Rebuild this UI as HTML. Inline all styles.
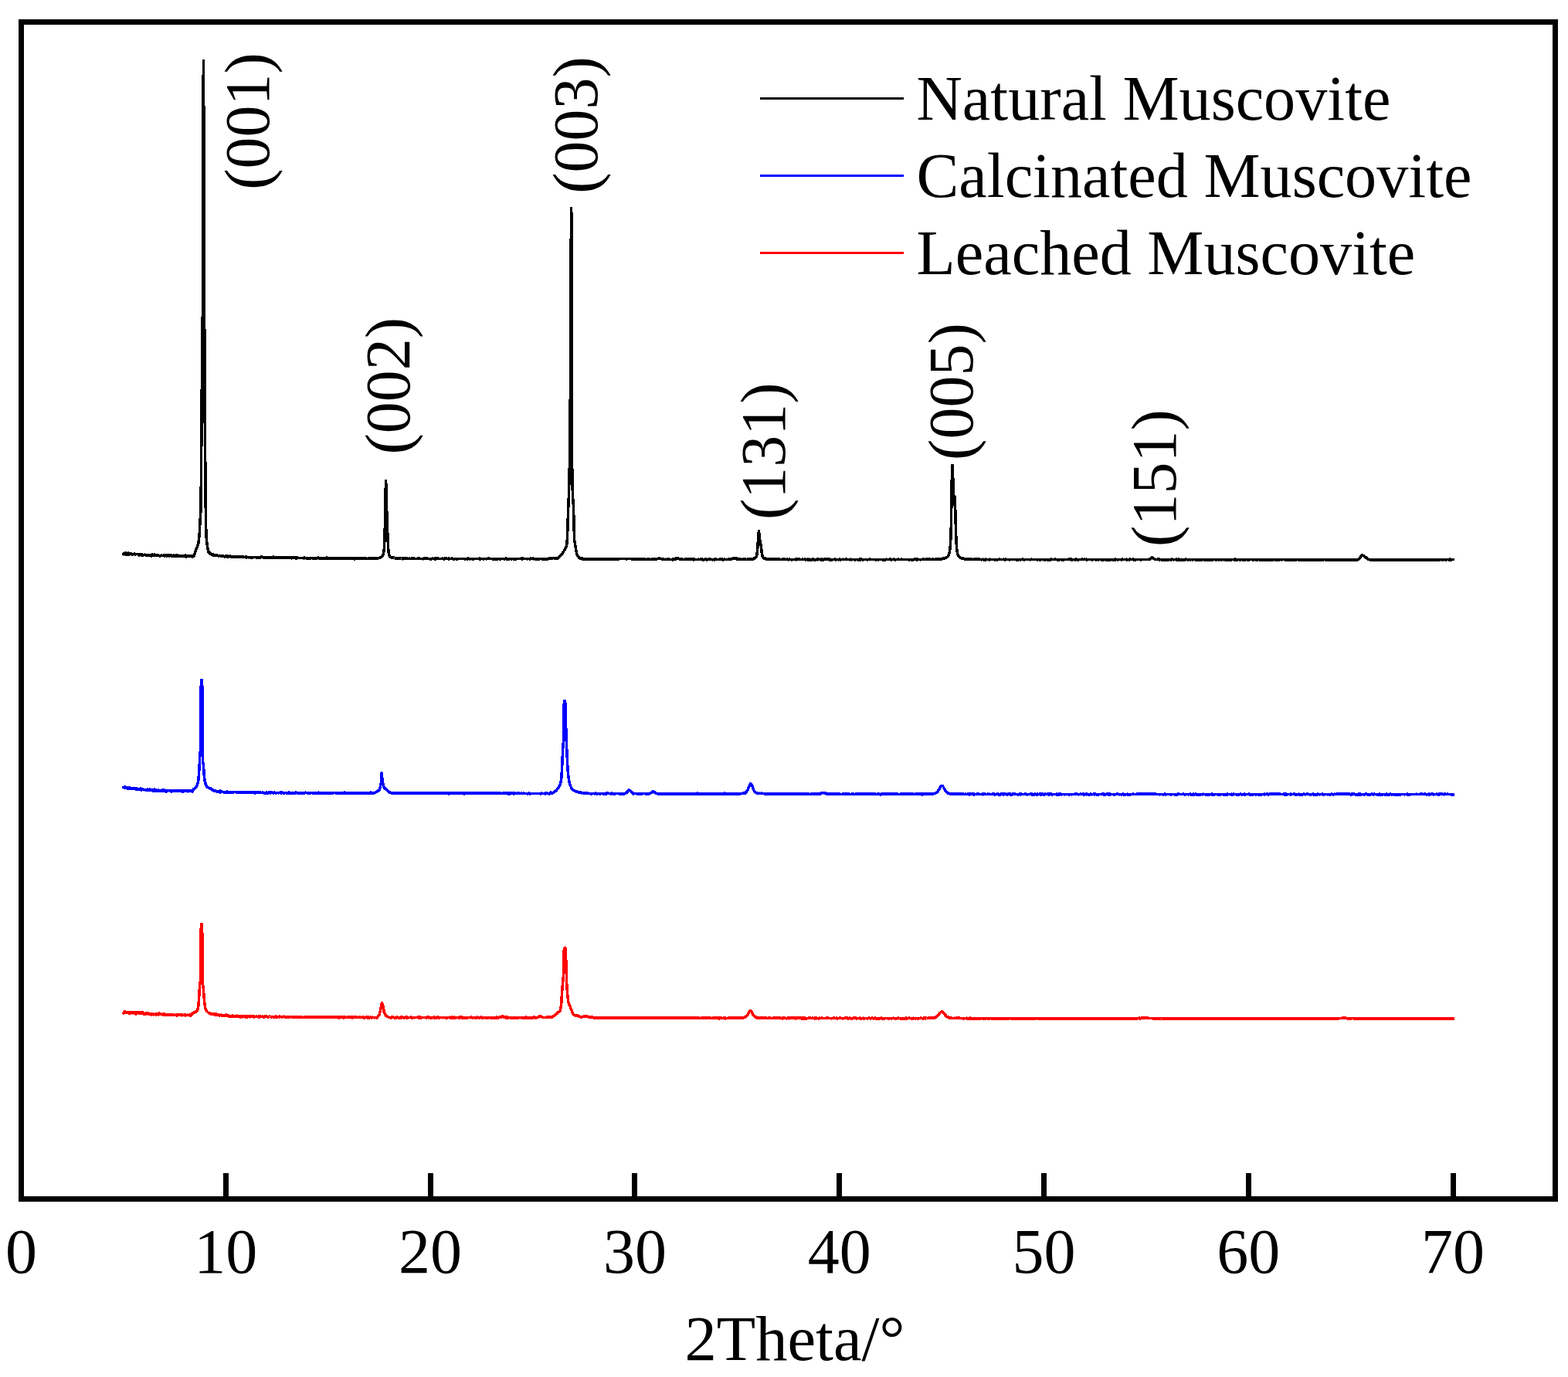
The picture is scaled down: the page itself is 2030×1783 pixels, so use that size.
<!DOCTYPE html>
<html lang="en">
<head>
<meta charset="utf-8">
<title>XRD patterns of muscovite</title>
<style>
html,body{margin:0;padding:0;background:#fff;}
body{width:2030px;height:1783px;overflow:hidden;}
svg{display:block;}
text{font-family:"Liberation Serif","Times New Roman",serif;font-size:82.2px;fill:#000;}
.tk{font-size:82px;text-anchor:middle;}
.pk{font-size:82px;text-anchor:middle;}
.ax{font-size:82.5px;text-anchor:middle;}
.c{fill:none;stroke-width:3.5;stroke-linejoin:round;stroke-linecap:square;shape-rendering:crispEdges;}
.x{shape-rendering:crispEdges;}
</style>
</head>
<body>
<svg width="2030" height="1783" viewBox="0 0 2030 1783">
<rect x="0" y="0" width="2030" height="1783" fill="#fff"/>
<polyline class="c" stroke="#000" points="159.90,717.5 160.43,716.5 160.96,716.5 161.49,716.5 162.02,717.5 162.55,715.5 163.08,718.0 163.61,716.5 164.14,717.0 164.67,717.0 165.20,718.0 165.73,716.0 166.26,717.0 166.78,717.0 167.31,718.0 167.84,716.5 168.37,717.0 168.90,717.0 169.43,717.5 169.96,717.5 170.49,717.0 171.02,718.0 171.55,718.0 172.08,718.0 172.61,718.0 173.14,717.5 173.67,717.5 174.20,717.0 174.73,717.5 175.26,718.0 175.79,717.5 176.32,717.5 176.85,717.5 177.38,717.5 177.91,717.5 178.44,718.0 178.97,717.5 179.50,718.0 180.02,719.0 180.55,718.5 181.08,718.0 181.61,718.0 182.14,718.0 182.67,719.0 183.20,718.5 183.73,718.0 184.26,718.5 184.79,719.5 185.32,718.5 185.85,718.5 186.38,718.5 186.91,718.5 187.44,718.0 187.97,718.5 188.50,718.5 189.03,719.0 189.56,719.0 190.09,719.0 190.62,719.0 191.15,719.0 191.68,718.5 192.21,719.5 192.74,719.0 193.26,718.5 193.79,719.0 194.32,718.5 194.85,719.5 195.38,719.5 195.91,720.0 196.44,718.0 196.97,718.0 197.50,718.5 198.03,719.0 198.56,719.5 199.09,719.0 199.62,718.0 200.15,719.0 200.68,719.5 201.21,719.0 201.74,719.5 202.27,719.0 202.80,719.0 203.33,719.0 203.86,719.5 204.39,719.0 204.92,719.0 205.45,719.0 205.98,719.5 206.50,719.5 207.03,720.0 207.56,720.0 208.09,719.5 208.62,719.0 209.15,719.0 209.68,719.5 210.21,719.5 210.74,719.5 211.27,719.5 211.80,719.0 212.33,719.5 212.86,719.0 213.39,720.0 213.92,719.5 214.45,719.5 214.98,719.0 215.51,719.5 216.04,720.0 216.57,719.0 217.10,719.5 217.63,719.5 218.16,719.0 218.69,719.5 219.22,720.0 219.74,719.0 220.27,719.5 220.80,719.0 221.33,719.5 221.86,719.0 222.39,720.0 222.92,720.0 223.45,719.5 223.98,719.5 224.51,720.0 225.04,720.5 225.57,719.0 226.10,720.0 226.63,720.5 227.16,720.0 227.69,719.0 228.22,720.0 228.75,719.5 229.28,719.5 229.81,719.0 230.34,720.0 230.87,720.0 231.40,719.5 231.93,720.0 232.46,719.5 232.98,720.0 233.51,720.0 234.04,719.5 234.57,720.0 235.10,720.0 235.63,720.0 236.16,720.0 236.69,720.0 237.22,720.0 237.75,720.0 238.28,720.0 238.81,720.0 239.34,720.0 239.87,719.0 240.40,720.5 240.93,721.0 241.46,720.0 241.99,720.0 242.52,720.0 243.05,720.0 243.58,720.0 244.11,719.5 244.64,720.0 245.17,719.5 245.70,720.0 246.22,720.0 246.75,720.0 247.28,720.0 247.81,720.5 248.34,720.0 248.87,721.0 249.40,719.5 249.93,720.0 250.46,720.5 250.99,720.0 251.52,718.0 252.05,716.5 252.58,715.0 253.11,714.0 253.64,712.0 254.17,711.0 254.70,709.5 255.23,708.0 255.76,706.5 256.29,705.5 256.82,703.5 257.35,699.0 257.88,695.0 258.41,688.0 258.94,676.0 259.46,668.0 259.99,660.0 260.52,602.0 261.05,504.5 261.58,577.0 262.11,463.0 262.64,287.0 263.17,105.5 263.50,78.5 264.23,239.5 264.76,426.0 265.29,555.5 265.82,604.0 266.35,669.0 266.88,689.0 267.41,699.5 267.94,703.5 268.47,708.0 269.00,710.5 269.53,712.5 270.06,715.0 270.59,715.5 271.12,716.0 271.65,716.0 272.18,717.0 272.70,717.0 273.23,717.5 273.76,718.0 274.29,718.0 274.82,718.0 275.35,718.5 275.88,718.0 276.41,719.0 276.94,718.5 277.47,719.0 278.00,718.5 278.53,718.5 279.06,719.5 279.59,719.0 280.12,719.0 280.65,719.0 281.18,719.0 281.71,719.5 282.24,719.5 282.77,719.5 283.30,720.0 283.83,719.5 284.36,719.5 284.89,719.5 285.42,719.5 285.94,719.5 286.47,720.5 287.00,720.0 287.53,720.0 288.06,720.5 288.59,720.0 289.12,720.0 289.65,720.5 290.18,720.5 290.71,720.5 291.24,721.0 291.77,720.0 292.30,720.5 292.83,720.5 293.36,719.5 293.89,721.0 294.42,720.5 294.95,720.0 295.48,721.0 296.01,721.0 296.54,721.0 297.07,720.5 297.60,720.5 298.13,720.0 298.66,721.0 299.18,720.5 299.71,721.0 300.24,721.0 300.77,721.0 301.30,721.0 301.83,721.0 302.36,720.5 302.89,721.0 303.42,721.5 303.95,721.0 304.48,721.0 305.01,720.5 305.54,720.5 306.07,720.5 306.60,721.5 307.13,721.0 307.66,721.5 308.19,721.0 308.72,721.0 309.25,721.0 309.78,721.5 310.31,721.0 310.84,721.0 311.37,721.0 311.90,721.5 312.42,721.0 312.95,721.5 313.48,721.0 314.01,721.5 314.54,721.5 315.07,721.0 315.60,721.5 316.13,721.5 316.66,721.5 317.19,721.5 317.72,721.0 318.25,721.5 318.78,722.0 319.31,721.0 319.84,721.5 320.37,721.5 320.90,721.5 321.43,722.0 321.96,721.5 322.49,721.5 323.02,721.5 323.55,721.5 324.08,722.0 324.61,721.5 325.14,722.0 325.66,721.5 326.19,722.5 326.72,722.0 327.25,721.5 327.78,721.5 328.31,721.5 328.84,721.5 329.37,721.5 329.90,721.5 330.43,721.5 330.96,721.5 331.49,722.0 332.02,722.0 332.55,721.5 333.08,722.0 333.61,721.5 334.14,722.0 334.67,722.0 335.20,722.0 335.73,721.5 336.26,721.5 336.79,722.0 337.32,721.5 337.85,721.0 338.38,721.0 338.90,721.0 339.43,721.0 339.96,721.5 340.49,722.0 341.02,721.5 341.55,722.0 342.08,721.5 342.61,722.0 343.14,721.5 343.67,721.5 344.20,722.0 344.73,721.5 345.26,722.0 345.79,722.0 346.32,722.0 346.85,722.0 347.38,721.5 347.91,721.5 348.44,722.0 348.97,722.0 349.50,721.5 350.03,721.5 350.56,721.5 351.09,722.0 351.62,721.5 352.14,722.0 352.67,722.0 353.20,722.0 353.73,722.0 354.26,721.0 354.79,722.0 355.32,722.0 355.85,722.0 356.38,722.0 356.91,722.0 357.44,722.0 357.97,722.5 358.50,722.0 359.03,722.5 359.56,722.0 360.09,721.5 360.62,722.0 361.15,722.5 361.68,722.0 362.21,721.5 362.74,722.0 363.27,722.0 363.80,722.0 364.33,722.0 364.86,722.0 365.38,722.0 365.91,722.0 366.44,721.5 366.97,722.5 367.50,722.0 368.03,722.5 368.56,722.0 369.09,722.5 369.62,721.5 370.15,722.5 370.68,722.0 371.21,722.5 371.74,722.0 372.27,722.0 372.80,722.5 373.33,722.5 373.86,722.0 374.39,722.0 374.92,721.5 375.45,722.0 375.98,722.5 376.51,722.5 377.04,722.0 377.57,723.0 378.10,722.5 378.62,722.5 379.15,721.5 379.68,722.0 380.21,722.0 380.74,722.5 381.27,722.5 381.80,722.0 382.33,722.5 382.86,723.0 383.39,722.0 383.92,722.0 384.45,723.0 384.98,722.5 385.51,722.0 386.04,722.5 386.57,722.5 387.10,722.5 387.63,722.5 388.16,722.5 388.69,722.5 389.22,722.5 389.75,722.5 390.28,722.5 390.81,722.5 391.34,722.5 391.86,722.5 392.39,723.0 392.92,722.5 393.45,722.0 393.98,722.0 394.51,723.0 395.04,722.5 395.57,722.5 396.10,722.5 396.63,723.0 397.16,722.5 397.69,723.0 398.22,722.5 398.75,723.0 399.28,722.5 399.81,722.5 400.34,723.0 400.87,722.5 401.40,722.5 401.93,723.0 402.46,722.5 402.99,722.5 403.52,722.5 404.05,722.5 404.58,723.0 405.10,723.0 405.63,722.5 406.16,722.5 406.69,723.0 407.22,723.0 407.75,723.0 408.28,722.5 408.81,723.0 409.34,722.5 409.87,722.5 410.40,723.0 410.93,722.5 411.46,722.5 411.99,722.0 412.52,722.5 413.05,723.0 413.58,722.5 414.11,723.0 414.64,722.5 415.17,722.5 415.70,723.0 416.23,723.0 416.76,723.0 417.29,723.0 417.82,723.0 418.34,723.0 418.87,722.5 419.40,722.5 419.93,723.0 420.46,722.5 420.99,723.0 421.52,722.5 422.05,722.5 422.58,723.0 423.11,722.0 423.64,722.5 424.17,723.0 424.70,722.5 425.23,723.0 425.76,722.5 426.29,722.5 426.82,723.0 427.35,723.0 427.88,722.5 428.41,723.0 428.94,722.5 429.47,723.0 430.00,723.5 430.53,723.0 431.06,723.0 431.58,722.5 432.11,723.0 432.64,722.5 433.17,722.5 433.70,723.0 434.23,723.0 434.76,723.0 435.29,723.5 435.82,723.0 436.35,723.0 436.88,723.5 437.41,723.0 437.94,723.0 438.47,723.0 439.00,723.0 439.53,723.0 440.06,723.5 440.59,723.5 441.12,722.5 441.65,723.0 442.18,723.0 442.71,723.0 443.24,723.0 443.77,723.0 444.30,723.0 444.82,722.5 445.35,723.0 445.88,723.0 446.41,723.0 446.94,722.5 447.47,723.0 448.00,722.5 448.53,722.5 449.06,723.0 449.59,723.5 450.12,723.5 450.65,722.5 451.18,723.0 451.71,722.5 452.24,723.5 452.77,722.5 453.30,723.0 453.83,723.5 454.36,723.0 454.89,723.5 455.42,723.0 455.95,723.0 456.48,723.5 457.01,723.0 457.54,723.5 458.06,723.0 458.59,722.5 459.12,724.0 459.65,723.0 460.18,723.0 460.71,722.5 461.24,723.0 461.77,723.0 462.30,723.5 462.83,723.0 463.36,723.5 463.89,723.0 464.42,723.0 464.95,723.0 465.48,723.0 466.01,723.0 466.54,723.5 467.07,723.5 467.60,723.0 468.13,723.0 468.66,723.0 469.19,723.5 469.72,723.0 470.25,723.5 470.78,723.0 471.30,723.0 471.83,722.5 472.36,723.0 472.89,723.0 473.42,723.5 473.95,723.5 474.48,723.0 475.01,723.5 475.54,723.5 476.07,723.5 476.60,723.0 477.13,723.5 477.66,723.0 478.19,723.0 478.72,723.0 479.25,723.0 479.78,723.0 480.31,723.0 480.84,723.0 481.37,723.0 481.90,722.5 482.43,723.5 482.96,723.0 483.49,723.5 484.02,723.0 484.54,723.0 485.07,722.5 485.60,722.5 486.13,723.0 486.66,722.5 487.19,723.0 487.72,722.5 488.25,723.0 488.78,722.5 489.31,723.0 489.84,722.5 490.37,722.5 490.90,722.5 491.43,722.5 491.96,722.0 492.49,722.0 493.02,721.5 493.55,721.0 494.08,721.0 494.61,720.5 495.14,720.0 495.67,719.0 496.20,718.0 496.73,715.5 497.26,711.5 497.78,702.0 498.31,682.5 498.84,651.0 499.50,622.5 499.90,628.5 500.43,652.0 500.96,668.5 501.49,682.0 502.02,697.0 502.55,708.0 503.08,714.5 503.61,717.5 504.14,719.0 504.67,720.0 505.20,721.0 505.73,721.5 506.26,721.5 506.79,721.5 507.32,722.0 507.85,722.0 508.38,722.5 508.91,722.0 509.44,722.5 509.97,722.0 510.50,722.5 511.02,722.5 511.55,723.0 512.08,723.0 512.61,723.0 513.14,723.0 513.67,722.5 514.20,723.0 514.73,722.5 515.26,723.0 515.79,723.0 516.32,723.5 516.85,723.0 517.38,723.0 517.91,723.0 518.44,723.0 518.97,723.0 519.50,723.5 520.03,723.5 520.56,723.0 521.09,723.0 521.62,724.0 522.15,723.5 522.68,723.0 523.21,723.5 523.74,723.5 524.26,723.5 524.79,723.5 525.32,723.0 525.85,723.0 526.38,723.0 526.91,723.5 527.44,723.0 527.97,723.5 528.50,723.5 529.03,723.5 529.56,723.0 530.09,723.0 530.62,723.0 531.15,723.5 531.68,723.5 532.21,723.5 532.74,723.0 533.27,723.5 533.80,723.0 534.33,723.5 534.86,723.5 535.39,723.0 535.92,723.0 536.45,723.0 536.98,723.5 537.50,723.5 538.03,723.5 538.56,723.5 539.09,723.5 539.62,723.5 540.15,723.5 540.68,723.5 541.21,723.0 541.74,723.5 542.27,723.5 542.80,723.5 543.33,723.0 543.86,723.5 544.39,723.5 544.92,723.5 545.45,723.5 545.98,723.5 546.51,723.5 547.04,723.5 547.57,724.0 548.10,723.5 548.63,723.5 549.16,723.0 549.69,723.5 550.22,723.5 550.74,723.0 551.27,723.0 551.80,723.5 552.33,723.5 552.86,723.0 553.39,723.5 553.92,723.5 554.45,723.5 554.98,723.5 555.51,723.5 556.04,723.5 556.57,723.5 557.10,724.0 557.63,723.5 558.16,724.0 558.69,723.5 559.22,723.5 559.75,723.5 560.28,723.0 560.81,723.5 561.34,723.5 561.87,723.5 562.40,724.0 562.93,723.0 563.46,723.0 563.98,724.0 564.51,723.5 565.04,723.0 565.57,723.5 566.10,723.5 566.63,723.0 567.16,723.5 567.69,723.5 568.22,723.5 568.75,723.5 569.28,723.5 569.81,723.5 570.34,723.5 570.87,723.5 571.40,723.5 571.93,723.5 572.46,723.0 572.99,723.5 573.52,723.0 574.05,723.5 574.58,723.5 575.11,724.0 575.64,723.0 576.17,723.5 576.70,723.5 577.22,723.5 577.75,723.5 578.28,723.0 578.81,723.5 579.34,723.5 579.87,723.5 580.40,724.0 580.93,723.0 581.46,724.0 581.99,723.5 582.52,723.5 583.05,723.5 583.58,723.5 584.11,723.5 584.64,723.0 585.17,723.5 585.70,723.5 586.23,723.5 586.76,723.5 587.29,724.0 587.82,723.5 588.35,724.0 588.88,723.5 589.41,723.5 589.94,723.5 590.46,723.5 590.99,724.0 591.52,723.5 592.05,724.0 592.58,723.5 593.11,723.5 593.64,723.5 594.17,723.5 594.70,723.5 595.23,723.5 595.76,723.5 596.29,723.5 596.82,723.5 597.35,723.5 597.88,723.5 598.41,723.5 598.94,723.5 599.47,723.5 600.00,723.5 600.53,723.5 601.06,723.5 601.59,723.5 602.12,724.0 602.65,723.5 603.18,723.5 603.70,723.5 604.23,723.5 604.76,724.0 605.29,723.5 605.82,723.5 606.35,723.0 606.88,723.5 607.41,724.0 607.94,723.5 608.47,723.5 609.00,723.5 609.53,724.0 610.06,723.5 610.59,723.5 611.12,723.5 611.65,724.0 612.18,723.5 612.71,724.0 613.24,724.0 613.77,723.5 614.30,723.5 614.83,723.5 615.36,723.5 615.89,723.5 616.42,723.5 616.94,723.5 617.47,723.5 618.00,723.5 618.53,723.5 619.06,723.5 619.59,723.5 620.12,723.5 620.65,724.0 621.18,723.0 621.71,724.0 622.24,724.0 622.77,723.5 623.30,723.5 623.83,723.5 624.36,723.5 624.89,723.5 625.42,724.0 625.95,723.5 626.48,724.0 627.01,723.5 627.54,723.5 628.07,723.5 628.60,723.5 629.13,723.5 629.66,724.0 630.18,723.5 630.71,723.5 631.24,723.5 631.77,723.5 632.30,723.0 632.83,723.5 633.36,723.0 633.89,723.5 634.42,723.5 634.95,723.5 635.48,723.5 636.01,723.5 636.54,723.5 637.07,723.5 637.60,723.5 638.13,724.0 638.66,723.5 639.19,723.5 639.72,724.0 640.25,723.5 640.78,724.0 641.31,723.5 641.84,724.0 642.37,724.0 642.90,723.5 643.42,723.5 643.95,724.0 644.48,724.0 645.01,723.5 645.54,723.5 646.07,723.5 646.60,723.5 647.13,724.0 647.66,723.5 648.19,724.0 648.72,723.5 649.25,723.5 649.78,723.5 650.31,723.5 650.84,723.5 651.37,723.5 651.90,723.5 652.43,724.0 652.96,724.0 653.49,723.5 654.02,723.5 654.55,723.5 655.08,723.0 655.61,724.0 656.14,724.0 656.66,724.0 657.19,723.5 657.72,724.0 658.25,723.5 658.78,724.0 659.31,724.0 659.84,723.5 660.37,723.5 660.90,723.5 661.43,723.5 661.96,724.0 662.49,723.5 663.02,723.5 663.55,723.5 664.08,723.5 664.61,724.0 665.14,723.5 665.67,723.5 666.20,724.0 666.73,723.5 667.26,723.5 667.79,724.0 668.32,723.5 668.85,723.5 669.38,723.5 669.90,723.5 670.43,723.5 670.96,723.5 671.49,723.5 672.02,723.5 672.55,723.5 673.08,723.5 673.61,723.5 674.14,723.5 674.67,723.5 675.20,723.0 675.73,724.0 676.26,723.5 676.79,723.0 677.32,723.5 677.85,723.5 678.38,723.5 678.91,723.5 679.44,723.5 679.97,723.5 680.50,723.5 681.03,723.5 681.56,723.5 682.09,723.5 682.62,724.0 683.14,723.5 683.67,723.5 684.20,723.5 684.73,723.5 685.26,723.5 685.79,723.5 686.32,724.0 686.85,723.5 687.38,723.0 687.91,723.5 688.44,723.5 688.97,723.5 689.50,723.5 690.03,723.0 690.56,724.0 691.09,723.5 691.62,723.5 692.15,723.5 692.68,723.5 693.21,724.0 693.74,724.0 694.27,724.0 694.80,724.0 695.33,723.5 695.86,723.5 696.38,724.0 696.91,724.0 697.44,723.5 697.97,724.0 698.50,723.5 699.03,723.5 699.56,723.5 700.09,723.5 700.62,723.5 701.15,723.5 701.68,723.5 702.21,724.0 702.74,724.0 703.27,723.5 703.80,724.0 704.33,723.5 704.86,723.5 705.39,724.0 705.92,723.5 706.45,724.0 706.98,723.5 707.51,724.0 708.04,723.5 708.57,724.5 709.10,723.5 709.62,723.5 710.15,723.5 710.68,723.0 711.21,723.5 711.74,723.5 712.27,723.5 712.80,723.0 713.33,722.5 713.86,723.0 714.39,723.0 714.92,723.0 715.45,722.5 715.98,722.5 716.51,722.5 717.04,722.5 717.57,722.5 718.10,723.0 718.63,723.0 719.16,723.0 719.69,723.0 720.22,723.0 720.75,723.5 721.28,723.0 721.81,723.0 722.34,723.0 722.86,722.5 723.39,722.0 723.92,721.5 724.45,721.0 724.98,720.0 725.51,719.5 726.04,719.0 726.57,718.0 727.10,718.0 727.63,717.5 728.16,716.5 728.69,715.5 729.22,714.5 729.75,714.0 730.28,713.0 730.81,712.5 731.34,711.5 731.87,710.5 732.40,709.5 732.93,708.5 733.46,707.5 733.99,702.5 734.52,695.5 735.05,677.5 735.58,661.5 736.10,649.5 736.63,634.0 737.16,610.5 737.69,586.5 738.22,530.0 738.75,395.5 739.50,269.5 739.81,276.5 740.34,581.5 740.87,614.0 741.40,641.5 741.93,648.5 742.46,656.0 742.99,675.5 743.52,699.0 744.05,701.5 744.58,704.5 745.11,708.0 745.64,711.5 746.17,714.0 746.70,717.0 747.23,718.5 747.76,719.0 748.29,720.5 748.82,721.0 749.34,721.5 749.87,722.5 750.40,723.0 750.93,722.5 751.46,723.0 751.99,723.0 752.52,723.5 753.05,723.5 753.58,724.0 754.11,723.0 754.64,724.0 755.17,724.0 755.70,724.0 756.23,724.0 756.76,724.0 757.29,724.0 757.82,724.0 758.35,723.5 758.88,724.0 759.41,724.5 759.94,724.0 760.47,724.0 761.00,724.0 761.53,724.0 762.06,724.0 762.58,724.0 763.11,724.5 763.64,724.0 764.17,724.0 764.70,724.0 765.23,724.0 765.76,724.0 766.29,724.5 766.82,724.0 767.35,724.0 767.88,724.0 768.41,724.0 768.94,724.0 769.47,724.0 770.00,724.5 770.53,724.0 771.06,723.5 771.59,724.0 772.12,724.0 772.65,724.0 773.18,724.0 773.71,724.0 774.24,723.5 774.77,724.0 775.30,724.0 775.82,724.0 776.35,724.0 776.88,723.5 777.41,723.5 777.94,724.0 778.47,723.5 779.00,724.5 779.53,724.0 780.06,724.5 780.59,723.5 781.12,724.5 781.65,724.0 782.18,724.0 782.71,724.0 783.24,724.0 783.77,723.5 784.30,724.0 784.83,724.0 785.36,724.0 785.89,724.0 786.42,724.0 786.95,724.0 787.48,724.0 788.01,724.0 788.54,724.0 789.06,724.0 789.59,724.0 790.12,724.0 790.65,724.5 791.18,724.0 791.71,724.0 792.24,724.5 792.77,724.0 793.30,724.0 793.83,724.0 794.36,724.0 794.89,724.0 795.42,724.0 795.95,724.0 796.48,724.0 797.01,724.0 797.54,724.0 798.07,724.0 798.60,724.5 799.13,724.0 799.66,724.0 800.19,724.5 800.72,724.0 801.25,723.5 801.78,723.5 802.30,723.5 802.83,723.5 803.36,723.5 803.89,723.5 804.42,723.5 804.95,723.5 805.48,723.5 806.01,723.5 806.54,723.5 807.07,723.5 807.60,723.5 808.13,723.5 808.66,723.5 809.19,723.5 809.72,723.5 810.25,723.5 810.78,724.0 811.31,723.5 811.84,723.5 812.37,723.5 812.90,723.5 813.43,723.5 813.96,723.5 814.49,723.5 815.02,723.5 815.54,723.5 816.07,723.5 816.60,723.5 817.13,723.5 817.66,724.0 818.19,723.5 818.72,724.5 819.25,724.0 819.78,723.5 820.31,724.5 820.84,724.0 821.37,724.0 821.90,724.0 822.43,724.0 822.96,724.5 823.49,724.0 824.02,724.0 824.55,724.0 825.08,724.5 825.61,724.5 826.14,724.0 826.67,724.5 827.20,724.0 827.73,724.0 828.26,724.5 828.78,724.5 829.31,724.5 829.84,724.0 830.37,724.5 830.90,724.0 831.43,724.0 831.96,724.5 832.49,724.0 833.02,724.0 833.55,724.0 834.08,724.5 834.61,724.0 835.14,724.0 835.67,724.5 836.20,724.5 836.73,724.5 837.26,724.5 837.79,724.5 838.32,724.0 838.85,724.5 839.38,724.0 839.91,724.0 840.44,724.5 840.97,724.0 841.50,724.0 842.02,724.5 842.55,724.5 843.08,724.5 843.61,724.0 844.14,724.0 844.67,724.5 845.20,724.5 845.73,724.0 846.26,724.5 846.79,724.5 847.32,724.5 847.85,724.0 848.38,724.5 848.91,724.5 849.44,724.0 849.97,723.5 850.50,724.0 851.03,723.5 851.56,723.5 852.09,723.5 852.62,723.0 853.15,723.5 853.68,723.0 854.21,723.5 854.74,723.5 855.26,723.5 855.79,723.5 856.32,723.5 856.85,724.0 857.38,724.0 857.91,724.0 858.44,724.0 858.97,724.5 859.50,724.0 860.03,724.5 860.56,724.5 861.09,724.5 861.62,724.0 862.15,724.5 862.68,724.5 863.21,724.5 863.74,724.0 864.27,724.5 864.80,724.5 865.33,724.5 865.86,724.0 866.39,724.5 866.92,724.5 867.45,724.5 867.98,724.5 868.50,724.5 869.03,724.5 869.56,724.5 870.09,724.5 870.62,724.0 871.15,725.0 871.68,724.0 872.21,724.0 872.74,724.0 873.27,723.5 873.80,723.5 874.33,724.0 874.86,724.0 875.39,723.5 875.92,722.5 876.45,723.0 876.98,723.0 877.51,723.0 878.04,723.0 878.57,723.5 879.10,723.5 879.63,723.5 880.16,724.0 880.69,724.0 881.22,724.0 881.74,724.5 882.27,724.0 882.80,724.5 883.33,724.0 883.86,724.5 884.39,724.5 884.92,724.5 885.45,724.5 885.98,724.5 886.51,724.5 887.04,724.0 887.57,724.5 888.10,724.0 888.63,724.5 889.16,724.0 889.69,724.5 890.22,724.5 890.75,724.5 891.28,724.0 891.81,724.0 892.34,724.5 892.87,724.0 893.40,724.0 893.93,724.0 894.46,724.5 894.98,724.0 895.51,724.5 896.04,724.0 896.57,724.5 897.10,724.0 897.63,724.0 898.16,725.0 898.69,724.0 899.22,724.5 899.75,724.5 900.28,724.5 900.81,724.5 901.34,724.5 901.87,724.5 902.40,724.5 902.93,724.5 903.46,724.5 903.99,724.5 904.52,724.0 905.05,724.5 905.58,724.5 906.11,724.5 906.64,724.0 907.17,724.0 907.70,724.5 908.22,724.5 908.75,724.0 909.28,724.0 909.81,724.5 910.34,725.0 910.87,725.0 911.40,724.5 911.93,724.5 912.46,724.0 912.99,724.5 913.52,724.0 914.05,724.0 914.58,724.5 915.11,725.0 915.64,724.5 916.17,724.5 916.70,724.5 917.23,724.0 917.76,724.5 918.29,724.5 918.82,724.5 919.35,724.0 919.88,724.5 920.41,724.0 920.94,724.5 921.46,724.5 921.99,724.5 922.52,725.0 923.05,724.5 923.58,724.5 924.11,724.5 924.64,724.0 925.17,725.0 925.70,724.5 926.23,724.5 926.76,724.0 927.29,724.5 927.82,724.5 928.35,724.5 928.88,724.5 929.41,724.5 929.94,724.5 930.47,724.5 931.00,724.5 931.53,724.0 932.06,724.5 932.59,724.0 933.12,724.0 933.65,724.5 934.18,724.0 934.70,723.5 935.23,724.5 935.76,724.5 936.29,725.0 936.82,724.5 937.35,724.5 937.88,724.0 938.41,724.0 938.94,724.5 939.47,724.5 940.00,724.5 940.53,724.5 941.06,724.5 941.59,724.5 942.12,724.5 942.65,724.5 943.18,724.0 943.71,724.5 944.24,724.0 944.77,724.5 945.30,724.0 945.83,724.0 946.36,723.5 946.89,724.0 947.42,724.0 947.94,723.5 948.47,723.0 949.00,723.0 949.53,723.5 950.06,723.0 950.59,723.0 951.12,723.5 951.65,723.0 952.18,723.0 952.71,723.0 953.24,723.5 953.77,723.0 954.30,724.0 954.83,723.5 955.36,723.5 955.89,724.0 956.42,724.0 956.95,724.0 957.48,724.0 958.01,724.0 958.54,724.0 959.07,724.5 959.60,724.0 960.13,724.5 960.66,724.5 961.18,724.5 961.71,724.0 962.24,724.5 962.77,724.0 963.30,724.0 963.83,724.0 964.36,724.5 964.89,724.5 965.42,724.0 965.95,724.5 966.48,724.5 967.01,724.5 967.54,724.0 968.07,724.5 968.60,724.5 969.13,724.0 969.66,724.0 970.19,724.5 970.72,723.5 971.25,723.5 971.78,723.5 972.31,724.0 972.84,724.0 973.37,724.0 973.90,724.0 974.42,724.0 974.95,724.0 975.48,723.5 976.01,723.0 976.54,723.5 977.07,723.0 977.60,722.5 978.13,722.0 978.66,721.5 979.19,720.5 979.72,719.0 980.25,715.5 980.78,709.5 981.31,701.0 981.84,692.0 982.50,687.5 982.90,691.0 983.43,697.0 983.96,701.0 984.49,702.5 985.02,705.0 985.55,709.5 986.08,714.5 986.61,718.0 987.14,720.0 987.66,721.5 988.19,722.5 988.72,722.5 989.25,723.0 989.78,723.5 990.31,723.5 990.84,723.0 991.37,723.5 991.90,724.0 992.43,724.0 992.96,724.0 993.49,723.5 994.02,724.0 994.55,724.0 995.08,724.0 995.61,724.0 996.14,724.0 996.67,724.5 997.20,723.5 997.73,724.0 998.26,724.5 998.79,724.0 999.32,724.0 999.85,724.5 1000.38,724.0 1000.90,724.5 1001.43,724.5 1001.96,724.0 1002.49,724.5 1003.02,724.0 1003.55,724.5 1004.08,724.0 1004.61,724.0 1005.14,724.0 1005.67,724.0 1006.20,724.5 1006.73,724.5 1007.26,724.5 1007.79,724.5 1008.32,724.0 1008.85,724.5 1009.38,724.0 1009.91,724.5 1010.44,724.5 1010.97,724.5 1011.50,724.5 1012.03,724.5 1012.56,724.0 1013.09,724.5 1013.62,724.0 1014.14,724.5 1014.67,724.0 1015.20,724.0 1015.73,724.0 1016.26,724.0 1016.79,724.5 1017.32,724.5 1017.85,724.5 1018.38,724.0 1018.91,724.0 1019.44,724.0 1019.97,724.5 1020.50,725.0 1021.03,724.5 1021.56,724.0 1022.09,724.5 1022.62,724.0 1023.15,724.5 1023.68,724.5 1024.21,724.5 1024.74,725.0 1025.27,724.5 1025.80,724.5 1026.33,724.5 1026.86,724.5 1027.38,724.5 1027.91,724.5 1028.44,724.5 1028.97,724.5 1029.50,724.0 1030.03,724.0 1030.56,725.0 1031.09,724.0 1031.62,724.5 1032.15,724.5 1032.68,724.0 1033.21,724.5 1033.74,724.0 1034.27,724.0 1034.80,724.0 1035.33,724.5 1035.86,724.5 1036.39,724.5 1036.92,724.5 1037.45,724.5 1037.98,724.5 1038.51,724.5 1039.04,724.0 1039.57,724.5 1040.10,724.5 1040.62,724.5 1041.15,724.5 1041.68,724.0 1042.21,724.5 1042.74,725.0 1043.27,725.0 1043.80,724.5 1044.33,724.5 1044.86,724.5 1045.39,724.5 1045.92,724.0 1046.45,725.0 1046.98,724.5 1047.51,725.0 1048.04,724.5 1048.57,724.0 1049.10,725.0 1049.63,724.5 1050.16,724.5 1050.69,725.0 1051.22,725.0 1051.75,724.0 1052.28,724.5 1052.81,724.0 1053.34,724.5 1053.86,725.0 1054.39,724.5 1054.92,725.0 1055.45,724.5 1055.98,725.0 1056.51,724.5 1057.04,724.5 1057.57,724.5 1058.10,724.0 1058.63,725.0 1059.16,724.5 1059.69,724.5 1060.22,724.0 1060.75,724.5 1061.28,724.5 1061.81,724.5 1062.34,724.5 1062.87,724.0 1063.40,725.0 1063.93,724.5 1064.46,724.0 1064.99,725.0 1065.52,724.5 1066.05,725.0 1066.58,724.5 1067.10,724.0 1067.63,724.5 1068.16,724.0 1068.69,724.5 1069.22,724.5 1069.75,724.5 1070.28,724.0 1070.81,724.5 1071.34,724.5 1071.87,724.5 1072.40,724.0 1072.93,724.5 1073.46,725.0 1073.99,724.0 1074.52,724.5 1075.05,725.0 1075.58,724.5 1076.11,724.5 1076.64,724.5 1077.17,725.0 1077.70,724.5 1078.23,724.5 1078.76,724.5 1079.29,724.5 1079.82,724.5 1080.34,724.5 1080.87,724.0 1081.40,724.5 1081.93,725.0 1082.46,724.5 1082.99,724.5 1083.52,724.5 1084.05,724.5 1084.58,724.5 1085.11,724.5 1085.64,725.0 1086.17,724.5 1086.70,724.5 1087.23,724.0 1087.76,725.0 1088.29,724.5 1088.82,724.5 1089.35,724.5 1089.88,724.5 1090.41,724.5 1090.94,724.5 1091.47,724.0 1092.00,724.5 1092.53,724.5 1093.06,724.5 1093.58,724.5 1094.11,724.5 1094.64,724.5 1095.17,724.0 1095.70,724.5 1096.23,724.0 1096.76,724.5 1097.29,724.5 1097.82,724.5 1098.35,724.5 1098.88,724.5 1099.41,724.5 1099.94,724.5 1100.47,725.0 1101.00,724.5 1101.53,724.0 1102.06,724.5 1102.59,725.0 1103.12,724.5 1103.65,724.5 1104.18,724.5 1104.71,724.5 1105.24,724.5 1105.77,724.5 1106.30,724.5 1106.82,725.0 1107.35,724.5 1107.88,724.5 1108.41,724.5 1108.94,724.5 1109.47,724.5 1110.00,724.5 1110.53,724.5 1111.06,725.0 1111.59,725.0 1112.12,724.5 1112.65,725.0 1113.18,724.0 1113.71,725.0 1114.24,724.5 1114.77,724.0 1115.30,724.5 1115.83,724.5 1116.36,724.5 1116.89,725.0 1117.42,725.0 1117.95,724.5 1118.48,724.5 1119.01,724.5 1119.54,724.5 1120.06,724.5 1120.59,724.5 1121.12,724.5 1121.65,724.5 1122.18,724.5 1122.71,725.0 1123.24,725.0 1123.77,724.5 1124.30,724.5 1124.83,724.5 1125.36,724.5 1125.89,724.0 1126.42,724.0 1126.95,724.5 1127.48,724.5 1128.01,724.5 1128.54,724.5 1129.07,724.5 1129.60,724.5 1130.13,724.5 1130.66,724.5 1131.19,724.5 1131.72,724.5 1132.25,724.5 1132.78,724.5 1133.30,724.5 1133.83,725.0 1134.36,724.5 1134.89,724.5 1135.42,724.5 1135.95,724.5 1136.48,724.5 1137.01,725.0 1137.54,724.5 1138.07,724.5 1138.60,724.5 1139.13,724.5 1139.66,724.5 1140.19,724.5 1140.72,724.5 1141.25,724.5 1141.78,724.5 1142.31,724.5 1142.84,725.0 1143.37,725.0 1143.90,724.5 1144.43,724.5 1144.96,725.0 1145.49,724.5 1146.02,725.0 1146.54,724.5 1147.07,724.5 1147.60,724.0 1148.13,724.5 1148.66,724.5 1149.19,724.5 1149.72,724.5 1150.25,724.5 1150.78,724.5 1151.31,724.5 1151.84,724.0 1152.37,724.5 1152.90,724.5 1153.43,724.0 1153.96,725.0 1154.49,724.5 1155.02,724.5 1155.55,724.5 1156.08,724.5 1156.61,724.5 1157.14,724.0 1157.67,724.5 1158.20,724.5 1158.73,725.0 1159.26,724.5 1159.78,724.5 1160.31,724.5 1160.84,724.5 1161.37,724.5 1161.90,724.5 1162.43,724.5 1162.96,724.0 1163.49,724.5 1164.02,724.5 1164.55,724.5 1165.08,724.5 1165.61,724.5 1166.14,724.5 1166.67,724.0 1167.20,724.5 1167.73,724.5 1168.26,724.5 1168.79,724.5 1169.32,724.5 1169.85,724.5 1170.38,724.5 1170.91,724.5 1171.44,724.5 1171.97,724.5 1172.50,724.5 1173.02,724.5 1173.55,724.5 1174.08,724.5 1174.61,724.5 1175.14,724.5 1175.67,724.5 1176.20,724.5 1176.73,724.5 1177.26,725.0 1177.79,724.5 1178.32,724.5 1178.85,724.5 1179.38,724.5 1179.91,725.0 1180.44,724.5 1180.97,724.5 1181.50,724.5 1182.03,725.0 1182.56,724.5 1183.09,724.5 1183.62,724.5 1184.15,724.0 1184.68,724.5 1185.21,724.5 1185.74,724.0 1186.26,724.5 1186.79,724.5 1187.32,725.0 1187.85,724.0 1188.38,724.0 1188.91,724.5 1189.44,724.5 1189.97,724.5 1190.50,724.5 1191.03,724.5 1191.56,725.0 1192.09,724.5 1192.62,724.5 1193.15,724.5 1193.68,724.5 1194.21,724.5 1194.74,724.0 1195.27,724.0 1195.80,724.5 1196.33,724.0 1196.86,724.5 1197.39,724.5 1197.92,724.5 1198.45,724.0 1198.98,724.0 1199.50,724.5 1200.03,724.0 1200.56,724.5 1201.09,724.5 1201.62,724.0 1202.15,724.0 1202.68,724.5 1203.21,724.0 1203.74,724.0 1204.27,724.5 1204.80,724.5 1205.33,724.5 1205.86,724.5 1206.39,724.0 1206.92,724.0 1207.45,724.5 1207.98,724.5 1208.51,724.0 1209.04,724.5 1209.57,724.5 1210.10,724.5 1210.63,724.0 1211.16,724.0 1211.69,724.0 1212.22,724.0 1212.74,724.0 1213.27,724.0 1213.80,724.0 1214.33,724.5 1214.86,724.0 1215.39,723.5 1215.92,724.0 1216.45,724.0 1216.98,724.0 1217.51,723.5 1218.04,724.0 1218.57,724.0 1219.10,724.0 1219.63,723.5 1220.16,723.5 1220.69,723.5 1221.22,723.0 1221.75,723.5 1222.28,723.0 1222.81,723.0 1223.34,723.0 1223.87,722.5 1224.40,722.5 1224.93,722.0 1225.46,722.0 1225.98,721.5 1226.51,721.0 1227.04,720.5 1227.57,720.0 1228.10,718.5 1228.63,717.5 1229.16,716.0 1229.69,713.0 1230.22,708.0 1230.75,699.0 1231.28,682.5 1231.81,656.5 1232.50,602.5 1232.87,602.5 1233.50,602.5 1233.93,630.0 1234.46,648.5 1234.99,653.0 1235.52,647.0 1236.05,642.5 1236.58,653.5 1237.11,673.5 1237.64,691.0 1238.17,703.5 1238.70,711.0 1239.22,715.0 1239.75,717.0 1240.28,718.5 1240.81,720.0 1241.34,720.5 1241.87,721.0 1242.40,721.5 1242.93,722.0 1243.46,722.0 1243.99,722.5 1244.52,722.5 1245.05,723.0 1245.58,723.0 1246.11,723.0 1246.64,723.0 1247.17,723.0 1247.70,723.5 1248.23,723.5 1248.76,724.0 1249.29,723.5 1249.82,724.0 1250.35,724.0 1250.88,723.5 1251.41,724.0 1251.94,724.0 1252.46,724.0 1252.99,724.0 1253.52,724.0 1254.05,724.0 1254.58,724.0 1255.11,724.0 1255.64,724.5 1256.17,724.5 1256.70,724.5 1257.23,724.0 1257.76,724.5 1258.29,724.0 1258.82,724.5 1259.35,724.5 1259.88,724.5 1260.41,724.0 1260.94,724.5 1261.47,724.0 1262.00,724.5 1262.53,724.5 1263.06,724.0 1263.59,724.5 1264.12,724.0 1264.65,724.5 1265.18,724.5 1265.70,724.5 1266.23,724.0 1266.76,724.5 1267.29,724.5 1267.82,724.5 1268.35,724.0 1268.88,724.5 1269.41,724.5 1269.94,724.5 1270.47,725.0 1271.00,724.5 1271.53,724.5 1272.06,724.5 1272.59,724.0 1273.12,724.5 1273.65,725.0 1274.18,724.5 1274.71,724.5 1275.24,724.5 1275.77,724.0 1276.30,725.0 1276.83,724.5 1277.36,724.5 1277.89,724.5 1278.42,724.5 1278.94,724.5 1279.47,724.5 1280.00,724.5 1280.53,724.5 1281.06,725.0 1281.59,724.0 1282.12,724.5 1282.65,724.5 1283.18,724.5 1283.71,724.5 1284.24,724.5 1284.77,724.5 1285.30,724.5 1285.83,724.5 1286.36,724.5 1286.89,724.5 1287.42,724.5 1287.95,725.0 1288.48,724.5 1289.01,724.5 1289.54,724.5 1290.07,724.5 1290.60,724.5 1291.13,725.0 1291.66,724.5 1292.18,724.5 1292.71,724.5 1293.24,724.5 1293.77,724.0 1294.30,724.5 1294.83,724.5 1295.36,724.5 1295.89,724.5 1296.42,724.5 1296.95,724.5 1297.48,724.5 1298.01,724.5 1298.54,724.5 1299.07,724.5 1299.60,724.0 1300.13,724.5 1300.66,725.0 1301.19,724.5 1301.72,724.5 1302.25,724.0 1302.78,724.5 1303.31,724.5 1303.84,724.5 1304.37,724.5 1304.90,724.5 1305.42,724.5 1305.95,724.5 1306.48,724.5 1307.01,725.0 1307.54,724.5 1308.07,724.5 1308.60,724.5 1309.13,724.5 1309.66,724.5 1310.19,724.5 1310.72,724.5 1311.25,724.5 1311.78,724.5 1312.31,724.5 1312.84,724.5 1313.37,724.5 1313.90,724.5 1314.43,724.5 1314.96,724.5 1315.49,724.5 1316.02,725.0 1316.55,724.5 1317.08,724.5 1317.61,724.5 1318.14,725.0 1318.66,724.5 1319.19,724.5 1319.72,724.5 1320.25,724.5 1320.78,724.5 1321.31,725.0 1321.84,724.5 1322.37,724.5 1322.90,724.5 1323.43,724.5 1323.96,724.0 1324.49,724.5 1325.02,724.5 1325.55,724.5 1326.08,725.0 1326.61,724.5 1327.14,724.5 1327.67,724.5 1328.20,724.5 1328.73,724.5 1329.26,724.5 1329.79,724.5 1330.32,724.5 1330.85,724.5 1331.38,724.5 1331.90,724.5 1332.43,724.5 1332.96,724.5 1333.49,725.0 1334.02,724.5 1334.55,724.5 1335.08,724.5 1335.61,724.0 1336.14,724.5 1336.67,724.5 1337.20,724.5 1337.73,724.5 1338.26,724.5 1338.79,724.5 1339.32,724.5 1339.85,724.5 1340.38,724.5 1340.91,724.5 1341.44,724.5 1341.97,724.5 1342.50,724.5 1343.03,725.0 1343.56,725.0 1344.09,724.5 1344.62,724.5 1345.14,724.5 1345.67,725.0 1346.20,724.5 1346.73,724.5 1347.26,725.0 1347.79,724.5 1348.32,724.5 1348.85,724.5 1349.38,724.5 1349.91,724.5 1350.44,724.5 1350.97,724.5 1351.50,725.0 1352.03,724.5 1352.56,725.0 1353.09,725.0 1353.62,724.5 1354.15,724.5 1354.68,724.5 1355.21,724.5 1355.74,725.0 1356.27,725.0 1356.80,724.5 1357.33,724.5 1357.86,725.0 1358.38,724.5 1358.91,724.5 1359.44,724.5 1359.97,725.0 1360.50,724.5 1361.03,724.0 1361.56,724.5 1362.09,724.5 1362.62,724.5 1363.15,724.5 1363.68,724.5 1364.21,724.5 1364.74,724.5 1365.27,724.5 1365.80,724.5 1366.33,724.0 1366.86,724.5 1367.39,724.5 1367.92,724.5 1368.45,725.0 1368.98,724.5 1369.51,725.0 1370.04,724.5 1370.57,724.5 1371.10,725.0 1371.62,724.5 1372.15,724.5 1372.68,724.5 1373.21,724.5 1373.74,724.5 1374.27,724.5 1374.80,725.0 1375.33,724.5 1375.86,724.5 1376.39,725.0 1376.92,725.0 1377.45,724.5 1377.98,724.5 1378.51,724.5 1379.04,724.5 1379.57,724.5 1380.10,724.5 1380.63,724.5 1381.16,724.5 1381.69,724.5 1382.22,724.5 1382.75,724.5 1383.28,724.5 1383.81,724.0 1384.34,724.5 1384.86,724.5 1385.39,724.0 1385.92,724.5 1386.45,725.0 1386.98,724.0 1387.51,724.5 1388.04,725.0 1388.57,725.0 1389.10,724.5 1389.63,724.5 1390.16,724.5 1390.69,724.5 1391.22,724.5 1391.75,725.0 1392.28,724.5 1392.81,724.0 1393.34,724.5 1393.87,724.5 1394.40,724.5 1394.93,725.0 1395.46,724.5 1395.99,725.0 1396.52,725.0 1397.05,724.5 1397.58,724.5 1398.10,724.5 1398.63,724.5 1399.16,724.5 1399.69,724.5 1400.22,724.5 1400.75,724.0 1401.28,724.5 1401.81,724.5 1402.34,724.5 1402.87,724.5 1403.40,724.5 1403.93,724.0 1404.46,724.5 1404.99,724.5 1405.52,724.5 1406.05,724.5 1406.58,724.0 1407.11,725.0 1407.64,724.5 1408.17,724.5 1408.70,724.5 1409.23,724.5 1409.76,724.5 1410.29,724.5 1410.82,724.5 1411.34,724.5 1411.87,724.5 1412.40,724.5 1412.93,724.5 1413.46,724.5 1413.99,725.0 1414.52,724.5 1415.05,724.5 1415.58,724.5 1416.11,724.5 1416.64,724.5 1417.17,724.5 1417.70,724.5 1418.23,724.5 1418.76,725.0 1419.29,724.5 1419.82,724.5 1420.35,724.5 1420.88,724.5 1421.41,724.5 1421.94,725.0 1422.47,724.5 1423.00,724.5 1423.53,724.5 1424.06,724.5 1424.58,724.5 1425.11,724.5 1425.64,724.5 1426.17,725.0 1426.70,724.5 1427.23,724.5 1427.76,724.5 1428.29,725.5 1428.82,725.0 1429.35,724.5 1429.88,724.5 1430.41,724.5 1430.94,724.5 1431.47,725.0 1432.00,725.0 1432.53,724.5 1433.06,724.5 1433.59,724.5 1434.12,725.0 1434.65,725.0 1435.18,725.0 1435.71,724.5 1436.24,724.5 1436.77,724.5 1437.30,725.0 1437.82,724.5 1438.35,725.0 1438.88,724.5 1439.41,724.5 1439.94,724.5 1440.47,724.5 1441.00,725.0 1441.53,724.5 1442.06,724.5 1442.59,724.5 1443.12,725.0 1443.65,724.0 1444.18,725.0 1444.71,724.5 1445.24,724.5 1445.77,724.5 1446.30,724.5 1446.83,724.5 1447.36,725.0 1447.89,724.5 1448.42,724.5 1448.95,724.5 1449.48,724.5 1450.01,724.5 1450.54,724.5 1451.06,724.5 1451.59,725.0 1452.12,725.0 1452.65,724.5 1453.18,724.0 1453.71,724.5 1454.24,724.5 1454.77,724.5 1455.30,724.5 1455.83,724.5 1456.36,724.5 1456.89,724.5 1457.42,724.5 1457.95,724.5 1458.48,724.0 1459.01,725.0 1459.54,724.5 1460.07,724.5 1460.60,724.5 1461.13,724.5 1461.66,725.0 1462.19,725.0 1462.72,724.0 1463.25,724.5 1463.78,724.5 1464.30,724.5 1464.83,724.5 1465.36,724.5 1465.89,724.5 1466.42,724.5 1466.95,724.0 1467.48,724.5 1468.01,725.0 1468.54,724.5 1469.07,724.5 1469.60,725.0 1470.13,725.0 1470.66,725.0 1471.19,724.5 1471.72,724.5 1472.25,724.5 1472.78,724.5 1473.31,724.5 1473.84,724.5 1474.37,724.5 1474.90,724.5 1475.43,724.5 1475.96,724.5 1476.49,725.0 1477.02,724.5 1477.54,725.0 1478.07,724.5 1478.60,724.5 1479.13,724.5 1479.66,724.5 1480.19,724.5 1480.72,724.5 1481.25,724.5 1481.78,724.5 1482.31,724.5 1482.84,724.5 1483.37,724.5 1483.90,724.5 1484.43,724.5 1484.96,724.5 1485.49,724.5 1486.02,724.5 1486.55,724.5 1487.08,724.5 1487.61,724.0 1488.14,724.5 1488.67,724.0 1489.20,723.5 1489.73,723.0 1490.26,722.5 1490.78,722.0 1491.31,721.5 1491.84,722.0 1492.37,722.0 1492.90,722.5 1493.43,723.0 1493.96,723.5 1494.49,723.5 1495.02,724.0 1495.55,724.5 1496.08,724.5 1496.61,724.5 1497.14,724.5 1497.67,724.5 1498.20,724.5 1498.73,724.5 1499.26,724.0 1499.79,724.5 1500.32,724.5 1500.85,724.0 1501.38,725.0 1501.91,724.5 1502.44,724.5 1502.97,724.5 1503.50,724.5 1504.02,725.0 1504.55,724.5 1505.08,725.0 1505.61,724.5 1506.14,724.5 1506.67,725.0 1507.20,724.5 1507.73,724.5 1508.26,725.0 1508.79,725.0 1509.32,724.5 1509.85,724.5 1510.38,725.0 1510.91,725.0 1511.44,724.5 1511.97,724.5 1512.50,724.5 1513.03,725.0 1513.56,724.5 1514.09,724.5 1514.62,724.5 1515.15,724.5 1515.68,724.5 1516.21,725.0 1516.74,724.0 1517.26,724.5 1517.79,724.5 1518.32,724.5 1518.85,724.5 1519.38,725.0 1519.91,724.5 1520.44,724.5 1520.97,724.5 1521.50,724.5 1522.03,724.5 1522.56,725.0 1523.09,724.0 1523.62,724.5 1524.15,725.0 1524.68,724.5 1525.21,724.5 1525.74,725.0 1526.27,724.0 1526.80,725.0 1527.33,724.5 1527.86,724.5 1528.39,725.0 1528.92,724.5 1529.45,724.5 1529.98,725.0 1530.50,724.5 1531.03,724.5 1531.56,725.0 1532.09,725.0 1532.62,724.5 1533.15,724.5 1533.68,725.0 1534.21,725.0 1534.74,724.0 1535.27,724.5 1535.80,724.5 1536.33,724.5 1536.86,724.5 1537.39,724.5 1537.92,725.0 1538.45,725.0 1538.98,724.5 1539.51,724.5 1540.04,724.5 1540.57,724.5 1541.10,725.0 1541.63,724.5 1542.16,724.5 1542.69,724.5 1543.22,724.5 1543.74,725.0 1544.27,725.0 1544.80,724.5 1545.33,724.5 1545.86,724.5 1546.39,724.5 1546.92,724.5 1547.45,724.5 1547.98,725.0 1548.51,724.5 1549.04,724.5 1549.57,724.5 1550.10,725.0 1550.63,724.5 1551.16,725.0 1551.69,725.0 1552.22,724.5 1552.75,724.5 1553.28,725.0 1553.81,724.5 1554.34,725.0 1554.87,725.0 1555.40,724.5 1555.93,724.5 1556.46,725.0 1556.98,724.5 1557.51,724.5 1558.04,724.5 1558.57,725.0 1559.10,724.5 1559.63,725.0 1560.16,724.5 1560.69,725.0 1561.22,724.5 1561.75,725.0 1562.28,725.0 1562.81,725.0 1563.34,724.5 1563.87,724.5 1564.40,725.0 1564.93,725.0 1565.46,724.5 1565.99,725.0 1566.52,725.0 1567.05,725.0 1567.58,724.5 1568.11,725.0 1568.64,724.5 1569.17,725.0 1569.70,725.0 1570.22,724.5 1570.75,724.5 1571.28,724.5 1571.81,724.5 1572.34,724.5 1572.87,724.5 1573.40,724.5 1573.93,725.0 1574.46,724.5 1574.99,725.0 1575.52,724.5 1576.05,724.5 1576.58,724.5 1577.11,724.5 1577.64,724.5 1578.17,725.0 1578.70,724.5 1579.23,724.5 1579.76,724.5 1580.29,724.5 1580.82,724.5 1581.35,725.0 1581.88,724.5 1582.41,724.5 1582.94,724.5 1583.46,725.0 1583.99,724.5 1584.52,724.5 1585.05,724.5 1585.58,725.0 1586.11,724.5 1586.64,725.0 1587.17,724.5 1587.70,725.0 1588.23,724.5 1588.76,725.0 1589.29,724.5 1589.82,724.5 1590.35,724.5 1590.88,725.0 1591.41,724.5 1591.94,725.0 1592.47,725.0 1593.00,725.0 1593.53,724.5 1594.06,725.0 1594.59,725.0 1595.12,724.5 1595.65,724.5 1596.18,724.5 1596.70,724.5 1597.23,724.5 1597.76,725.0 1598.29,724.5 1598.82,724.0 1599.35,725.0 1599.88,724.5 1600.41,725.0 1600.94,724.5 1601.47,725.0 1602.00,724.5 1602.53,725.0 1603.06,724.5 1603.59,724.5 1604.12,724.5 1604.65,725.0 1605.18,724.5 1605.71,725.0 1606.24,724.5 1606.77,724.5 1607.30,724.5 1607.83,724.5 1608.36,725.0 1608.89,725.0 1609.42,724.5 1609.94,725.0 1610.47,725.0 1611.00,724.5 1611.53,724.5 1612.06,725.0 1612.59,725.0 1613.12,724.5 1613.65,724.5 1614.18,724.5 1614.71,725.0 1615.24,724.5 1615.77,724.5 1616.30,725.0 1616.83,725.0 1617.36,725.0 1617.89,724.5 1618.42,724.5 1618.95,724.5 1619.48,724.5 1620.01,724.5 1620.54,724.5 1621.07,724.5 1621.60,725.0 1622.13,725.0 1622.66,725.0 1623.18,725.0 1623.71,724.5 1624.24,724.5 1624.77,724.5 1625.30,724.5 1625.83,725.0 1626.36,724.5 1626.89,725.0 1627.42,724.5 1627.95,725.0 1628.48,725.0 1629.01,724.5 1629.54,724.5 1630.07,724.5 1630.60,724.5 1631.13,725.0 1631.66,725.0 1632.19,724.5 1632.72,724.5 1633.25,725.0 1633.78,725.0 1634.31,724.5 1634.84,725.0 1635.37,724.5 1635.90,725.0 1636.42,724.5 1636.95,724.5 1637.48,724.5 1638.01,725.0 1638.54,724.5 1639.07,724.5 1639.60,725.0 1640.13,724.5 1640.66,725.0 1641.19,725.0 1641.72,725.0 1642.25,724.5 1642.78,724.5 1643.31,724.5 1643.84,725.0 1644.37,724.5 1644.90,725.0 1645.43,724.5 1645.96,724.5 1646.49,724.5 1647.02,725.0 1647.55,724.5 1648.08,725.0 1648.61,724.5 1649.14,724.5 1649.66,724.5 1650.19,724.5 1650.72,725.0 1651.25,724.5 1651.78,725.0 1652.31,725.0 1652.84,725.0 1653.37,724.5 1653.90,725.5 1654.43,725.5 1654.96,725.0 1655.49,724.5 1656.02,724.5 1656.55,725.0 1657.08,724.5 1657.61,724.5 1658.14,724.5 1658.67,725.0 1659.20,725.0 1659.73,724.5 1660.26,724.5 1660.79,724.5 1661.32,724.5 1661.85,724.5 1662.38,724.5 1662.90,724.5 1663.43,724.5 1663.96,725.0 1664.49,725.0 1665.02,725.0 1665.55,724.5 1666.08,724.5 1666.61,725.0 1667.14,724.5 1667.67,725.0 1668.20,725.0 1668.73,724.5 1669.26,724.5 1669.79,725.0 1670.32,724.5 1670.85,725.0 1671.38,725.0 1671.91,724.5 1672.44,725.0 1672.97,725.0 1673.50,725.0 1674.03,725.0 1674.56,724.5 1675.09,724.5 1675.62,725.0 1676.14,725.0 1676.67,725.0 1677.20,725.0 1677.73,725.0 1678.26,724.5 1678.79,724.5 1679.32,724.5 1679.85,724.5 1680.38,724.5 1680.91,725.0 1681.44,724.5 1681.97,724.5 1682.50,725.0 1683.03,725.0 1683.56,725.0 1684.09,724.5 1684.62,725.0 1685.15,725.0 1685.68,725.0 1686.21,724.5 1686.74,725.0 1687.27,724.5 1687.80,725.0 1688.33,724.5 1688.86,725.0 1689.38,724.5 1689.91,724.5 1690.44,724.5 1690.97,725.0 1691.50,725.0 1692.03,724.5 1692.56,725.0 1693.09,724.5 1693.62,725.0 1694.15,725.0 1694.68,725.0 1695.21,724.5 1695.74,725.0 1696.27,725.0 1696.80,724.5 1697.33,724.5 1697.86,725.0 1698.39,725.0 1698.92,724.5 1699.45,725.0 1699.98,725.0 1700.51,724.5 1701.04,725.0 1701.57,724.5 1702.10,724.5 1702.62,725.0 1703.15,724.5 1703.68,724.5 1704.21,725.0 1704.74,725.0 1705.27,724.5 1705.80,725.0 1706.33,724.5 1706.86,724.5 1707.39,725.0 1707.92,725.0 1708.45,725.0 1708.98,725.0 1709.51,724.5 1710.04,725.0 1710.57,725.0 1711.10,725.0 1711.63,725.0 1712.16,725.0 1712.69,725.0 1713.22,725.0 1713.75,724.5 1714.28,724.5 1714.81,724.5 1715.34,724.5 1715.86,725.0 1716.39,725.0 1716.92,724.5 1717.45,725.0 1717.98,725.0 1718.51,725.0 1719.04,724.5 1719.57,725.0 1720.10,724.5 1720.63,725.0 1721.16,725.0 1721.69,724.5 1722.22,725.0 1722.75,724.5 1723.28,725.0 1723.81,725.0 1724.34,724.5 1724.87,725.0 1725.40,724.5 1725.93,724.5 1726.46,724.5 1726.99,725.0 1727.52,725.0 1728.05,725.0 1728.58,725.0 1729.10,725.0 1729.63,725.0 1730.16,724.5 1730.69,725.0 1731.22,725.0 1731.75,725.0 1732.28,725.0 1732.81,725.0 1733.34,725.0 1733.87,725.0 1734.40,725.0 1734.93,725.0 1735.46,725.0 1735.99,725.0 1736.52,725.0 1737.05,724.5 1737.58,725.0 1738.11,724.5 1738.64,725.0 1739.17,724.5 1739.70,725.0 1740.23,725.0 1740.76,725.0 1741.29,725.0 1741.82,725.0 1742.34,725.0 1742.87,725.0 1743.40,725.0 1743.93,725.0 1744.46,725.0 1744.99,725.0 1745.52,724.5 1746.05,724.5 1746.58,724.5 1747.11,725.0 1747.64,724.5 1748.17,724.5 1748.70,725.0 1749.23,725.0 1749.76,725.0 1750.29,725.0 1750.82,725.0 1751.35,725.0 1751.88,725.0 1752.41,724.5 1752.94,725.0 1753.47,725.0 1754.00,725.0 1754.53,725.0 1755.06,725.0 1755.58,725.0 1756.11,724.5 1756.64,724.5 1757.17,725.0 1757.70,724.5 1758.23,724.5 1758.76,724.5 1759.29,724.0 1759.82,723.5 1760.35,723.0 1760.88,722.0 1761.41,721.0 1761.94,720.0 1762.47,719.5 1763.00,719.0 1763.53,718.5 1764.06,719.0 1764.59,719.0 1765.12,719.5 1765.65,720.0 1766.18,720.5 1766.71,720.5 1767.24,721.5 1767.77,721.5 1768.30,721.5 1768.82,722.5 1769.35,722.5 1769.88,723.0 1770.41,723.5 1770.94,724.0 1771.47,724.0 1772.00,724.5 1772.53,724.5 1773.06,724.5 1773.59,724.5 1774.12,725.5 1774.65,724.5 1775.18,725.0 1775.71,725.0 1776.24,724.5 1776.77,725.0 1777.30,725.0 1777.83,725.0 1778.36,725.0 1778.89,725.0 1779.42,725.0 1779.95,725.5 1780.48,725.0 1781.01,725.0 1781.54,725.0 1782.06,725.0 1782.59,725.0 1783.12,725.0 1783.65,725.0 1784.18,725.0 1784.71,725.0 1785.24,725.0 1785.77,725.0 1786.30,725.0 1786.83,725.0 1787.36,725.0 1787.89,725.0 1788.42,725.0 1788.95,725.0 1789.48,725.0 1790.01,725.0 1790.54,724.5 1791.07,724.5 1791.60,725.5 1792.13,725.0 1792.66,725.0 1793.19,724.5 1793.72,725.0 1794.25,725.0 1794.78,725.0 1795.30,725.0 1795.83,724.5 1796.36,725.0 1796.89,725.0 1797.42,724.5 1797.95,725.0 1798.48,725.0 1799.01,725.0 1799.54,725.0 1800.07,724.5 1800.60,725.0 1801.13,725.0 1801.66,724.5 1802.19,725.0 1802.72,725.0 1803.25,725.0 1803.78,725.0 1804.31,725.0 1804.84,725.0 1805.37,725.0 1805.90,725.0 1806.43,725.0 1806.96,725.0 1807.49,725.0 1808.02,725.5 1808.54,725.0 1809.07,725.0 1809.60,725.0 1810.13,725.0 1810.66,725.0 1811.19,725.0 1811.72,724.5 1812.25,725.0 1812.78,725.0 1813.31,725.0 1813.84,725.0 1814.37,725.0 1814.90,725.0 1815.43,725.0 1815.96,725.0 1816.49,724.5 1817.02,725.0 1817.55,725.0 1818.08,725.0 1818.61,724.5 1819.14,725.0 1819.67,725.0 1820.20,725.0 1820.73,725.0 1821.26,725.0 1821.78,725.0 1822.31,725.5 1822.84,725.0 1823.37,725.0 1823.90,725.0 1824.43,725.0 1824.96,725.0 1825.49,725.0 1826.02,725.0 1826.55,724.5 1827.08,725.0 1827.61,725.0 1828.14,725.0 1828.67,725.0 1829.20,725.0 1829.73,725.0 1830.26,724.5 1830.79,725.0 1831.32,724.5 1831.85,725.0 1832.38,725.5 1832.91,725.0 1833.44,725.5 1833.97,725.0 1834.50,725.0 1835.02,725.0 1835.55,725.0 1836.08,724.5 1836.61,725.0 1837.14,725.0 1837.67,725.0 1838.20,724.5 1838.73,725.0 1839.26,725.0 1839.79,725.0 1840.32,725.0 1840.85,725.0 1841.38,725.0 1841.91,725.0 1842.44,725.0 1842.97,725.0 1843.50,725.0 1844.03,725.0 1844.56,725.0 1845.09,725.0 1845.62,725.0 1846.15,724.5 1846.68,725.0 1847.21,725.0 1847.74,725.0 1848.26,724.5 1848.79,725.0 1849.32,725.0 1849.85,724.5 1850.38,725.0 1850.91,725.0 1851.44,725.0 1851.97,724.5 1852.50,725.0 1853.03,725.0 1853.56,725.0 1854.09,725.0 1854.62,724.5 1855.15,725.0 1855.68,724.5 1856.21,725.0 1856.74,724.5 1857.27,725.0 1857.80,725.0 1858.33,725.0 1858.86,725.0 1859.39,725.0 1859.92,725.0 1860.45,724.5 1860.98,725.0 1861.50,725.0 1862.03,725.0 1862.56,724.5 1863.09,724.5 1863.62,725.0 1864.15,725.0 1864.68,724.5 1865.21,724.5 1865.74,724.5 1866.27,724.5 1866.80,725.0 1867.33,725.0 1867.86,725.0 1868.39,725.0 1868.92,724.5 1869.45,724.5 1869.98,724.5 1870.51,725.0 1871.04,724.5 1871.57,724.5 1872.10,725.0 1872.63,725.0 1873.16,724.5 1873.69,724.5 1874.22,724.5 1874.74,724.5 1875.27,724.5 1875.80,725.0 1876.33,724.5 1876.86,724.0 1877.39,725.0 1877.92,724.5 1878.45,725.0 1878.98,724.5 1879.51,725.0 1880.04,724.5 1880.57,724.5 1881.10,724.5"/>
<polyline class="c" stroke="#00f" points="159.90,1019.5 160.43,1019.5 160.96,1018.5 161.49,1020.5 162.02,1019.0 162.55,1019.5 163.08,1020.5 163.61,1019.5 164.14,1019.5 164.67,1019.5 165.20,1020.5 165.73,1021.5 166.26,1020.5 166.78,1020.0 167.31,1021.0 167.84,1020.0 168.37,1020.5 168.90,1021.5 169.43,1020.5 169.96,1021.0 170.49,1020.5 171.02,1021.0 171.55,1021.0 172.08,1020.5 172.61,1021.0 173.14,1021.0 173.67,1021.0 174.20,1020.5 174.73,1020.5 175.26,1021.5 175.79,1021.5 176.32,1022.5 176.85,1020.5 177.38,1021.5 177.91,1022.0 178.44,1022.5 178.97,1022.0 179.50,1021.5 180.02,1022.0 180.55,1022.5 181.08,1022.0 181.61,1022.5 182.14,1021.0 182.67,1023.0 183.20,1023.0 183.73,1022.0 184.26,1022.5 184.79,1022.5 185.32,1022.0 185.85,1022.5 186.38,1023.0 186.91,1022.5 187.44,1022.5 187.97,1022.5 188.50,1023.0 189.03,1023.5 189.56,1022.5 190.09,1023.0 190.62,1023.0 191.15,1022.0 191.68,1022.5 192.21,1023.0 192.74,1023.0 193.26,1023.0 193.79,1022.0 194.32,1023.0 194.85,1023.0 195.38,1022.5 195.91,1023.5 196.44,1023.5 196.97,1023.0 197.50,1024.0 198.03,1023.0 198.56,1023.5 199.09,1023.0 199.62,1024.5 200.15,1022.0 200.68,1023.5 201.21,1024.0 201.74,1022.5 202.27,1023.5 202.80,1023.5 203.33,1024.0 203.86,1024.0 204.39,1023.5 204.92,1023.0 205.45,1024.5 205.98,1024.0 206.50,1023.5 207.03,1024.0 207.56,1024.0 208.09,1024.0 208.62,1024.0 209.15,1024.5 209.68,1023.0 210.21,1024.0 210.74,1024.0 211.27,1023.5 211.80,1024.5 212.33,1022.5 212.86,1024.5 213.39,1024.0 213.92,1023.5 214.45,1024.0 214.98,1023.5 215.51,1025.0 216.04,1024.5 216.57,1024.0 217.10,1023.5 217.63,1023.5 218.16,1023.5 218.69,1023.5 219.22,1023.5 219.74,1023.5 220.27,1024.0 220.80,1023.5 221.33,1023.5 221.86,1023.5 222.39,1025.0 222.92,1023.5 223.45,1023.5 223.98,1024.0 224.51,1024.0 225.04,1024.0 225.57,1024.5 226.10,1024.5 226.63,1024.5 227.16,1023.5 227.69,1024.5 228.22,1023.5 228.75,1024.0 229.28,1024.0 229.81,1023.5 230.34,1024.5 230.87,1024.0 231.40,1024.5 231.93,1023.5 232.46,1024.5 232.98,1024.5 233.51,1024.0 234.04,1023.5 234.57,1024.0 235.10,1023.5 235.63,1023.5 236.16,1025.5 236.69,1024.5 237.22,1025.0 237.75,1024.0 238.28,1024.5 238.81,1024.5 239.34,1024.5 239.87,1024.0 240.40,1024.0 240.93,1023.5 241.46,1024.5 241.99,1024.5 242.52,1024.5 243.05,1024.0 243.58,1025.0 244.11,1024.0 244.64,1023.5 245.17,1024.5 245.70,1024.0 246.22,1023.5 246.75,1024.0 247.28,1024.5 247.81,1024.0 248.34,1024.0 248.87,1025.0 249.40,1023.5 249.93,1023.0 250.46,1021.5 250.99,1021.5 251.52,1021.5 252.05,1020.5 252.58,1020.0 253.11,1020.0 253.64,1019.5 254.17,1019.0 254.70,1018.0 255.23,1016.5 255.76,1015.0 256.29,1013.5 256.82,1010.5 257.35,1004.5 257.88,996.0 258.41,986.0 258.94,977.5 259.46,970.0 259.99,896.0 260.50,880.5 261.05,880.5 261.50,880.5 262.11,897.0 262.64,986.0 263.17,989.5 263.70,995.0 264.23,1003.5 264.76,1008.5 265.29,1011.5 265.82,1014.0 266.35,1016.0 266.88,1017.0 267.41,1018.0 267.94,1019.0 268.47,1019.0 269.00,1019.5 269.53,1020.0 270.06,1020.0 270.59,1020.5 271.12,1020.5 271.65,1021.0 272.18,1021.5 272.70,1021.0 273.23,1021.5 273.76,1022.0 274.29,1022.0 274.82,1022.5 275.35,1023.0 275.88,1022.5 276.41,1023.0 276.94,1024.0 277.47,1023.5 278.00,1023.5 278.53,1024.0 279.06,1023.5 279.59,1024.5 280.12,1024.5 280.65,1025.0 281.18,1025.0 281.71,1025.0 282.24,1025.0 282.77,1025.0 283.30,1024.5 283.83,1024.5 284.36,1025.0 284.89,1024.0 285.42,1026.0 285.94,1024.5 286.47,1025.5 287.00,1025.0 287.53,1025.0 288.06,1025.5 288.59,1025.5 289.12,1025.5 289.65,1026.0 290.18,1025.5 290.71,1026.0 291.24,1026.0 291.77,1026.0 292.30,1026.0 292.83,1026.0 293.36,1026.0 293.89,1026.0 294.42,1025.0 294.95,1026.0 295.48,1026.0 296.01,1026.0 296.54,1026.0 297.07,1026.5 297.60,1026.0 298.13,1026.0 298.66,1025.5 299.18,1025.5 299.71,1026.0 300.24,1025.5 300.77,1026.0 301.30,1025.5 301.83,1026.0 302.36,1025.5 302.89,1025.5 303.42,1025.5 303.95,1025.5 304.48,1025.5 305.01,1025.5 305.54,1026.0 306.07,1026.5 306.60,1026.5 307.13,1026.0 307.66,1026.0 308.19,1026.5 308.72,1025.5 309.25,1025.5 309.78,1026.0 310.31,1026.0 310.84,1026.0 311.37,1026.0 311.90,1025.5 312.42,1025.5 312.95,1026.5 313.48,1026.5 314.01,1025.5 314.54,1026.5 315.07,1025.5 315.60,1026.0 316.13,1026.0 316.66,1025.5 317.19,1026.0 317.72,1026.0 318.25,1026.0 318.78,1026.5 319.31,1026.0 319.84,1025.5 320.37,1026.0 320.90,1026.0 321.43,1026.0 321.96,1026.0 322.49,1026.0 323.02,1026.5 323.55,1026.0 324.08,1026.5 324.61,1025.5 325.14,1025.5 325.66,1026.5 326.19,1026.0 326.72,1026.0 327.25,1026.0 327.78,1026.0 328.31,1026.0 328.84,1025.5 329.37,1026.0 329.90,1027.0 330.43,1026.0 330.96,1025.5 331.49,1026.5 332.02,1026.5 332.55,1026.5 333.08,1026.0 333.61,1026.0 334.14,1026.5 334.67,1026.5 335.20,1025.5 335.73,1026.5 336.26,1026.0 336.79,1026.5 337.32,1026.0 337.85,1026.5 338.38,1026.5 338.90,1026.5 339.43,1026.0 339.96,1026.0 340.49,1026.5 341.02,1026.5 341.55,1026.5 342.08,1027.0 342.61,1026.5 343.14,1026.5 343.67,1027.0 344.20,1026.5 344.73,1026.5 345.26,1026.0 345.79,1026.5 346.32,1027.0 346.85,1026.5 347.38,1027.0 347.91,1026.0 348.44,1026.0 348.97,1026.5 349.50,1026.0 350.03,1027.0 350.56,1026.5 351.09,1026.0 351.62,1026.5 352.14,1026.0 352.67,1026.5 353.20,1026.5 353.73,1026.5 354.26,1027.0 354.79,1026.5 355.32,1026.0 355.85,1026.5 356.38,1026.5 356.91,1027.0 357.44,1026.5 357.97,1026.5 358.50,1026.5 359.03,1026.5 359.56,1026.5 360.09,1026.5 360.62,1027.0 361.15,1026.5 361.68,1026.5 362.21,1026.5 362.74,1026.5 363.27,1026.0 363.80,1026.5 364.33,1027.0 364.86,1026.5 365.38,1026.0 365.91,1026.5 366.44,1027.0 366.97,1027.0 367.50,1027.0 368.03,1027.0 368.56,1027.0 369.09,1026.5 369.62,1026.5 370.15,1026.5 370.68,1026.5 371.21,1027.0 371.74,1026.5 372.27,1027.0 372.80,1026.5 373.33,1026.5 373.86,1027.0 374.39,1026.0 374.92,1026.5 375.45,1026.5 375.98,1027.0 376.51,1026.5 377.04,1027.0 377.57,1026.5 378.10,1027.0 378.62,1026.5 379.15,1027.0 379.68,1026.5 380.21,1027.0 380.74,1026.5 381.27,1026.5 381.80,1026.5 382.33,1027.0 382.86,1026.5 383.39,1026.0 383.92,1026.5 384.45,1027.0 384.98,1026.5 385.51,1026.5 386.04,1027.0 386.57,1026.5 387.10,1027.0 387.63,1027.0 388.16,1026.5 388.69,1026.5 389.22,1027.0 389.75,1026.5 390.28,1026.5 390.81,1026.5 391.34,1026.5 391.86,1027.5 392.39,1026.5 392.92,1027.0 393.45,1027.0 393.98,1026.5 394.51,1027.0 395.04,1026.5 395.57,1026.0 396.10,1026.5 396.63,1026.5 397.16,1026.5 397.69,1027.0 398.22,1027.5 398.75,1026.5 399.28,1027.0 399.81,1027.0 400.34,1027.0 400.87,1027.0 401.40,1026.5 401.93,1026.5 402.46,1027.0 402.99,1026.5 403.52,1026.5 404.05,1026.5 404.58,1027.0 405.10,1026.5 405.63,1027.5 406.16,1026.5 406.69,1026.5 407.22,1026.5 407.75,1027.0 408.28,1027.0 408.81,1026.5 409.34,1027.0 409.87,1027.0 410.40,1027.0 410.93,1027.0 411.46,1027.0 411.99,1026.5 412.52,1026.0 413.05,1027.0 413.58,1027.0 414.11,1027.0 414.64,1026.5 415.17,1026.5 415.70,1027.5 416.23,1026.5 416.76,1027.0 417.29,1026.5 417.82,1026.5 418.34,1026.5 418.87,1027.0 419.40,1026.5 419.93,1026.5 420.46,1026.5 420.99,1027.0 421.52,1027.0 422.05,1027.0 422.58,1027.0 423.11,1027.0 423.64,1027.0 424.17,1027.5 424.70,1027.0 425.23,1026.5 425.76,1027.0 426.29,1027.0 426.82,1026.5 427.35,1027.0 427.88,1026.5 428.41,1027.5 428.94,1027.0 429.47,1026.5 430.00,1027.0 430.53,1026.5 431.06,1027.0 431.58,1027.0 432.11,1026.5 432.64,1026.5 433.17,1026.5 433.70,1026.5 434.23,1026.5 434.76,1026.5 435.29,1027.0 435.82,1026.5 436.35,1026.5 436.88,1027.0 437.41,1027.5 437.94,1026.5 438.47,1027.5 439.00,1026.5 439.53,1027.0 440.06,1026.5 440.59,1027.0 441.12,1026.5 441.65,1026.5 442.18,1027.0 442.71,1027.0 443.24,1027.0 443.77,1027.5 444.30,1026.5 444.82,1027.0 445.35,1026.5 445.88,1026.0 446.41,1027.5 446.94,1026.5 447.47,1026.5 448.00,1027.0 448.53,1027.0 449.06,1027.0 449.59,1027.5 450.12,1027.0 450.65,1026.5 451.18,1027.0 451.71,1027.0 452.24,1026.5 452.77,1027.0 453.30,1026.5 453.83,1027.5 454.36,1026.5 454.89,1026.5 455.42,1027.0 455.95,1026.5 456.48,1027.0 457.01,1027.0 457.54,1026.5 458.06,1027.0 458.59,1026.5 459.12,1027.5 459.65,1027.0 460.18,1026.5 460.71,1026.5 461.24,1027.0 461.77,1027.0 462.30,1026.5 462.83,1027.0 463.36,1027.0 463.89,1027.0 464.42,1027.0 464.95,1027.0 465.48,1027.0 466.01,1026.5 466.54,1027.0 467.07,1027.0 467.60,1027.0 468.13,1027.0 468.66,1027.0 469.19,1027.5 469.72,1027.0 470.25,1027.0 470.78,1027.0 471.30,1026.5 471.83,1027.0 472.36,1027.0 472.89,1027.0 473.42,1027.0 473.95,1027.0 474.48,1027.0 475.01,1027.0 475.54,1027.0 476.07,1027.0 476.60,1026.5 477.13,1026.5 477.66,1027.0 478.19,1027.0 478.72,1027.0 479.25,1026.5 479.78,1026.5 480.31,1026.0 480.84,1027.0 481.37,1027.0 481.90,1027.0 482.43,1027.0 482.96,1026.5 483.49,1027.0 484.02,1027.0 484.54,1026.5 485.07,1026.5 485.60,1026.0 486.13,1025.5 486.66,1025.5 487.19,1025.5 487.72,1025.0 488.25,1024.5 488.78,1024.5 489.31,1024.5 489.84,1023.5 490.37,1023.5 490.90,1023.0 491.43,1022.0 491.96,1020.5 492.49,1018.5 493.02,1016.0 493.55,1012.0 494.00,1000.5 494.61,1006.0 495.14,1009.5 495.67,1013.0 496.20,1017.0 496.73,1018.5 497.26,1019.5 497.78,1021.0 498.31,1021.0 498.84,1021.5 499.37,1021.0 499.90,1022.0 500.43,1022.5 500.96,1023.0 501.49,1023.5 502.02,1024.5 502.55,1024.5 503.08,1025.0 503.61,1025.5 504.14,1026.0 504.67,1026.0 505.20,1026.0 505.73,1026.5 506.26,1026.5 506.79,1027.0 507.32,1026.5 507.85,1027.0 508.38,1027.0 508.91,1027.0 509.44,1027.0 509.97,1027.0 510.50,1026.5 511.02,1027.0 511.55,1027.0 512.08,1027.0 512.61,1027.0 513.14,1026.5 513.67,1027.0 514.20,1027.0 514.73,1027.5 515.26,1027.5 515.79,1027.5 516.32,1027.0 516.85,1027.0 517.38,1027.0 517.91,1027.0 518.44,1027.0 518.97,1027.0 519.50,1027.0 520.03,1027.5 520.56,1027.0 521.09,1026.5 521.62,1027.0 522.15,1027.0 522.68,1027.5 523.21,1026.5 523.74,1027.0 524.26,1026.5 524.79,1027.5 525.32,1027.0 525.85,1027.0 526.38,1027.0 526.91,1027.0 527.44,1027.5 527.97,1027.0 528.50,1027.0 529.03,1027.5 529.56,1026.5 530.09,1027.5 530.62,1027.5 531.15,1026.5 531.68,1027.0 532.21,1026.5 532.74,1026.5 533.27,1027.0 533.80,1027.0 534.33,1027.0 534.86,1027.0 535.39,1027.0 535.92,1027.0 536.45,1027.0 536.98,1027.0 537.50,1026.5 538.03,1027.0 538.56,1027.0 539.09,1027.5 539.62,1027.0 540.15,1027.0 540.68,1027.0 541.21,1027.0 541.74,1027.0 542.27,1026.5 542.80,1027.0 543.33,1027.0 543.86,1027.0 544.39,1027.0 544.92,1027.0 545.45,1027.0 545.98,1027.0 546.51,1027.0 547.04,1027.0 547.57,1027.0 548.10,1027.0 548.63,1027.5 549.16,1027.0 549.69,1026.5 550.22,1027.0 550.74,1027.0 551.27,1027.0 551.80,1027.5 552.33,1027.0 552.86,1027.0 553.39,1027.0 553.92,1027.0 554.45,1027.5 554.98,1027.0 555.51,1027.0 556.04,1027.0 556.57,1027.0 557.10,1027.0 557.63,1027.0 558.16,1027.0 558.69,1026.5 559.22,1026.5 559.75,1027.0 560.28,1027.0 560.81,1027.5 561.34,1027.5 561.87,1027.0 562.40,1026.5 562.93,1027.0 563.46,1027.0 563.98,1027.0 564.51,1027.5 565.04,1027.0 565.57,1027.0 566.10,1026.5 566.63,1027.5 567.16,1027.0 567.69,1027.0 568.22,1027.0 568.75,1027.0 569.28,1027.5 569.81,1027.0 570.34,1027.5 570.87,1027.5 571.40,1027.0 571.93,1027.5 572.46,1027.0 572.99,1026.5 573.52,1027.0 574.05,1027.0 574.58,1027.0 575.11,1027.0 575.64,1027.0 576.17,1027.5 576.70,1027.0 577.22,1027.0 577.75,1027.0 578.28,1027.5 578.81,1027.5 579.34,1027.0 579.87,1027.5 580.40,1027.0 580.93,1027.0 581.46,1028.0 581.99,1027.5 582.52,1027.0 583.05,1027.0 583.58,1027.0 584.11,1027.0 584.64,1026.5 585.17,1027.5 585.70,1027.5 586.23,1027.0 586.76,1027.5 587.29,1026.5 587.82,1027.5 588.35,1027.0 588.88,1027.0 589.41,1027.0 589.94,1027.5 590.46,1027.5 590.99,1027.0 591.52,1027.0 592.05,1027.0 592.58,1027.0 593.11,1027.0 593.64,1027.0 594.17,1027.0 594.70,1027.5 595.23,1027.0 595.76,1027.0 596.29,1027.0 596.82,1027.0 597.35,1026.5 597.88,1027.5 598.41,1027.0 598.94,1027.5 599.47,1026.5 600.00,1027.5 600.53,1027.0 601.06,1028.0 601.59,1027.0 602.12,1027.0 602.65,1027.5 603.18,1027.0 603.70,1027.0 604.23,1027.5 604.76,1027.5 605.29,1027.5 605.82,1027.5 606.35,1027.0 606.88,1027.0 607.41,1027.5 607.94,1027.0 608.47,1027.5 609.00,1027.0 609.53,1027.0 610.06,1027.5 610.59,1027.0 611.12,1027.5 611.65,1027.0 612.18,1027.5 612.71,1027.0 613.24,1026.5 613.77,1027.0 614.30,1026.5 614.83,1027.5 615.36,1027.5 615.89,1027.0 616.42,1027.0 616.94,1027.5 617.47,1027.5 618.00,1027.0 618.53,1027.5 619.06,1027.0 619.59,1027.0 620.12,1027.5 620.65,1027.0 621.18,1027.0 621.71,1027.0 622.24,1027.5 622.77,1027.5 623.30,1027.5 623.83,1027.0 624.36,1027.0 624.89,1027.5 625.42,1027.0 625.95,1027.0 626.48,1027.0 627.01,1027.0 627.54,1027.0 628.07,1027.5 628.60,1027.5 629.13,1027.0 629.66,1027.5 630.18,1027.5 630.71,1027.0 631.24,1027.0 631.77,1027.5 632.30,1027.0 632.83,1027.5 633.36,1027.0 633.89,1027.0 634.42,1027.0 634.95,1027.0 635.48,1027.5 636.01,1027.0 636.54,1027.0 637.07,1027.0 637.60,1027.5 638.13,1027.0 638.66,1027.0 639.19,1027.0 639.72,1027.5 640.25,1027.0 640.78,1027.0 641.31,1027.5 641.84,1027.0 642.37,1027.5 642.90,1027.0 643.42,1027.0 643.95,1027.0 644.48,1027.0 645.01,1027.0 645.54,1026.5 646.07,1027.5 646.60,1027.5 647.13,1027.0 647.66,1027.0 648.19,1027.0 648.72,1027.5 649.25,1027.5 649.78,1027.5 650.31,1027.5 650.84,1027.0 651.37,1027.0 651.90,1027.5 652.43,1027.0 652.96,1027.5 653.49,1027.5 654.02,1027.0 654.55,1027.0 655.08,1027.0 655.61,1027.5 656.14,1027.0 656.66,1027.5 657.19,1027.0 657.72,1028.0 658.25,1027.0 658.78,1027.5 659.31,1027.0 659.84,1028.0 660.37,1027.0 660.90,1027.5 661.43,1027.0 661.96,1027.5 662.49,1027.0 663.02,1027.0 663.55,1027.0 664.08,1027.0 664.61,1027.5 665.14,1028.0 665.67,1026.5 666.20,1027.5 666.73,1027.5 667.26,1027.0 667.79,1027.5 668.32,1027.5 668.85,1027.5 669.38,1027.5 669.90,1027.0 670.43,1027.0 670.96,1027.5 671.49,1027.0 672.02,1027.0 672.55,1027.5 673.08,1027.5 673.61,1027.5 674.14,1027.5 674.67,1027.0 675.20,1027.5 675.73,1027.5 676.26,1027.5 676.79,1027.5 677.32,1027.5 677.85,1027.5 678.38,1027.0 678.91,1027.5 679.44,1027.5 679.97,1027.5 680.50,1027.5 681.03,1027.5 681.56,1027.5 682.09,1027.5 682.62,1027.5 683.14,1028.0 683.67,1027.5 684.20,1027.5 684.73,1027.0 685.26,1027.0 685.79,1028.0 686.32,1027.5 686.85,1027.5 687.38,1027.5 687.91,1027.5 688.44,1027.5 688.97,1027.5 689.50,1027.5 690.03,1027.5 690.56,1027.5 691.09,1027.5 691.62,1027.5 692.15,1027.5 692.68,1027.5 693.21,1027.5 693.74,1027.5 694.27,1027.5 694.80,1027.5 695.33,1027.5 695.86,1027.5 696.38,1027.5 696.91,1027.5 697.44,1027.5 697.97,1027.5 698.50,1027.5 699.03,1027.5 699.56,1028.0 700.09,1028.0 700.62,1027.0 701.15,1027.5 701.68,1027.5 702.21,1027.5 702.74,1027.5 703.27,1027.5 703.80,1027.5 704.33,1027.5 704.86,1027.5 705.39,1027.5 705.92,1027.0 706.45,1028.0 706.98,1027.0 707.51,1027.0 708.04,1027.5 708.57,1027.0 709.10,1027.5 709.62,1027.5 710.15,1027.5 710.68,1028.0 711.21,1027.5 711.74,1027.0 712.27,1027.0 712.80,1026.0 713.33,1026.0 713.86,1027.0 714.39,1027.5 714.92,1027.0 715.45,1026.5 715.98,1026.5 716.51,1026.0 717.04,1026.0 717.57,1025.5 718.10,1025.5 718.63,1024.5 719.16,1024.0 719.69,1024.0 720.22,1023.5 720.75,1023.0 721.28,1022.0 721.81,1021.5 722.34,1021.0 722.86,1020.5 723.39,1019.5 723.92,1018.5 724.45,1017.5 724.98,1016.0 725.51,1014.0 726.04,1012.5 726.57,1010.5 727.10,1002.5 727.63,994.5 728.16,981.0 728.69,969.5 729.22,965.0 729.75,920.0 730.50,907.5 730.81,907.5 731.50,907.5 731.87,911.0 732.40,918.0 732.93,953.5 733.46,963.5 733.99,975.0 734.52,987.0 735.05,996.0 735.58,1003.0 736.10,1006.5 736.63,1010.0 737.16,1013.0 737.69,1015.0 738.22,1016.5 738.75,1018.0 739.28,1019.0 739.81,1020.5 740.34,1021.0 740.87,1021.5 741.40,1022.0 741.93,1022.5 742.46,1023.0 742.99,1023.5 743.52,1024.0 744.05,1024.0 744.58,1024.5 745.11,1024.5 745.64,1025.0 746.17,1025.0 746.70,1025.0 747.23,1025.5 747.76,1025.5 748.29,1025.5 748.82,1026.0 749.34,1025.5 749.87,1026.5 750.40,1026.0 750.93,1026.0 751.46,1026.0 751.99,1026.0 752.52,1027.0 753.05,1026.5 753.58,1026.5 754.11,1026.5 754.64,1027.0 755.17,1026.5 755.70,1027.0 756.23,1027.0 756.76,1026.5 757.29,1027.0 757.82,1027.5 758.35,1027.0 758.88,1027.5 759.41,1027.0 759.94,1027.0 760.47,1027.5 761.00,1027.0 761.53,1027.0 762.06,1027.5 762.58,1027.5 763.11,1027.5 763.64,1027.5 764.17,1027.5 764.70,1028.0 765.23,1028.0 765.76,1027.5 766.29,1028.0 766.82,1027.5 767.35,1027.5 767.88,1027.5 768.41,1027.5 768.94,1027.5 769.47,1028.0 770.00,1027.5 770.53,1027.5 771.06,1027.0 771.59,1027.5 772.12,1028.0 772.65,1027.5 773.18,1028.0 773.71,1027.5 774.24,1027.5 774.77,1027.5 775.30,1027.5 775.82,1028.0 776.35,1028.0 776.88,1028.0 777.41,1027.5 777.94,1027.5 778.47,1027.5 779.00,1027.5 779.53,1027.5 780.06,1027.5 780.59,1028.0 781.12,1027.5 781.65,1028.0 782.18,1027.5 782.71,1028.0 783.24,1028.0 783.77,1028.0 784.30,1028.0 784.83,1027.0 785.36,1028.0 785.89,1027.0 786.42,1027.5 786.95,1027.0 787.48,1027.5 788.01,1027.5 788.54,1027.5 789.06,1027.5 789.59,1027.5 790.12,1027.5 790.65,1027.5 791.18,1028.0 791.71,1027.0 792.24,1027.5 792.77,1027.5 793.30,1027.5 793.83,1027.5 794.36,1028.0 794.89,1027.5 795.42,1027.5 795.95,1028.0 796.48,1027.5 797.01,1027.5 797.54,1027.5 798.07,1027.5 798.60,1027.5 799.13,1027.5 799.66,1027.5 800.19,1027.5 800.72,1027.5 801.25,1027.5 801.78,1027.5 802.30,1028.0 802.83,1027.5 803.36,1027.5 803.89,1028.0 804.42,1028.0 804.95,1027.5 805.48,1028.0 806.01,1027.5 806.54,1027.5 807.07,1028.0 807.60,1028.0 808.13,1028.0 808.66,1027.5 809.19,1027.5 809.72,1027.5 810.25,1027.0 810.78,1026.5 811.31,1026.0 811.84,1026.0 812.37,1025.0 812.90,1024.0 813.43,1024.0 813.96,1023.0 814.49,1023.5 815.02,1023.5 815.54,1023.5 816.07,1024.0 816.60,1024.5 817.13,1025.5 817.66,1026.0 818.19,1026.5 818.72,1027.0 819.25,1027.0 819.78,1027.0 820.31,1028.0 820.84,1027.5 821.37,1027.5 821.90,1027.5 822.43,1027.5 822.96,1027.5 823.49,1027.5 824.02,1027.5 824.55,1027.5 825.08,1028.0 825.61,1028.0 826.14,1028.0 826.67,1028.0 827.20,1027.5 827.73,1027.5 828.26,1028.0 828.78,1028.0 829.31,1028.0 829.84,1027.5 830.37,1027.5 830.90,1028.0 831.43,1028.0 831.96,1027.5 832.49,1027.5 833.02,1027.5 833.55,1027.5 834.08,1027.5 834.61,1027.5 835.14,1027.5 835.67,1028.0 836.20,1027.5 836.73,1028.0 837.26,1027.5 837.79,1028.0 838.32,1028.0 838.85,1027.5 839.38,1028.0 839.91,1028.0 840.44,1027.5 840.97,1027.5 841.50,1027.0 842.02,1027.0 842.55,1027.0 843.08,1026.5 843.61,1026.0 844.14,1026.0 844.67,1025.0 845.20,1025.0 845.73,1025.0 846.26,1025.0 846.79,1025.5 847.32,1026.0 847.85,1026.0 848.38,1026.5 848.91,1027.0 849.44,1027.0 849.97,1027.5 850.50,1027.5 851.03,1027.5 851.56,1027.5 852.09,1028.0 852.62,1028.0 853.15,1027.5 853.68,1028.0 854.21,1028.0 854.74,1028.5 855.26,1027.5 855.79,1028.0 856.32,1028.0 856.85,1028.0 857.38,1027.5 857.91,1027.5 858.44,1028.0 858.97,1028.0 859.50,1028.0 860.03,1028.0 860.56,1028.0 861.09,1028.0 861.62,1028.0 862.15,1027.5 862.68,1028.0 863.21,1027.5 863.74,1027.5 864.27,1027.5 864.80,1028.0 865.33,1028.0 865.86,1027.5 866.39,1028.0 866.92,1027.5 867.45,1027.5 867.98,1028.0 868.50,1028.0 869.03,1028.0 869.56,1028.0 870.09,1028.0 870.62,1028.0 871.15,1027.5 871.68,1028.0 872.21,1028.0 872.74,1028.0 873.27,1027.5 873.80,1028.0 874.33,1028.0 874.86,1027.5 875.39,1028.0 875.92,1028.5 876.45,1028.0 876.98,1028.0 877.51,1028.0 878.04,1028.0 878.57,1027.5 879.10,1027.5 879.63,1028.0 880.16,1027.5 880.69,1028.0 881.22,1028.0 881.74,1028.0 882.27,1027.5 882.80,1027.5 883.33,1028.0 883.86,1028.0 884.39,1028.0 884.92,1028.0 885.45,1028.0 885.98,1028.0 886.51,1028.0 887.04,1028.0 887.57,1027.5 888.10,1027.5 888.63,1028.0 889.16,1028.0 889.69,1028.0 890.22,1028.0 890.75,1028.0 891.28,1028.0 891.81,1027.5 892.34,1028.5 892.87,1027.5 893.40,1028.0 893.93,1027.5 894.46,1027.5 894.98,1028.0 895.51,1027.5 896.04,1028.0 896.57,1028.0 897.10,1028.0 897.63,1028.0 898.16,1028.0 898.69,1028.0 899.22,1027.5 899.75,1027.5 900.28,1028.0 900.81,1028.0 901.34,1028.0 901.87,1027.5 902.40,1028.0 902.93,1027.0 903.46,1027.5 903.99,1028.0 904.52,1027.5 905.05,1028.5 905.58,1028.0 906.11,1028.0 906.64,1028.5 907.17,1028.0 907.70,1028.0 908.22,1028.0 908.75,1028.0 909.28,1027.5 909.81,1028.0 910.34,1028.0 910.87,1027.5 911.40,1028.0 911.93,1028.0 912.46,1027.5 912.99,1027.5 913.52,1028.0 914.05,1028.0 914.58,1028.5 915.11,1028.0 915.64,1028.0 916.17,1028.0 916.70,1028.0 917.23,1028.0 917.76,1027.5 918.29,1028.0 918.82,1028.5 919.35,1028.0 919.88,1028.0 920.41,1027.5 920.94,1028.0 921.46,1028.5 921.99,1028.0 922.52,1027.5 923.05,1028.0 923.58,1028.0 924.11,1028.0 924.64,1028.5 925.17,1028.0 925.70,1027.5 926.23,1028.0 926.76,1028.0 927.29,1028.0 927.82,1028.0 928.35,1027.5 928.88,1028.0 929.41,1028.0 929.94,1028.0 930.47,1028.0 931.00,1028.0 931.53,1028.0 932.06,1028.0 932.59,1028.0 933.12,1027.5 933.65,1028.0 934.18,1028.0 934.70,1028.0 935.23,1028.0 935.76,1028.0 936.29,1028.5 936.82,1028.5 937.35,1028.0 937.88,1028.0 938.41,1027.0 938.94,1028.0 939.47,1028.0 940.00,1027.5 940.53,1028.0 941.06,1027.5 941.59,1028.0 942.12,1028.0 942.65,1028.0 943.18,1027.5 943.71,1028.0 944.24,1027.5 944.77,1027.5 945.30,1027.5 945.83,1028.0 946.36,1027.5 946.89,1028.0 947.42,1028.0 947.94,1028.0 948.47,1028.0 949.00,1028.0 949.53,1027.5 950.06,1028.5 950.59,1028.0 951.12,1028.0 951.65,1027.5 952.18,1027.5 952.71,1027.5 953.24,1028.0 953.77,1027.5 954.30,1028.0 954.83,1028.0 955.36,1028.0 955.89,1028.0 956.42,1027.5 956.95,1027.5 957.48,1027.5 958.01,1028.0 958.54,1027.5 959.07,1027.5 959.60,1027.5 960.13,1027.5 960.66,1027.5 961.18,1027.5 961.71,1027.5 962.24,1027.0 962.77,1027.5 963.30,1027.0 963.83,1027.0 964.36,1026.5 964.89,1027.0 965.42,1026.0 965.95,1026.0 966.48,1025.0 967.01,1024.5 967.54,1024.0 968.07,1022.5 968.60,1021.5 969.13,1020.0 969.66,1019.0 970.19,1017.5 970.72,1016.0 971.25,1015.0 971.78,1014.5 972.31,1015.0 972.84,1015.5 973.37,1016.5 973.90,1018.0 974.42,1019.5 974.95,1021.0 975.48,1022.5 976.01,1023.5 976.54,1024.5 977.07,1025.0 977.60,1025.5 978.13,1026.0 978.66,1026.5 979.19,1026.5 979.72,1027.0 980.25,1027.0 980.78,1027.0 981.31,1027.5 981.84,1027.5 982.37,1027.5 982.90,1027.5 983.43,1027.0 983.96,1027.5 984.49,1027.5 985.02,1027.5 985.55,1027.5 986.08,1027.0 986.61,1027.5 987.14,1027.5 987.66,1027.5 988.19,1027.5 988.72,1027.5 989.25,1027.5 989.78,1028.0 990.31,1028.0 990.84,1027.5 991.37,1028.0 991.90,1027.5 992.43,1028.5 992.96,1027.5 993.49,1028.0 994.02,1028.0 994.55,1028.0 995.08,1028.0 995.61,1028.5 996.14,1028.0 996.67,1028.5 997.20,1028.0 997.73,1028.0 998.26,1028.0 998.79,1027.5 999.32,1028.0 999.85,1028.0 1000.38,1028.0 1000.90,1028.0 1001.43,1028.0 1001.96,1027.5 1002.49,1028.0 1003.02,1028.0 1003.55,1028.0 1004.08,1028.0 1004.61,1028.0 1005.14,1028.0 1005.67,1028.0 1006.20,1028.5 1006.73,1028.0 1007.26,1028.0 1007.79,1027.5 1008.32,1028.0 1008.85,1028.5 1009.38,1028.0 1009.91,1028.0 1010.44,1028.0 1010.97,1028.0 1011.50,1028.0 1012.03,1027.5 1012.56,1028.0 1013.09,1028.0 1013.62,1027.5 1014.14,1028.0 1014.67,1028.0 1015.20,1028.5 1015.73,1028.5 1016.26,1028.0 1016.79,1027.5 1017.32,1028.0 1017.85,1027.5 1018.38,1028.0 1018.91,1028.5 1019.44,1028.0 1019.97,1028.0 1020.50,1028.0 1021.03,1028.5 1021.56,1028.0 1022.09,1028.0 1022.62,1028.5 1023.15,1028.0 1023.68,1028.0 1024.21,1028.0 1024.74,1028.0 1025.27,1028.0 1025.80,1028.0 1026.33,1028.0 1026.86,1027.5 1027.38,1027.5 1027.91,1028.0 1028.44,1028.5 1028.97,1028.5 1029.50,1028.0 1030.03,1028.0 1030.56,1028.0 1031.09,1028.0 1031.62,1028.5 1032.15,1028.0 1032.68,1027.5 1033.21,1028.0 1033.74,1028.0 1034.27,1028.5 1034.80,1028.0 1035.33,1028.0 1035.86,1028.0 1036.39,1027.5 1036.92,1028.0 1037.45,1028.0 1037.98,1028.0 1038.51,1028.0 1039.04,1028.0 1039.57,1028.0 1040.10,1028.5 1040.62,1028.0 1041.15,1028.0 1041.68,1028.0 1042.21,1028.0 1042.74,1028.0 1043.27,1028.0 1043.80,1028.0 1044.33,1028.5 1044.86,1028.0 1045.39,1028.5 1045.92,1028.0 1046.45,1027.5 1046.98,1028.5 1047.51,1028.0 1048.04,1028.5 1048.57,1028.5 1049.10,1028.5 1049.63,1028.0 1050.16,1027.5 1050.69,1028.5 1051.22,1028.0 1051.75,1028.5 1052.28,1028.5 1052.81,1028.0 1053.34,1028.5 1053.86,1027.5 1054.39,1028.0 1054.92,1028.5 1055.45,1028.5 1055.98,1028.0 1056.51,1027.5 1057.04,1028.0 1057.57,1028.0 1058.10,1028.0 1058.63,1028.5 1059.16,1028.5 1059.69,1028.0 1060.22,1028.0 1060.75,1028.0 1061.28,1028.0 1061.81,1027.5 1062.34,1028.0 1062.87,1027.0 1063.40,1027.0 1063.93,1027.0 1064.46,1027.0 1064.99,1026.5 1065.52,1026.5 1066.05,1026.5 1066.58,1026.5 1067.10,1027.0 1067.63,1027.0 1068.16,1027.0 1068.69,1027.0 1069.22,1027.5 1069.75,1027.5 1070.28,1028.0 1070.81,1028.0 1071.34,1028.0 1071.87,1028.0 1072.40,1028.0 1072.93,1028.5 1073.46,1028.0 1073.99,1027.5 1074.52,1027.5 1075.05,1028.5 1075.58,1028.0 1076.11,1028.0 1076.64,1028.5 1077.17,1028.5 1077.70,1028.5 1078.23,1028.0 1078.76,1028.0 1079.29,1028.0 1079.82,1028.0 1080.34,1028.0 1080.87,1028.5 1081.40,1028.5 1081.93,1028.0 1082.46,1028.5 1082.99,1028.0 1083.52,1028.5 1084.05,1028.0 1084.58,1028.0 1085.11,1028.0 1085.64,1028.0 1086.17,1028.0 1086.70,1028.0 1087.23,1028.0 1087.76,1028.5 1088.29,1028.5 1088.82,1028.5 1089.35,1028.5 1089.88,1028.5 1090.41,1028.0 1090.94,1028.0 1091.47,1028.5 1092.00,1028.5 1092.53,1028.0 1093.06,1028.5 1093.58,1028.0 1094.11,1028.0 1094.64,1028.0 1095.17,1028.5 1095.70,1028.0 1096.23,1028.0 1096.76,1028.0 1097.29,1028.5 1097.82,1028.5 1098.35,1028.5 1098.88,1028.0 1099.41,1028.5 1099.94,1028.5 1100.47,1028.5 1101.00,1028.5 1101.53,1028.5 1102.06,1028.5 1102.59,1028.0 1103.12,1028.0 1103.65,1028.5 1104.18,1028.5 1104.71,1028.0 1105.24,1028.5 1105.77,1028.5 1106.30,1028.5 1106.82,1028.5 1107.35,1028.5 1107.88,1028.0 1108.41,1028.5 1108.94,1028.5 1109.47,1028.0 1110.00,1028.0 1110.53,1028.5 1111.06,1028.0 1111.59,1028.0 1112.12,1028.5 1112.65,1028.0 1113.18,1028.5 1113.71,1028.0 1114.24,1028.5 1114.77,1028.5 1115.30,1028.0 1115.83,1028.5 1116.36,1028.0 1116.89,1028.5 1117.42,1028.0 1117.95,1028.0 1118.48,1028.0 1119.01,1028.5 1119.54,1028.0 1120.06,1028.5 1120.59,1028.0 1121.12,1028.0 1121.65,1028.0 1122.18,1028.0 1122.71,1028.5 1123.24,1028.5 1123.77,1028.0 1124.30,1028.5 1124.83,1028.0 1125.36,1028.0 1125.89,1028.0 1126.42,1028.5 1126.95,1028.0 1127.48,1028.0 1128.01,1028.0 1128.54,1028.0 1129.07,1028.0 1129.60,1028.0 1130.13,1028.5 1130.66,1028.0 1131.19,1028.0 1131.72,1028.0 1132.25,1028.5 1132.78,1028.0 1133.30,1028.0 1133.83,1028.5 1134.36,1028.5 1134.89,1028.5 1135.42,1028.5 1135.95,1028.0 1136.48,1028.5 1137.01,1028.0 1137.54,1028.5 1138.07,1028.5 1138.60,1028.0 1139.13,1028.5 1139.66,1028.5 1140.19,1029.0 1140.72,1028.0 1141.25,1028.5 1141.78,1028.0 1142.31,1028.5 1142.84,1028.0 1143.37,1028.5 1143.90,1028.5 1144.43,1028.5 1144.96,1028.0 1145.49,1028.0 1146.02,1028.0 1146.54,1028.5 1147.07,1028.5 1147.60,1028.0 1148.13,1028.0 1148.66,1028.5 1149.19,1028.5 1149.72,1028.0 1150.25,1028.0 1150.78,1028.0 1151.31,1028.5 1151.84,1028.5 1152.37,1028.5 1152.90,1028.0 1153.43,1028.5 1153.96,1028.0 1154.49,1028.5 1155.02,1028.5 1155.55,1028.0 1156.08,1028.0 1156.61,1028.5 1157.14,1028.0 1157.67,1028.0 1158.20,1028.0 1158.73,1028.5 1159.26,1028.5 1159.78,1028.0 1160.31,1028.0 1160.84,1028.5 1161.37,1028.0 1161.90,1028.0 1162.43,1028.5 1162.96,1028.5 1163.49,1028.5 1164.02,1028.5 1164.55,1028.5 1165.08,1028.5 1165.61,1028.5 1166.14,1028.0 1166.67,1028.5 1167.20,1028.5 1167.73,1028.0 1168.26,1028.0 1168.79,1028.0 1169.32,1028.0 1169.85,1028.0 1170.38,1028.0 1170.91,1028.0 1171.44,1028.0 1171.97,1028.0 1172.50,1028.0 1173.02,1028.0 1173.55,1028.5 1174.08,1028.5 1174.61,1028.5 1175.14,1028.0 1175.67,1028.0 1176.20,1028.0 1176.73,1028.5 1177.26,1028.5 1177.79,1028.0 1178.32,1028.5 1178.85,1028.0 1179.38,1028.5 1179.91,1027.5 1180.44,1028.0 1180.97,1028.0 1181.50,1027.5 1182.03,1028.5 1182.56,1028.0 1183.09,1028.5 1183.62,1028.5 1184.15,1028.5 1184.68,1028.5 1185.21,1028.0 1185.74,1028.5 1186.26,1028.0 1186.79,1028.0 1187.32,1028.5 1187.85,1028.5 1188.38,1028.5 1188.91,1028.0 1189.44,1028.0 1189.97,1028.5 1190.50,1028.5 1191.03,1028.0 1191.56,1028.5 1192.09,1028.5 1192.62,1028.5 1193.15,1028.0 1193.68,1029.0 1194.21,1028.0 1194.74,1028.0 1195.27,1028.0 1195.80,1028.0 1196.33,1027.5 1196.86,1028.5 1197.39,1028.0 1197.92,1028.5 1198.45,1028.0 1198.98,1028.0 1199.50,1028.0 1200.03,1028.0 1200.56,1028.0 1201.09,1028.0 1201.62,1028.0 1202.15,1028.0 1202.68,1027.5 1203.21,1028.5 1203.74,1028.0 1204.27,1027.5 1204.80,1028.0 1205.33,1028.0 1205.86,1028.0 1206.39,1028.0 1206.92,1027.5 1207.45,1028.0 1207.98,1027.5 1208.51,1028.0 1209.04,1027.5 1209.57,1027.5 1210.10,1027.5 1210.63,1027.5 1211.16,1027.0 1211.69,1026.5 1212.22,1026.5 1212.74,1026.0 1213.27,1025.5 1213.80,1025.0 1214.33,1024.5 1214.86,1023.5 1215.39,1023.0 1215.92,1022.0 1216.45,1021.0 1216.98,1020.0 1217.51,1019.0 1218.04,1018.0 1218.57,1018.0 1219.10,1017.5 1219.63,1017.5 1220.16,1017.5 1220.69,1018.0 1221.22,1019.0 1221.75,1020.0 1222.28,1021.0 1222.81,1022.0 1223.34,1022.5 1223.87,1023.5 1224.40,1024.5 1224.93,1025.0 1225.46,1025.5 1225.98,1026.0 1226.51,1026.5 1227.04,1027.0 1227.57,1027.0 1228.10,1027.0 1228.63,1027.5 1229.16,1027.5 1229.69,1028.0 1230.22,1028.0 1230.75,1027.5 1231.28,1028.0 1231.81,1028.0 1232.34,1028.0 1232.87,1028.0 1233.40,1028.0 1233.93,1028.0 1234.46,1028.5 1234.99,1028.0 1235.52,1028.0 1236.05,1028.5 1236.58,1028.0 1237.11,1028.0 1237.64,1028.0 1238.17,1028.0 1238.70,1028.0 1239.22,1028.0 1239.75,1028.5 1240.28,1028.5 1240.81,1028.0 1241.34,1028.0 1241.87,1028.5 1242.40,1028.5 1242.93,1028.0 1243.46,1028.5 1243.99,1028.0 1244.52,1028.5 1245.05,1028.0 1245.58,1028.5 1246.11,1028.5 1246.64,1028.0 1247.17,1028.5 1247.70,1028.5 1248.23,1028.5 1248.76,1028.5 1249.29,1028.5 1249.82,1028.0 1250.35,1028.0 1250.88,1028.5 1251.41,1028.5 1251.94,1028.5 1252.46,1028.0 1252.99,1028.5 1253.52,1028.0 1254.05,1028.5 1254.58,1028.0 1255.11,1029.0 1255.64,1028.0 1256.17,1028.5 1256.70,1028.0 1257.23,1028.5 1257.76,1028.5 1258.29,1028.5 1258.82,1028.0 1259.35,1028.0 1259.88,1028.0 1260.41,1028.5 1260.94,1028.0 1261.47,1029.0 1262.00,1028.5 1262.53,1028.5 1263.06,1028.5 1263.59,1028.5 1264.12,1028.5 1264.65,1028.0 1265.18,1028.0 1265.70,1028.5 1266.23,1028.5 1266.76,1028.5 1267.29,1028.0 1267.82,1028.5 1268.35,1028.5 1268.88,1028.5 1269.41,1028.5 1269.94,1028.5 1270.47,1028.5 1271.00,1028.5 1271.53,1028.0 1272.06,1028.0 1272.59,1029.0 1273.12,1028.5 1273.65,1028.5 1274.18,1028.0 1274.71,1028.0 1275.24,1028.5 1275.77,1028.5 1276.30,1028.5 1276.83,1028.5 1277.36,1028.5 1277.89,1028.5 1278.42,1028.0 1278.94,1028.0 1279.47,1028.5 1280.00,1028.5 1280.53,1028.5 1281.06,1028.5 1281.59,1028.0 1282.12,1028.5 1282.65,1028.5 1283.18,1028.5 1283.71,1028.5 1284.24,1028.5 1284.77,1028.0 1285.30,1028.0 1285.83,1028.5 1286.36,1028.5 1286.89,1028.0 1287.42,1028.5 1287.95,1029.0 1288.48,1028.5 1289.01,1028.5 1289.54,1028.5 1290.07,1028.5 1290.60,1028.0 1291.13,1028.5 1291.66,1028.5 1292.18,1028.0 1292.71,1029.0 1293.24,1028.5 1293.77,1028.5 1294.30,1028.5 1294.83,1028.5 1295.36,1029.0 1295.89,1028.0 1296.42,1028.5 1296.95,1028.5 1297.48,1028.0 1298.01,1028.0 1298.54,1028.5 1299.07,1029.0 1299.60,1028.5 1300.13,1028.0 1300.66,1028.5 1301.19,1028.0 1301.72,1028.0 1302.25,1028.5 1302.78,1028.5 1303.31,1028.5 1303.84,1028.5 1304.37,1029.0 1304.90,1028.0 1305.42,1028.5 1305.95,1028.5 1306.48,1028.5 1307.01,1028.0 1307.54,1029.0 1308.07,1029.0 1308.60,1028.0 1309.13,1028.5 1309.66,1029.0 1310.19,1028.5 1310.72,1028.0 1311.25,1028.5 1311.78,1028.5 1312.31,1028.0 1312.84,1028.0 1313.37,1028.5 1313.90,1028.5 1314.43,1028.0 1314.96,1028.5 1315.49,1028.5 1316.02,1028.5 1316.55,1028.5 1317.08,1028.5 1317.61,1028.5 1318.14,1029.0 1318.66,1028.5 1319.19,1028.5 1319.72,1028.0 1320.25,1028.5 1320.78,1029.0 1321.31,1028.5 1321.84,1028.0 1322.37,1028.0 1322.90,1028.5 1323.43,1028.5 1323.96,1028.5 1324.49,1028.5 1325.02,1028.5 1325.55,1028.5 1326.08,1028.5 1326.61,1028.5 1327.14,1028.0 1327.67,1028.0 1328.20,1028.5 1328.73,1028.5 1329.26,1028.5 1329.79,1029.0 1330.32,1029.0 1330.85,1028.5 1331.38,1028.5 1331.90,1028.5 1332.43,1028.5 1332.96,1028.5 1333.49,1028.5 1334.02,1028.0 1334.55,1028.5 1335.08,1028.5 1335.61,1029.0 1336.14,1028.0 1336.67,1028.5 1337.20,1029.0 1337.73,1028.5 1338.26,1028.5 1338.79,1028.5 1339.32,1029.0 1339.85,1028.0 1340.38,1028.5 1340.91,1028.5 1341.44,1029.0 1341.97,1028.5 1342.50,1028.0 1343.03,1029.0 1343.56,1028.0 1344.09,1028.5 1344.62,1028.5 1345.14,1028.5 1345.67,1028.5 1346.20,1028.0 1346.73,1028.0 1347.26,1029.0 1347.79,1028.5 1348.32,1029.0 1348.85,1028.0 1349.38,1028.5 1349.91,1028.0 1350.44,1028.5 1350.97,1029.0 1351.50,1028.5 1352.03,1028.5 1352.56,1029.0 1353.09,1028.0 1353.62,1028.5 1354.15,1028.5 1354.68,1028.5 1355.21,1028.5 1355.74,1028.0 1356.27,1028.5 1356.80,1028.0 1357.33,1028.5 1357.86,1029.0 1358.38,1029.0 1358.91,1028.0 1359.44,1028.0 1359.97,1028.0 1360.50,1028.0 1361.03,1028.0 1361.56,1028.5 1362.09,1029.0 1362.62,1028.5 1363.15,1028.5 1363.68,1028.5 1364.21,1028.5 1364.74,1028.5 1365.27,1028.5 1365.80,1028.5 1366.33,1028.5 1366.86,1028.5 1367.39,1028.5 1367.92,1029.0 1368.45,1028.0 1368.98,1028.5 1369.51,1028.5 1370.04,1029.0 1370.57,1028.5 1371.10,1028.0 1371.62,1029.0 1372.15,1028.5 1372.68,1028.0 1373.21,1028.0 1373.74,1028.5 1374.27,1029.0 1374.80,1028.5 1375.33,1028.5 1375.86,1028.5 1376.39,1028.5 1376.92,1028.5 1377.45,1028.5 1377.98,1028.5 1378.51,1029.0 1379.04,1028.5 1379.57,1028.5 1380.10,1028.5 1380.63,1028.5 1381.16,1028.5 1381.69,1028.5 1382.22,1028.5 1382.75,1028.5 1383.28,1028.5 1383.81,1028.5 1384.34,1029.0 1384.86,1028.5 1385.39,1028.5 1385.92,1028.5 1386.45,1028.5 1386.98,1028.5 1387.51,1029.0 1388.04,1028.5 1388.57,1028.5 1389.10,1028.5 1389.63,1028.5 1390.16,1028.5 1390.69,1028.5 1391.22,1028.5 1391.75,1028.5 1392.28,1028.0 1392.81,1028.5 1393.34,1028.5 1393.87,1028.0 1394.40,1028.0 1394.93,1028.5 1395.46,1028.5 1395.99,1028.5 1396.52,1029.0 1397.05,1028.5 1397.58,1028.5 1398.10,1028.5 1398.63,1028.0 1399.16,1028.5 1399.69,1028.5 1400.22,1028.5 1400.75,1028.5 1401.28,1028.5 1401.81,1028.5 1402.34,1028.0 1402.87,1028.0 1403.40,1029.0 1403.93,1028.5 1404.46,1029.0 1404.99,1028.5 1405.52,1028.5 1406.05,1028.0 1406.58,1029.0 1407.11,1028.0 1407.64,1028.0 1408.17,1028.5 1408.70,1029.0 1409.23,1028.5 1409.76,1028.5 1410.29,1028.5 1410.82,1028.5 1411.34,1029.0 1411.87,1028.0 1412.40,1028.5 1412.93,1028.5 1413.46,1029.0 1413.99,1028.5 1414.52,1028.5 1415.05,1028.5 1415.58,1028.5 1416.11,1028.0 1416.64,1029.0 1417.17,1028.5 1417.70,1028.5 1418.23,1028.0 1418.76,1028.5 1419.29,1028.5 1419.82,1029.0 1420.35,1028.5 1420.88,1028.5 1421.41,1028.5 1421.94,1029.0 1422.47,1028.5 1423.00,1028.5 1423.53,1028.5 1424.06,1028.5 1424.58,1028.5 1425.11,1028.5 1425.64,1028.5 1426.17,1028.5 1426.70,1028.5 1427.23,1028.0 1427.76,1028.5 1428.29,1028.5 1428.82,1028.0 1429.35,1029.0 1429.88,1028.5 1430.41,1029.0 1430.94,1029.0 1431.47,1028.5 1432.00,1028.5 1432.53,1028.0 1433.06,1028.5 1433.59,1028.5 1434.12,1028.0 1434.65,1028.0 1435.18,1029.0 1435.71,1028.5 1436.24,1029.0 1436.77,1029.0 1437.30,1028.0 1437.82,1028.5 1438.35,1028.5 1438.88,1028.5 1439.41,1028.5 1439.94,1028.5 1440.47,1028.5 1441.00,1028.5 1441.53,1029.0 1442.06,1028.5 1442.59,1028.5 1443.12,1029.0 1443.65,1028.5 1444.18,1028.5 1444.71,1028.5 1445.24,1028.5 1445.77,1028.5 1446.30,1028.0 1446.83,1028.0 1447.36,1028.5 1447.89,1028.5 1448.42,1028.5 1448.95,1028.5 1449.48,1029.0 1450.01,1028.5 1450.54,1028.5 1451.06,1028.5 1451.59,1028.5 1452.12,1029.0 1452.65,1028.5 1453.18,1028.5 1453.71,1028.5 1454.24,1028.0 1454.77,1029.0 1455.30,1028.5 1455.83,1028.5 1456.36,1028.5 1456.89,1029.0 1457.42,1028.5 1457.95,1028.5 1458.48,1028.5 1459.01,1028.5 1459.54,1028.0 1460.07,1029.0 1460.60,1028.5 1461.13,1028.5 1461.66,1029.0 1462.19,1028.5 1462.72,1029.0 1463.25,1028.5 1463.78,1028.5 1464.30,1028.5 1464.83,1028.5 1465.36,1028.5 1465.89,1028.5 1466.42,1028.5 1466.95,1028.0 1467.48,1028.0 1468.01,1028.5 1468.54,1028.5 1469.07,1028.5 1469.60,1028.5 1470.13,1028.5 1470.66,1028.5 1471.19,1028.5 1471.72,1028.0 1472.25,1028.0 1472.78,1028.0 1473.31,1028.0 1473.84,1028.0 1474.37,1028.5 1474.90,1028.0 1475.43,1028.5 1475.96,1028.0 1476.49,1028.0 1477.02,1028.0 1477.54,1027.5 1478.07,1028.0 1478.60,1028.0 1479.13,1028.0 1479.66,1028.0 1480.19,1027.5 1480.72,1028.0 1481.25,1027.5 1481.78,1028.0 1482.31,1028.0 1482.84,1028.0 1483.37,1027.5 1483.90,1028.0 1484.43,1028.0 1484.96,1027.5 1485.49,1028.0 1486.02,1028.5 1486.55,1028.0 1487.08,1028.0 1487.61,1027.5 1488.14,1028.0 1488.67,1028.5 1489.20,1028.0 1489.73,1028.0 1490.26,1028.0 1490.78,1028.5 1491.31,1028.0 1491.84,1028.0 1492.37,1028.5 1492.90,1028.5 1493.43,1028.5 1493.96,1028.0 1494.49,1028.0 1495.02,1028.0 1495.55,1028.5 1496.08,1028.0 1496.61,1028.5 1497.14,1028.5 1497.67,1028.5 1498.20,1028.5 1498.73,1028.5 1499.26,1028.5 1499.79,1028.5 1500.32,1028.5 1500.85,1028.5 1501.38,1029.0 1501.91,1028.5 1502.44,1028.5 1502.97,1028.5 1503.50,1028.5 1504.02,1028.5 1504.55,1028.5 1505.08,1028.5 1505.61,1028.5 1506.14,1029.0 1506.67,1028.5 1507.20,1028.5 1507.73,1028.0 1508.26,1028.5 1508.79,1029.0 1509.32,1029.0 1509.85,1028.5 1510.38,1028.5 1510.91,1028.5 1511.44,1028.5 1511.97,1028.5 1512.50,1028.5 1513.03,1028.5 1513.56,1028.5 1514.09,1028.5 1514.62,1028.5 1515.15,1028.5 1515.68,1029.0 1516.21,1029.0 1516.74,1028.5 1517.26,1028.5 1517.79,1028.5 1518.32,1028.5 1518.85,1028.5 1519.38,1028.5 1519.91,1028.5 1520.44,1029.0 1520.97,1029.0 1521.50,1028.5 1522.03,1028.5 1522.56,1028.5 1523.09,1029.0 1523.62,1028.5 1524.15,1029.0 1524.68,1028.0 1525.21,1028.5 1525.74,1028.5 1526.27,1028.0 1526.80,1028.5 1527.33,1028.5 1527.86,1028.5 1528.39,1028.5 1528.92,1028.5 1529.45,1028.5 1529.98,1028.5 1530.50,1028.5 1531.03,1028.5 1531.56,1028.0 1532.09,1028.0 1532.62,1028.5 1533.15,1028.5 1533.68,1029.0 1534.21,1028.5 1534.74,1028.5 1535.27,1028.5 1535.80,1028.5 1536.33,1028.5 1536.86,1028.5 1537.39,1028.5 1537.92,1028.5 1538.45,1029.0 1538.98,1028.5 1539.51,1028.5 1540.04,1028.5 1540.57,1028.5 1541.10,1028.0 1541.63,1028.5 1542.16,1029.0 1542.69,1028.5 1543.22,1029.0 1543.74,1029.0 1544.27,1028.5 1544.80,1028.0 1545.33,1029.0 1545.86,1029.0 1546.39,1028.5 1546.92,1028.5 1547.45,1028.5 1547.98,1028.0 1548.51,1028.5 1549.04,1029.0 1549.57,1028.5 1550.10,1028.5 1550.63,1028.5 1551.16,1029.0 1551.69,1028.5 1552.22,1028.5 1552.75,1029.0 1553.28,1028.5 1553.81,1028.5 1554.34,1029.0 1554.87,1028.5 1555.40,1028.5 1555.93,1028.5 1556.46,1029.0 1556.98,1028.5 1557.51,1028.0 1558.04,1028.5 1558.57,1028.5 1559.10,1028.5 1559.63,1028.5 1560.16,1028.5 1560.69,1028.5 1561.22,1029.0 1561.75,1029.0 1562.28,1028.5 1562.81,1028.5 1563.34,1029.0 1563.87,1028.5 1564.40,1028.5 1564.93,1029.0 1565.46,1028.5 1565.99,1028.5 1566.52,1029.0 1567.05,1028.5 1567.58,1028.5 1568.11,1028.5 1568.64,1029.0 1569.17,1028.0 1569.70,1029.0 1570.22,1029.0 1570.75,1028.5 1571.28,1029.0 1571.81,1028.5 1572.34,1029.0 1572.87,1028.5 1573.40,1028.5 1573.93,1028.5 1574.46,1028.5 1574.99,1028.5 1575.52,1028.5 1576.05,1028.5 1576.58,1028.5 1577.11,1029.0 1577.64,1028.5 1578.17,1029.0 1578.70,1028.5 1579.23,1029.0 1579.76,1028.5 1580.29,1029.0 1580.82,1028.5 1581.35,1028.5 1581.88,1028.5 1582.41,1028.5 1582.94,1028.5 1583.46,1028.5 1583.99,1029.0 1584.52,1028.5 1585.05,1028.5 1585.58,1028.5 1586.11,1029.0 1586.64,1029.0 1587.17,1029.0 1587.70,1029.0 1588.23,1028.5 1588.76,1028.0 1589.29,1029.0 1589.82,1028.5 1590.35,1028.5 1590.88,1028.5 1591.41,1028.5 1591.94,1028.5 1592.47,1028.5 1593.00,1028.5 1593.53,1029.0 1594.06,1029.0 1594.59,1028.0 1595.12,1028.5 1595.65,1028.5 1596.18,1029.0 1596.70,1028.0 1597.23,1028.5 1597.76,1028.5 1598.29,1028.5 1598.82,1028.5 1599.35,1028.5 1599.88,1028.5 1600.41,1028.5 1600.94,1029.5 1601.47,1028.5 1602.00,1028.5 1602.53,1029.5 1603.06,1028.5 1603.59,1028.5 1604.12,1029.0 1604.65,1028.5 1605.18,1028.5 1605.71,1028.0 1606.24,1028.5 1606.77,1028.5 1607.30,1028.5 1607.83,1028.5 1608.36,1029.0 1608.89,1028.5 1609.42,1028.5 1609.94,1028.5 1610.47,1029.0 1611.00,1028.0 1611.53,1029.0 1612.06,1029.0 1612.59,1029.0 1613.12,1028.5 1613.65,1028.5 1614.18,1028.5 1614.71,1028.5 1615.24,1028.5 1615.77,1028.5 1616.30,1028.5 1616.83,1028.0 1617.36,1028.5 1617.89,1029.0 1618.42,1029.0 1618.95,1029.0 1619.48,1029.0 1620.01,1028.5 1620.54,1029.0 1621.07,1028.5 1621.60,1029.0 1622.13,1028.5 1622.66,1029.0 1623.18,1028.5 1623.71,1028.5 1624.24,1028.5 1624.77,1028.5 1625.30,1028.5 1625.83,1028.5 1626.36,1029.0 1626.89,1028.5 1627.42,1028.5 1627.95,1028.5 1628.48,1029.0 1629.01,1028.5 1629.54,1029.0 1630.07,1029.0 1630.60,1028.5 1631.13,1028.5 1631.66,1029.0 1632.19,1028.5 1632.72,1029.0 1633.25,1029.0 1633.78,1028.5 1634.31,1028.5 1634.84,1028.5 1635.37,1028.5 1635.90,1028.5 1636.42,1028.5 1636.95,1029.0 1637.48,1028.0 1638.01,1028.5 1638.54,1028.5 1639.07,1028.5 1639.60,1028.0 1640.13,1028.5 1640.66,1028.5 1641.19,1028.0 1641.72,1029.0 1642.25,1028.5 1642.78,1028.5 1643.31,1028.5 1643.84,1028.0 1644.37,1028.0 1644.90,1028.5 1645.43,1028.0 1645.96,1028.5 1646.49,1028.0 1647.02,1028.5 1647.55,1028.0 1648.08,1028.0 1648.61,1028.0 1649.14,1028.0 1649.66,1028.0 1650.19,1028.5 1650.72,1028.5 1651.25,1028.0 1651.78,1028.0 1652.31,1028.0 1652.84,1028.0 1653.37,1028.0 1653.90,1028.5 1654.43,1027.5 1654.96,1028.0 1655.49,1028.0 1656.02,1028.0 1656.55,1028.0 1657.08,1028.0 1657.61,1028.5 1658.14,1028.5 1658.67,1028.5 1659.20,1028.5 1659.73,1028.5 1660.26,1028.5 1660.79,1028.5 1661.32,1028.5 1661.85,1028.5 1662.38,1028.0 1662.90,1029.0 1663.43,1028.5 1663.96,1028.0 1664.49,1028.5 1665.02,1029.0 1665.55,1028.0 1666.08,1029.0 1666.61,1028.5 1667.14,1028.5 1667.67,1028.5 1668.20,1028.5 1668.73,1028.5 1669.26,1028.5 1669.79,1028.5 1670.32,1028.5 1670.85,1028.0 1671.38,1029.0 1671.91,1028.5 1672.44,1028.5 1672.97,1028.5 1673.50,1028.5 1674.03,1028.5 1674.56,1028.5 1675.09,1028.0 1675.62,1028.0 1676.14,1028.0 1676.67,1028.5 1677.20,1029.0 1677.73,1028.5 1678.26,1028.5 1678.79,1029.0 1679.32,1028.5 1679.85,1028.5 1680.38,1028.5 1680.91,1028.5 1681.44,1028.0 1681.97,1029.0 1682.50,1029.0 1683.03,1029.0 1683.56,1029.0 1684.09,1028.5 1684.62,1029.0 1685.15,1028.5 1685.68,1029.0 1686.21,1029.0 1686.74,1028.5 1687.27,1028.5 1687.80,1028.5 1688.33,1028.0 1688.86,1028.5 1689.38,1029.0 1689.91,1028.5 1690.44,1028.5 1690.97,1028.5 1691.50,1028.5 1692.03,1028.0 1692.56,1028.5 1693.09,1028.0 1693.62,1028.5 1694.15,1028.5 1694.68,1028.5 1695.21,1028.5 1695.74,1028.5 1696.27,1029.0 1696.80,1028.5 1697.33,1029.0 1697.86,1028.5 1698.39,1028.5 1698.92,1028.5 1699.45,1028.0 1699.98,1028.0 1700.51,1029.0 1701.04,1028.5 1701.57,1028.5 1702.10,1029.0 1702.62,1029.0 1703.15,1029.0 1703.68,1028.5 1704.21,1028.5 1704.74,1029.0 1705.27,1028.5 1705.80,1028.0 1706.33,1028.5 1706.86,1028.5 1707.39,1028.5 1707.92,1028.5 1708.45,1029.0 1708.98,1028.5 1709.51,1028.5 1710.04,1028.5 1710.57,1028.5 1711.10,1028.5 1711.63,1028.0 1712.16,1028.5 1712.69,1029.0 1713.22,1028.5 1713.75,1029.0 1714.28,1029.0 1714.81,1028.5 1715.34,1028.5 1715.86,1028.5 1716.39,1028.5 1716.92,1028.5 1717.45,1028.5 1717.98,1028.5 1718.51,1029.0 1719.04,1028.5 1719.57,1028.5 1720.10,1028.5 1720.63,1029.0 1721.16,1029.0 1721.69,1029.0 1722.22,1028.5 1722.75,1028.5 1723.28,1028.5 1723.81,1028.5 1724.34,1028.0 1724.87,1028.5 1725.40,1029.0 1725.93,1028.5 1726.46,1029.0 1726.99,1028.5 1727.52,1028.0 1728.05,1028.5 1728.58,1028.5 1729.10,1028.5 1729.63,1028.5 1730.16,1028.0 1730.69,1028.5 1731.22,1028.5 1731.75,1028.0 1732.28,1028.5 1732.81,1028.5 1733.34,1028.0 1733.87,1028.0 1734.40,1028.0 1734.93,1028.5 1735.46,1028.5 1735.99,1027.5 1736.52,1028.0 1737.05,1028.0 1737.58,1027.5 1738.11,1028.0 1738.64,1028.0 1739.17,1028.0 1739.70,1028.5 1740.23,1028.5 1740.76,1028.0 1741.29,1028.5 1741.82,1028.0 1742.34,1028.0 1742.87,1028.5 1743.40,1028.0 1743.93,1028.0 1744.46,1027.5 1744.99,1028.5 1745.52,1028.5 1746.05,1028.5 1746.58,1028.5 1747.11,1028.0 1747.64,1028.0 1748.17,1028.5 1748.70,1029.0 1749.23,1028.5 1749.76,1029.0 1750.29,1028.0 1750.82,1028.0 1751.35,1028.5 1751.88,1028.5 1752.41,1028.0 1752.94,1028.0 1753.47,1028.0 1754.00,1028.5 1754.53,1028.5 1755.06,1029.0 1755.58,1028.5 1756.11,1028.5 1756.64,1028.5 1757.17,1029.0 1757.70,1028.5 1758.23,1029.0 1758.76,1028.5 1759.29,1028.0 1759.82,1028.5 1760.35,1029.0 1760.88,1028.0 1761.41,1029.0 1761.94,1028.5 1762.47,1029.0 1763.00,1028.5 1763.53,1028.5 1764.06,1028.5 1764.59,1028.5 1765.12,1028.5 1765.65,1028.5 1766.18,1029.0 1766.71,1028.5 1767.24,1028.5 1767.77,1028.0 1768.30,1028.5 1768.82,1028.5 1769.35,1028.0 1769.88,1028.5 1770.41,1028.5 1770.94,1029.0 1771.47,1028.5 1772.00,1029.0 1772.53,1028.5 1773.06,1029.0 1773.59,1029.0 1774.12,1029.0 1774.65,1028.5 1775.18,1028.5 1775.71,1028.5 1776.24,1028.0 1776.77,1028.5 1777.30,1028.5 1777.83,1028.5 1778.36,1029.0 1778.89,1028.0 1779.42,1028.0 1779.95,1028.5 1780.48,1028.5 1781.01,1028.5 1781.54,1028.5 1782.06,1028.5 1782.59,1029.0 1783.12,1028.5 1783.65,1028.5 1784.18,1029.5 1784.71,1028.5 1785.24,1029.0 1785.77,1029.0 1786.30,1028.0 1786.83,1028.5 1787.36,1028.5 1787.89,1029.0 1788.42,1028.5 1788.95,1028.5 1789.48,1028.5 1790.01,1029.0 1790.54,1028.5 1791.07,1028.5 1791.60,1028.5 1792.13,1028.5 1792.66,1028.5 1793.19,1029.0 1793.72,1029.0 1794.25,1028.5 1794.78,1028.5 1795.30,1028.0 1795.83,1028.5 1796.36,1029.0 1796.89,1028.5 1797.42,1028.5 1797.95,1029.0 1798.48,1028.5 1799.01,1029.0 1799.54,1029.0 1800.07,1028.0 1800.60,1028.5 1801.13,1028.5 1801.66,1028.5 1802.19,1029.0 1802.72,1028.5 1803.25,1028.5 1803.78,1028.5 1804.31,1028.5 1804.84,1029.0 1805.37,1028.5 1805.90,1028.5 1806.43,1029.0 1806.96,1029.0 1807.49,1028.5 1808.02,1029.0 1808.54,1029.0 1809.07,1028.5 1809.60,1029.0 1810.13,1029.0 1810.66,1028.5 1811.19,1029.0 1811.72,1028.5 1812.25,1029.0 1812.78,1029.0 1813.31,1028.5 1813.84,1028.5 1814.37,1028.5 1814.90,1028.5 1815.43,1028.5 1815.96,1028.5 1816.49,1028.5 1817.02,1028.5 1817.55,1028.5 1818.08,1028.5 1818.61,1029.0 1819.14,1028.5 1819.67,1028.5 1820.20,1028.5 1820.73,1028.5 1821.26,1028.5 1821.78,1029.0 1822.31,1028.0 1822.84,1029.0 1823.37,1028.5 1823.90,1028.5 1824.43,1028.5 1824.96,1029.0 1825.49,1028.5 1826.02,1028.5 1826.55,1028.5 1827.08,1028.5 1827.61,1028.5 1828.14,1028.5 1828.67,1028.5 1829.20,1028.5 1829.73,1028.5 1830.26,1028.5 1830.79,1028.5 1831.32,1028.5 1831.85,1028.5 1832.38,1028.5 1832.91,1028.5 1833.44,1028.0 1833.97,1028.5 1834.50,1028.5 1835.02,1028.5 1835.55,1028.5 1836.08,1028.5 1836.61,1028.5 1837.14,1028.5 1837.67,1028.5 1838.20,1028.5 1838.73,1028.0 1839.26,1028.5 1839.79,1028.0 1840.32,1027.5 1840.85,1028.0 1841.38,1028.5 1841.91,1028.5 1842.44,1028.5 1842.97,1028.5 1843.50,1028.5 1844.03,1028.0 1844.56,1028.5 1845.09,1028.0 1845.62,1028.5 1846.15,1028.5 1846.68,1028.5 1847.21,1029.0 1847.74,1028.5 1848.26,1028.5 1848.79,1028.5 1849.32,1028.5 1849.85,1029.0 1850.38,1028.0 1850.91,1029.0 1851.44,1029.0 1851.97,1028.5 1852.50,1028.0 1853.03,1028.5 1853.56,1028.0 1854.09,1028.5 1854.62,1028.5 1855.15,1028.0 1855.68,1029.0 1856.21,1028.5 1856.74,1028.5 1857.27,1028.5 1857.80,1028.5 1858.33,1028.5 1858.86,1028.5 1859.39,1028.5 1859.92,1028.0 1860.45,1028.5 1860.98,1028.5 1861.50,1029.0 1862.03,1028.5 1862.56,1028.0 1863.09,1029.0 1863.62,1028.0 1864.15,1028.5 1864.68,1028.0 1865.21,1028.5 1865.74,1028.5 1866.27,1028.0 1866.80,1028.0 1867.33,1028.5 1867.86,1028.5 1868.39,1028.5 1868.92,1028.5 1869.45,1029.0 1869.98,1028.0 1870.51,1028.0 1871.04,1028.5 1871.57,1028.0 1872.10,1028.5 1872.63,1028.5 1873.16,1028.5 1873.69,1028.0 1874.22,1028.5 1874.74,1028.5 1875.27,1028.5 1875.80,1028.5 1876.33,1028.5 1876.86,1028.5 1877.39,1028.5 1877.92,1028.5 1878.45,1028.5 1878.98,1029.0 1879.51,1028.5 1880.04,1029.0 1880.57,1029.0 1881.10,1029.0"/>
<polyline class="c" stroke="#f00" points="159.90,1312.0 160.43,1311.0 160.96,1311.0 161.49,1309.5 162.02,1310.5 162.55,1310.5 163.08,1311.0 163.61,1310.5 164.14,1311.0 164.67,1310.5 165.20,1310.5 165.73,1311.5 166.26,1311.5 166.78,1312.0 167.31,1311.0 167.84,1311.0 168.37,1311.0 168.90,1310.5 169.43,1312.0 169.96,1310.5 170.49,1310.5 171.02,1311.5 171.55,1312.0 172.08,1311.5 172.61,1311.0 173.14,1311.0 173.67,1312.0 174.20,1311.5 174.73,1311.0 175.26,1311.5 175.79,1312.0 176.32,1313.0 176.85,1311.0 177.38,1311.5 177.91,1311.5 178.44,1310.5 178.97,1311.5 179.50,1311.5 180.02,1312.5 180.55,1312.0 181.08,1311.0 181.61,1312.5 182.14,1312.0 182.67,1311.0 183.20,1312.0 183.73,1312.0 184.26,1311.5 184.79,1312.0 185.32,1311.0 185.85,1312.0 186.38,1313.0 186.91,1313.0 187.44,1313.0 187.97,1313.0 188.50,1313.0 189.03,1312.0 189.56,1313.0 190.09,1311.5 190.62,1312.5 191.15,1311.5 191.68,1313.0 192.21,1313.5 192.74,1312.5 193.26,1313.5 193.79,1312.5 194.32,1313.0 194.85,1313.0 195.38,1312.5 195.91,1313.0 196.44,1314.0 196.97,1312.5 197.50,1313.5 198.03,1313.0 198.56,1314.0 199.09,1313.5 199.62,1313.5 200.15,1313.5 200.68,1313.5 201.21,1312.5 201.74,1314.0 202.27,1312.5 202.80,1313.5 203.33,1313.5 203.86,1313.0 204.39,1313.5 204.92,1314.0 205.45,1313.5 205.98,1313.0 206.50,1312.0 207.03,1313.0 207.56,1313.0 208.09,1313.0 208.62,1313.0 209.15,1313.5 209.68,1313.5 210.21,1313.5 210.74,1314.0 211.27,1313.0 211.80,1313.5 212.33,1314.5 212.86,1314.0 213.39,1313.0 213.92,1313.5 214.45,1314.0 214.98,1314.5 215.51,1314.0 216.04,1313.5 216.57,1313.5 217.10,1314.0 217.63,1314.0 218.16,1313.5 218.69,1314.0 219.22,1313.5 219.74,1314.5 220.27,1313.5 220.80,1314.0 221.33,1314.5 221.86,1314.0 222.39,1313.5 222.92,1314.5 223.45,1314.0 223.98,1314.5 224.51,1314.0 225.04,1313.5 225.57,1314.5 226.10,1314.5 226.63,1314.5 227.16,1314.5 227.69,1314.0 228.22,1314.0 228.75,1314.5 229.28,1315.0 229.81,1314.5 230.34,1314.0 230.87,1314.5 231.40,1314.0 231.93,1314.0 232.46,1314.5 232.98,1314.0 233.51,1313.5 234.04,1314.0 234.57,1314.5 235.10,1314.5 235.63,1315.0 236.16,1314.0 236.69,1314.5 237.22,1314.5 237.75,1314.5 238.28,1314.5 238.81,1314.5 239.34,1314.0 239.87,1315.0 240.40,1314.0 240.93,1314.5 241.46,1314.5 241.99,1314.5 242.52,1314.0 243.05,1314.5 243.58,1314.5 244.11,1314.5 244.64,1314.0 245.17,1314.5 245.70,1314.0 246.22,1314.0 246.75,1315.5 247.28,1314.0 247.81,1313.0 248.34,1313.5 248.87,1312.0 249.40,1312.0 249.93,1312.0 250.46,1311.5 250.99,1311.0 251.52,1311.0 252.05,1311.0 252.58,1310.0 253.11,1310.0 253.64,1310.0 254.17,1310.0 254.70,1309.5 255.23,1309.0 255.76,1307.5 256.29,1305.5 256.82,1302.0 257.35,1296.5 257.88,1288.5 258.41,1278.0 258.94,1273.5 259.46,1270.0 259.99,1208.5 260.50,1196.5 261.05,1196.5 261.50,1196.5 262.11,1222.5 262.64,1275.0 263.17,1278.5 263.70,1285.0 264.23,1292.5 264.76,1298.0 265.29,1302.5 265.82,1305.5 266.35,1307.5 266.88,1308.0 267.41,1309.0 267.94,1309.5 268.47,1310.0 269.00,1310.5 269.53,1311.0 270.06,1311.5 270.59,1311.5 271.12,1311.5 271.65,1312.5 272.18,1312.0 272.70,1313.0 273.23,1312.5 273.76,1312.5 274.29,1313.0 274.82,1313.0 275.35,1313.0 275.88,1313.0 276.41,1313.0 276.94,1313.5 277.47,1313.0 278.00,1314.0 278.53,1313.5 279.06,1314.0 279.59,1312.5 280.12,1313.5 280.65,1314.0 281.18,1314.0 281.71,1314.5 282.24,1314.0 282.77,1314.0 283.30,1314.5 283.83,1315.0 284.36,1314.5 284.89,1314.5 285.42,1314.0 285.94,1314.5 286.47,1314.0 287.00,1314.5 287.53,1315.5 288.06,1315.0 288.59,1315.0 289.12,1315.0 289.65,1315.5 290.18,1315.0 290.71,1315.5 291.24,1315.5 291.77,1315.0 292.30,1315.5 292.83,1314.0 293.36,1315.0 293.89,1315.0 294.42,1315.0 294.95,1315.0 295.48,1315.0 296.01,1315.0 296.54,1316.5 297.07,1315.5 297.60,1315.5 298.13,1316.0 298.66,1315.5 299.18,1316.0 299.71,1315.5 300.24,1316.0 300.77,1315.0 301.30,1316.0 301.83,1315.5 302.36,1315.5 302.89,1316.0 303.42,1315.5 303.95,1316.5 304.48,1316.0 305.01,1316.0 305.54,1316.0 306.07,1316.0 306.60,1315.0 307.13,1316.0 307.66,1315.5 308.19,1316.0 308.72,1316.0 309.25,1316.0 309.78,1315.5 310.31,1316.5 310.84,1317.0 311.37,1316.0 311.90,1316.0 312.42,1316.0 312.95,1316.5 313.48,1317.0 314.01,1316.0 314.54,1316.0 315.07,1316.0 315.60,1316.0 316.13,1315.5 316.66,1316.5 317.19,1316.0 317.72,1317.0 318.25,1316.5 318.78,1316.0 319.31,1316.0 319.84,1316.0 320.37,1317.0 320.90,1316.0 321.43,1316.0 321.96,1316.5 322.49,1316.5 323.02,1316.0 323.55,1317.0 324.08,1316.5 324.61,1316.5 325.14,1316.0 325.66,1316.5 326.19,1316.5 326.72,1315.5 327.25,1316.5 327.78,1316.0 328.31,1316.5 328.84,1316.0 329.37,1317.0 329.90,1316.5 330.43,1316.5 330.96,1316.5 331.49,1316.0 332.02,1315.5 332.55,1316.5 333.08,1316.5 333.61,1316.5 334.14,1316.5 334.67,1317.0 335.20,1316.0 335.73,1316.5 336.26,1317.0 336.79,1316.5 337.32,1316.0 337.85,1316.5 338.38,1316.5 338.90,1316.5 339.43,1316.0 339.96,1316.5 340.49,1316.0 341.02,1317.0 341.55,1317.0 342.08,1317.0 342.61,1316.0 343.14,1316.5 343.67,1315.5 344.20,1316.5 344.73,1316.5 345.26,1316.0 345.79,1316.5 346.32,1316.5 346.85,1317.0 347.38,1316.5 347.91,1316.5 348.44,1316.0 348.97,1316.0 349.50,1316.5 350.03,1316.5 350.56,1316.5 351.09,1317.0 351.62,1316.5 352.14,1316.5 352.67,1316.5 353.20,1316.5 353.73,1317.0 354.26,1316.5 354.79,1317.0 355.32,1316.5 355.85,1317.0 356.38,1316.5 356.91,1317.0 357.44,1316.0 357.97,1317.0 358.50,1316.5 359.03,1316.5 359.56,1317.0 360.09,1316.5 360.62,1316.5 361.15,1316.5 361.68,1317.0 362.21,1316.0 362.74,1316.5 363.27,1316.5 363.80,1316.5 364.33,1316.5 364.86,1317.0 365.38,1316.5 365.91,1316.5 366.44,1316.5 366.97,1316.5 367.50,1316.0 368.03,1316.5 368.56,1317.0 369.09,1317.0 369.62,1317.5 370.15,1317.0 370.68,1317.0 371.21,1316.5 371.74,1317.0 372.27,1317.0 372.80,1317.0 373.33,1316.5 373.86,1317.0 374.39,1317.0 374.92,1317.5 375.45,1317.0 375.98,1316.5 376.51,1316.5 377.04,1316.5 377.57,1316.5 378.10,1317.0 378.62,1317.0 379.15,1317.0 379.68,1317.0 380.21,1316.5 380.74,1317.0 381.27,1317.0 381.80,1317.0 382.33,1317.5 382.86,1317.0 383.39,1316.5 383.92,1317.0 384.45,1316.5 384.98,1316.5 385.51,1316.5 386.04,1317.0 386.57,1317.5 387.10,1317.0 387.63,1317.0 388.16,1317.5 388.69,1316.5 389.22,1317.0 389.75,1317.0 390.28,1317.0 390.81,1316.5 391.34,1317.0 391.86,1317.5 392.39,1317.5 392.92,1317.5 393.45,1317.0 393.98,1317.5 394.51,1317.0 395.04,1316.5 395.57,1317.0 396.10,1317.0 396.63,1317.0 397.16,1317.0 397.69,1317.5 398.22,1317.0 398.75,1317.0 399.28,1317.5 399.81,1317.0 400.34,1317.0 400.87,1317.5 401.40,1317.0 401.93,1317.0 402.46,1317.0 402.99,1316.5 403.52,1317.0 404.05,1317.5 404.58,1317.0 405.10,1317.0 405.63,1316.5 406.16,1317.0 406.69,1317.5 407.22,1317.5 407.75,1317.0 408.28,1317.0 408.81,1317.0 409.34,1317.0 409.87,1317.0 410.40,1317.0 410.93,1317.0 411.46,1317.5 411.99,1317.0 412.52,1317.0 413.05,1316.5 413.58,1317.0 414.11,1317.0 414.64,1317.5 415.17,1317.5 415.70,1317.5 416.23,1317.0 416.76,1316.5 417.29,1317.5 417.82,1317.5 418.34,1316.5 418.87,1317.0 419.40,1317.5 419.93,1317.0 420.46,1317.5 420.99,1317.0 421.52,1317.0 422.05,1317.5 422.58,1317.0 423.11,1317.0 423.64,1317.5 424.17,1316.5 424.70,1317.5 425.23,1317.0 425.76,1317.0 426.29,1317.0 426.82,1317.5 427.35,1317.5 427.88,1317.0 428.41,1317.5 428.94,1317.0 429.47,1317.0 430.00,1317.0 430.53,1317.0 431.06,1317.0 431.58,1317.5 432.11,1317.0 432.64,1317.5 433.17,1317.5 433.70,1317.0 434.23,1316.5 434.76,1317.0 435.29,1317.5 435.82,1317.0 436.35,1317.0 436.88,1317.5 437.41,1316.5 437.94,1317.0 438.47,1317.0 439.00,1318.0 439.53,1317.5 440.06,1317.0 440.59,1317.5 441.12,1317.5 441.65,1317.5 442.18,1317.0 442.71,1317.0 443.24,1317.5 443.77,1317.5 444.30,1317.5 444.82,1318.0 445.35,1317.0 445.88,1317.0 446.41,1317.0 446.94,1317.0 447.47,1317.5 448.00,1317.5 448.53,1317.5 449.06,1317.5 449.59,1317.0 450.12,1317.0 450.65,1317.0 451.18,1317.0 451.71,1317.0 452.24,1316.5 452.77,1317.5 453.30,1317.5 453.83,1317.0 454.36,1317.0 454.89,1317.0 455.42,1317.0 455.95,1318.0 456.48,1316.5 457.01,1317.5 457.54,1317.5 458.06,1317.5 458.59,1317.0 459.12,1317.5 459.65,1317.0 460.18,1317.5 460.71,1317.5 461.24,1317.0 461.77,1317.0 462.30,1317.5 462.83,1317.5 463.36,1317.5 463.89,1317.5 464.42,1317.0 464.95,1317.0 465.48,1317.5 466.01,1317.5 466.54,1317.0 467.07,1317.5 467.60,1317.5 468.13,1317.5 468.66,1317.0 469.19,1317.5 469.72,1317.0 470.25,1317.0 470.78,1317.5 471.30,1318.0 471.83,1318.5 472.36,1317.5 472.89,1317.5 473.42,1317.5 473.95,1317.0 474.48,1317.5 475.01,1317.0 475.54,1318.0 476.07,1318.0 476.60,1317.5 477.13,1317.0 477.66,1318.0 478.19,1317.5 478.72,1317.5 479.25,1317.5 479.78,1317.0 480.31,1317.5 480.84,1318.0 481.37,1317.5 481.90,1317.5 482.43,1317.0 482.96,1317.5 483.49,1317.5 484.02,1317.5 484.54,1317.5 485.07,1317.5 485.60,1318.0 486.13,1317.5 486.66,1317.5 487.19,1317.5 487.72,1318.0 488.25,1317.5 488.78,1317.0 489.31,1316.0 489.84,1315.5 490.37,1315.0 490.90,1314.0 491.43,1312.5 491.96,1310.5 492.49,1308.0 493.02,1305.5 493.55,1302.5 494.08,1300.0 494.50,1298.9 495.14,1300.0 495.67,1302.0 496.20,1304.0 496.73,1307.0 497.26,1310.5 497.78,1311.5 498.31,1313.0 498.84,1314.0 499.37,1315.0 499.90,1315.0 500.43,1315.5 500.96,1316.0 501.49,1316.5 502.02,1316.5 502.55,1317.0 503.08,1317.5 503.61,1317.0 504.14,1317.5 504.67,1317.5 505.20,1317.5 505.73,1317.5 506.26,1318.0 506.79,1317.5 507.32,1317.0 507.85,1317.5 508.38,1317.0 508.91,1317.5 509.44,1317.0 509.97,1317.5 510.50,1317.5 511.02,1318.0 511.55,1317.5 512.08,1317.5 512.61,1317.5 513.14,1318.0 513.67,1317.0 514.20,1317.5 514.73,1317.5 515.26,1317.5 515.79,1318.0 516.32,1318.5 516.85,1317.5 517.38,1317.5 517.91,1317.5 518.44,1318.0 518.97,1317.0 519.50,1318.0 520.03,1317.5 520.56,1317.0 521.09,1317.0 521.62,1317.5 522.15,1317.5 522.68,1317.5 523.21,1318.0 523.74,1317.5 524.26,1317.5 524.79,1317.0 525.32,1317.5 525.85,1318.0 526.38,1317.5 526.91,1317.0 527.44,1317.0 527.97,1318.0 528.50,1317.5 529.03,1317.5 529.56,1317.5 530.09,1317.5 530.62,1317.5 531.15,1317.5 531.68,1317.0 532.21,1317.5 532.74,1318.0 533.27,1317.5 533.80,1318.0 534.33,1317.5 534.86,1317.5 535.39,1317.5 535.92,1317.5 536.45,1318.0 536.98,1317.5 537.50,1317.5 538.03,1317.5 538.56,1317.5 539.09,1317.5 539.62,1317.5 540.15,1317.5 540.68,1317.0 541.21,1317.5 541.74,1318.0 542.27,1317.0 542.80,1318.0 543.33,1317.5 543.86,1317.5 544.39,1317.0 544.92,1318.0 545.45,1317.5 545.98,1317.5 546.51,1317.5 547.04,1317.5 547.57,1317.5 548.10,1317.5 548.63,1317.5 549.16,1317.5 549.69,1317.5 550.22,1317.5 550.74,1317.5 551.27,1317.5 551.80,1317.5 552.33,1318.0 552.86,1317.5 553.39,1317.0 553.92,1317.5 554.45,1318.0 554.98,1317.0 555.51,1317.5 556.04,1317.5 556.57,1317.5 557.10,1318.0 557.63,1318.0 558.16,1317.5 558.69,1318.0 559.22,1317.5 559.75,1317.5 560.28,1317.5 560.81,1317.5 561.34,1317.5 561.87,1318.0 562.40,1317.0 562.93,1317.5 563.46,1317.5 563.98,1318.0 564.51,1318.0 565.04,1318.0 565.57,1317.0 566.10,1317.5 566.63,1317.5 567.16,1317.0 567.69,1317.5 568.22,1318.0 568.75,1318.0 569.28,1317.5 569.81,1317.5 570.34,1317.5 570.87,1317.5 571.40,1317.5 571.93,1317.5 572.46,1317.5 572.99,1317.5 573.52,1318.0 574.05,1317.5 574.58,1317.5 575.11,1317.5 575.64,1317.5 576.17,1317.5 576.70,1318.0 577.22,1317.5 577.75,1318.0 578.28,1317.5 578.81,1317.5 579.34,1318.0 579.87,1317.5 580.40,1317.5 580.93,1317.5 581.46,1317.5 581.99,1317.5 582.52,1317.0 583.05,1318.0 583.58,1317.5 584.11,1317.5 584.64,1318.0 585.17,1317.0 585.70,1318.0 586.23,1317.5 586.76,1318.0 587.29,1317.5 587.82,1317.5 588.35,1317.0 588.88,1318.0 589.41,1317.5 589.94,1317.5 590.46,1318.0 590.99,1317.5 591.52,1317.5 592.05,1317.5 592.58,1317.5 593.11,1317.5 593.64,1317.5 594.17,1318.0 594.70,1318.0 595.23,1317.0 595.76,1317.0 596.29,1317.5 596.82,1317.5 597.35,1317.5 597.88,1318.0 598.41,1317.0 598.94,1318.0 599.47,1317.5 600.00,1318.0 600.53,1317.5 601.06,1318.0 601.59,1317.5 602.12,1317.5 602.65,1318.0 603.18,1317.5 603.70,1317.5 604.23,1318.0 604.76,1318.0 605.29,1318.0 605.82,1317.5 606.35,1317.5 606.88,1317.5 607.41,1317.5 607.94,1317.5 608.47,1317.5 609.00,1317.5 609.53,1318.0 610.06,1317.0 610.59,1317.5 611.12,1317.5 611.65,1318.0 612.18,1317.5 612.71,1317.5 613.24,1317.5 613.77,1317.5 614.30,1317.5 614.83,1318.0 615.36,1318.0 615.89,1318.0 616.42,1317.5 616.94,1318.5 617.47,1317.5 618.00,1317.0 618.53,1317.5 619.06,1317.5 619.59,1318.0 620.12,1317.5 620.65,1318.0 621.18,1318.0 621.71,1317.5 622.24,1317.5 622.77,1317.0 623.30,1317.5 623.83,1318.0 624.36,1318.0 624.89,1318.0 625.42,1318.0 625.95,1317.5 626.48,1318.0 627.01,1317.5 627.54,1317.5 628.07,1317.5 628.60,1317.5 629.13,1318.0 629.66,1318.0 630.18,1318.0 630.71,1317.5 631.24,1317.5 631.77,1318.0 632.30,1317.5 632.83,1317.5 633.36,1317.5 633.89,1317.5 634.42,1318.0 634.95,1317.5 635.48,1317.5 636.01,1318.0 636.54,1317.5 637.07,1318.0 637.60,1317.5 638.13,1318.0 638.66,1318.0 639.19,1318.0 639.72,1317.5 640.25,1317.5 640.78,1318.0 641.31,1317.5 641.84,1318.0 642.37,1317.5 642.90,1317.0 643.42,1317.5 643.95,1318.0 644.48,1317.5 645.01,1318.0 645.54,1317.5 646.07,1317.5 646.60,1317.5 647.13,1317.0 647.66,1317.5 648.19,1317.0 648.72,1317.0 649.25,1316.5 649.78,1316.5 650.31,1316.0 650.84,1316.5 651.37,1316.0 651.90,1317.0 652.43,1317.0 652.96,1317.5 653.49,1317.5 654.02,1317.0 654.55,1317.0 655.08,1318.0 655.61,1317.0 656.14,1318.0 656.66,1317.0 657.19,1317.5 657.72,1318.0 658.25,1318.0 658.78,1317.5 659.31,1317.5 659.84,1317.5 660.37,1318.0 660.90,1318.0 661.43,1317.5 661.96,1318.0 662.49,1317.5 663.02,1318.0 663.55,1318.0 664.08,1317.5 664.61,1318.0 665.14,1318.0 665.67,1317.5 666.20,1318.5 666.73,1318.0 667.26,1317.5 667.79,1318.0 668.32,1318.0 668.85,1317.5 669.38,1318.0 669.90,1317.5 670.43,1317.5 670.96,1318.0 671.49,1317.5 672.02,1317.5 672.55,1317.5 673.08,1317.5 673.61,1318.0 674.14,1317.5 674.67,1317.5 675.20,1317.5 675.73,1318.0 676.26,1318.0 676.79,1317.5 677.32,1317.5 677.85,1318.0 678.38,1317.5 678.91,1317.5 679.44,1318.0 679.97,1317.5 680.50,1318.0 681.03,1317.0 681.56,1318.0 682.09,1317.5 682.62,1317.5 683.14,1318.0 683.67,1317.5 684.20,1318.0 684.73,1318.0 685.26,1317.5 685.79,1317.5 686.32,1318.0 686.85,1317.5 687.38,1318.0 687.91,1318.0 688.44,1318.0 688.97,1317.5 689.50,1318.0 690.03,1318.0 690.56,1317.0 691.09,1317.5 691.62,1317.0 692.15,1317.0 692.68,1318.0 693.21,1317.5 693.74,1318.0 694.27,1317.5 694.80,1317.5 695.33,1317.5 695.86,1317.5 696.38,1317.0 696.91,1317.0 697.44,1317.0 697.97,1316.0 698.50,1316.0 699.03,1315.5 699.56,1315.5 700.09,1315.5 700.62,1316.5 701.15,1316.5 701.68,1317.0 702.21,1317.0 702.74,1317.5 703.27,1317.5 703.80,1317.5 704.33,1317.5 704.86,1317.5 705.39,1317.5 705.92,1317.5 706.45,1317.5 706.98,1317.5 707.51,1317.5 708.04,1317.0 708.57,1317.5 709.10,1317.5 709.62,1317.0 710.15,1317.0 710.68,1316.5 711.21,1317.5 711.74,1317.0 712.27,1317.5 712.80,1316.5 713.33,1317.0 713.86,1317.5 714.39,1317.0 714.92,1317.0 715.45,1317.0 715.98,1316.0 716.51,1316.0 717.04,1315.5 717.57,1315.0 718.10,1314.5 718.63,1314.0 719.16,1313.5 719.69,1313.5 720.22,1312.5 720.75,1312.5 721.28,1312.0 721.81,1312.0 722.34,1310.5 722.86,1310.5 723.39,1310.0 723.92,1310.0 724.45,1309.5 724.98,1309.0 725.51,1308.0 726.04,1304.5 726.57,1301.5 727.10,1293.0 727.63,1284.5 728.16,1277.5 728.69,1271.5 729.22,1268.0 729.75,1233.0 730.28,1230.0 730.81,1228.0 731.40,1227.2 731.87,1227.5 732.40,1233.5 732.93,1247.5 733.46,1268.5 733.99,1278.5 734.52,1286.0 735.05,1291.5 735.58,1296.0 736.10,1298.5 736.63,1300.5 737.16,1301.5 737.69,1302.5 738.22,1303.5 738.75,1305.0 739.28,1306.5 739.81,1308.0 740.34,1309.0 740.87,1310.5 741.40,1312.0 741.93,1312.5 742.46,1313.0 742.99,1314.0 743.52,1314.5 744.05,1314.5 744.58,1314.5 745.11,1315.0 745.64,1314.5 746.17,1315.0 746.70,1314.5 747.23,1315.5 747.76,1315.0 748.29,1315.5 748.82,1316.0 749.34,1316.0 749.87,1316.0 750.40,1316.0 750.93,1316.5 751.46,1317.0 751.99,1317.0 752.52,1317.0 753.05,1317.5 753.58,1316.5 754.11,1316.5 754.64,1316.5 755.17,1316.5 755.70,1316.5 756.23,1316.0 756.76,1316.5 757.29,1316.5 757.82,1316.0 758.35,1315.5 758.88,1316.5 759.41,1316.0 759.94,1316.0 760.47,1316.5 761.00,1316.5 761.53,1316.5 762.06,1317.0 762.58,1317.0 763.11,1317.0 763.64,1317.0 764.17,1317.0 764.70,1317.0 765.23,1317.5 765.76,1317.5 766.29,1317.5 766.82,1317.0 767.35,1317.5 767.88,1317.5 768.41,1318.0 768.94,1318.0 769.47,1317.5 770.00,1317.5 770.53,1318.5 771.06,1317.5 771.59,1317.5 772.12,1318.0 772.65,1317.5 773.18,1318.0 773.71,1318.0 774.24,1318.0 774.77,1317.5 775.30,1318.0 775.82,1318.0 776.35,1318.0 776.88,1318.5 777.41,1318.0 777.94,1317.5 778.47,1318.0 779.00,1318.0 779.53,1318.0 780.06,1318.0 780.59,1318.0 781.12,1318.0 781.65,1318.0 782.18,1318.5 782.71,1318.0 783.24,1317.5 783.77,1317.5 784.30,1318.5 784.83,1318.0 785.36,1318.0 785.89,1317.5 786.42,1318.0 786.95,1318.0 787.48,1318.0 788.01,1318.0 788.54,1318.0 789.06,1318.0 789.59,1318.0 790.12,1318.5 790.65,1317.5 791.18,1317.5 791.71,1318.0 792.24,1318.0 792.77,1317.5 793.30,1318.0 793.83,1318.0 794.36,1318.0 794.89,1318.0 795.42,1318.0 795.95,1318.0 796.48,1318.0 797.01,1318.0 797.54,1318.0 798.07,1318.0 798.60,1318.0 799.13,1318.0 799.66,1318.0 800.19,1318.0 800.72,1318.0 801.25,1318.0 801.78,1318.0 802.30,1317.5 802.83,1318.0 803.36,1318.0 803.89,1318.0 804.42,1318.0 804.95,1318.0 805.48,1318.0 806.01,1318.0 806.54,1318.0 807.07,1318.0 807.60,1318.0 808.13,1318.0 808.66,1318.0 809.19,1318.0 809.72,1318.0 810.25,1318.0 810.78,1318.0 811.31,1318.0 811.84,1318.0 812.37,1318.0 812.90,1318.5 813.43,1318.0 813.96,1318.0 814.49,1318.0 815.02,1317.5 815.54,1318.0 816.07,1317.5 816.60,1318.0 817.13,1318.0 817.66,1318.5 818.19,1318.0 818.72,1317.5 819.25,1318.0 819.78,1318.5 820.31,1318.0 820.84,1318.5 821.37,1318.0 821.90,1318.0 822.43,1317.5 822.96,1318.0 823.49,1318.5 824.02,1318.0 824.55,1318.0 825.08,1318.0 825.61,1318.0 826.14,1318.0 826.67,1318.0 827.20,1318.5 827.73,1317.5 828.26,1318.0 828.78,1318.5 829.31,1318.0 829.84,1318.5 830.37,1317.5 830.90,1318.0 831.43,1318.0 831.96,1318.0 832.49,1318.0 833.02,1318.0 833.55,1318.0 834.08,1318.5 834.61,1317.5 835.14,1318.5 835.67,1318.0 836.20,1317.5 836.73,1317.5 837.26,1317.5 837.79,1318.0 838.32,1318.0 838.85,1318.5 839.38,1318.5 839.91,1317.5 840.44,1317.5 840.97,1318.0 841.50,1317.5 842.02,1318.0 842.55,1318.0 843.08,1318.5 843.61,1317.5 844.14,1318.0 844.67,1318.5 845.20,1318.0 845.73,1318.0 846.26,1318.5 846.79,1317.5 847.32,1317.5 847.85,1318.0 848.38,1318.0 848.91,1318.5 849.44,1318.0 849.97,1318.5 850.50,1318.0 851.03,1318.0 851.56,1318.0 852.09,1318.5 852.62,1318.0 853.15,1318.0 853.68,1318.5 854.21,1318.5 854.74,1318.5 855.26,1318.0 855.79,1318.0 856.32,1318.0 856.85,1318.0 857.38,1318.0 857.91,1318.0 858.44,1318.5 858.97,1318.0 859.50,1318.0 860.03,1318.0 860.56,1318.0 861.09,1318.0 861.62,1318.5 862.15,1318.0 862.68,1318.0 863.21,1318.0 863.74,1318.0 864.27,1318.0 864.80,1318.0 865.33,1318.5 865.86,1318.0 866.39,1318.0 866.92,1318.0 867.45,1318.0 867.98,1318.0 868.50,1318.0 869.03,1318.0 869.56,1318.0 870.09,1318.5 870.62,1318.5 871.15,1318.0 871.68,1318.5 872.21,1318.5 872.74,1318.5 873.27,1318.0 873.80,1318.0 874.33,1318.5 874.86,1318.5 875.39,1318.0 875.92,1318.0 876.45,1318.0 876.98,1318.5 877.51,1318.0 878.04,1318.0 878.57,1318.5 879.10,1318.5 879.63,1318.0 880.16,1318.5 880.69,1318.0 881.22,1318.5 881.74,1318.0 882.27,1318.0 882.80,1318.0 883.33,1318.0 883.86,1318.5 884.39,1318.0 884.92,1318.5 885.45,1318.0 885.98,1318.5 886.51,1317.5 887.04,1318.0 887.57,1318.0 888.10,1317.5 888.63,1318.5 889.16,1318.0 889.69,1318.0 890.22,1318.0 890.75,1318.0 891.28,1318.0 891.81,1318.0 892.34,1318.0 892.87,1318.5 893.40,1318.0 893.93,1318.5 894.46,1318.0 894.98,1318.5 895.51,1318.0 896.04,1318.0 896.57,1318.0 897.10,1318.5 897.63,1318.5 898.16,1318.0 898.69,1318.0 899.22,1318.5 899.75,1318.5 900.28,1318.0 900.81,1318.0 901.34,1318.0 901.87,1318.0 902.40,1318.5 902.93,1318.0 903.46,1318.0 903.99,1318.5 904.52,1318.0 905.05,1318.0 905.58,1318.5 906.11,1318.5 906.64,1318.5 907.17,1318.5 907.70,1318.0 908.22,1318.5 908.75,1318.5 909.28,1318.5 909.81,1318.0 910.34,1318.0 910.87,1318.5 911.40,1318.5 911.93,1318.0 912.46,1318.0 912.99,1318.0 913.52,1318.0 914.05,1317.5 914.58,1318.0 915.11,1318.5 915.64,1318.5 916.17,1318.0 916.70,1318.5 917.23,1318.5 917.76,1318.0 918.29,1317.5 918.82,1318.5 919.35,1318.0 919.88,1318.0 920.41,1318.5 920.94,1318.5 921.46,1318.5 921.99,1318.5 922.52,1318.0 923.05,1318.0 923.58,1318.5 924.11,1318.0 924.64,1318.5 925.17,1318.5 925.70,1318.0 926.23,1318.5 926.76,1318.0 927.29,1318.0 927.82,1318.0 928.35,1318.5 928.88,1318.5 929.41,1318.0 929.94,1318.5 930.47,1318.0 931.00,1319.0 931.53,1318.0 932.06,1318.0 932.59,1318.5 933.12,1318.0 933.65,1318.0 934.18,1318.0 934.70,1318.5 935.23,1318.5 935.76,1318.5 936.29,1318.5 936.82,1318.0 937.35,1318.5 937.88,1318.5 938.41,1318.0 938.94,1319.0 939.47,1318.0 940.00,1318.5 940.53,1318.5 941.06,1318.5 941.59,1318.5 942.12,1318.5 942.65,1318.5 943.18,1317.5 943.71,1318.5 944.24,1318.0 944.77,1318.0 945.30,1318.5 945.83,1318.5 946.36,1318.5 946.89,1318.0 947.42,1318.5 947.94,1317.5 948.47,1318.0 949.00,1318.0 949.53,1318.0 950.06,1318.0 950.59,1318.5 951.12,1318.0 951.65,1318.5 952.18,1318.5 952.71,1318.0 953.24,1317.5 953.77,1318.0 954.30,1318.0 954.83,1318.5 955.36,1318.5 955.89,1318.0 956.42,1318.5 956.95,1318.0 957.48,1317.5 958.01,1318.5 958.54,1318.5 959.07,1318.0 959.60,1317.5 960.13,1318.0 960.66,1318.0 961.18,1318.0 961.71,1318.0 962.24,1318.0 962.77,1317.5 963.30,1317.5 963.83,1317.5 964.36,1316.5 964.89,1317.0 965.42,1316.5 965.95,1316.0 966.48,1315.5 967.01,1315.0 967.54,1314.5 968.07,1313.5 968.60,1312.5 969.13,1311.5 969.66,1310.5 970.19,1309.5 970.72,1309.5 971.25,1309.0 971.78,1308.5 972.31,1309.5 972.84,1310.0 973.37,1311.0 973.90,1312.0 974.42,1312.5 974.95,1313.5 975.48,1314.5 976.01,1315.5 976.54,1315.5 977.07,1316.0 977.60,1316.5 978.13,1317.0 978.66,1317.0 979.19,1317.0 979.72,1317.5 980.25,1318.0 980.78,1318.0 981.31,1317.5 981.84,1317.5 982.37,1317.5 982.90,1318.0 983.43,1317.5 983.96,1318.0 984.49,1318.5 985.02,1318.0 985.55,1318.0 986.08,1318.5 986.61,1318.5 987.14,1318.0 987.66,1318.0 988.19,1318.0 988.72,1318.0 989.25,1318.5 989.78,1318.5 990.31,1318.5 990.84,1318.0 991.37,1318.5 991.90,1318.5 992.43,1318.0 992.96,1318.5 993.49,1318.5 994.02,1318.5 994.55,1318.0 995.08,1318.5 995.61,1318.0 996.14,1318.0 996.67,1318.0 997.20,1318.0 997.73,1318.5 998.26,1318.5 998.79,1318.5 999.32,1318.5 999.85,1318.5 1000.38,1318.0 1000.90,1318.0 1001.43,1318.0 1001.96,1318.5 1002.49,1318.5 1003.02,1318.0 1003.55,1318.5 1004.08,1318.5 1004.61,1318.5 1005.14,1318.0 1005.67,1318.5 1006.20,1318.0 1006.73,1318.5 1007.26,1318.0 1007.79,1318.5 1008.32,1318.5 1008.85,1318.0 1009.38,1318.5 1009.91,1318.0 1010.44,1318.5 1010.97,1318.5 1011.50,1318.5 1012.03,1318.5 1012.56,1318.0 1013.09,1319.0 1013.62,1318.5 1014.14,1318.0 1014.67,1318.5 1015.20,1318.5 1015.73,1318.0 1016.26,1318.0 1016.79,1318.5 1017.32,1318.5 1017.85,1318.5 1018.38,1319.0 1018.91,1318.5 1019.44,1318.0 1019.97,1318.5 1020.50,1318.0 1021.03,1318.0 1021.56,1319.0 1022.09,1318.0 1022.62,1318.5 1023.15,1318.0 1023.68,1318.5 1024.21,1318.5 1024.74,1318.0 1025.27,1318.5 1025.80,1318.5 1026.33,1318.5 1026.86,1318.5 1027.38,1318.0 1027.91,1318.5 1028.44,1318.5 1028.97,1318.0 1029.50,1318.5 1030.03,1319.0 1030.56,1318.0 1031.09,1318.5 1031.62,1318.5 1032.15,1318.0 1032.68,1318.0 1033.21,1318.5 1033.74,1318.5 1034.27,1318.5 1034.80,1318.0 1035.33,1318.0 1035.86,1318.5 1036.39,1318.5 1036.92,1318.0 1037.45,1318.5 1037.98,1319.0 1038.51,1318.5 1039.04,1318.0 1039.57,1318.5 1040.10,1319.0 1040.62,1319.0 1041.15,1318.0 1041.68,1318.0 1042.21,1319.0 1042.74,1318.5 1043.27,1318.5 1043.80,1318.5 1044.33,1319.0 1044.86,1318.5 1045.39,1318.5 1045.92,1318.5 1046.45,1318.0 1046.98,1318.5 1047.51,1318.5 1048.04,1318.0 1048.57,1318.0 1049.10,1318.0 1049.63,1318.0 1050.16,1318.5 1050.69,1318.5 1051.22,1318.5 1051.75,1318.0 1052.28,1318.0 1052.81,1318.5 1053.34,1318.5 1053.86,1318.5 1054.39,1318.0 1054.92,1318.0 1055.45,1319.0 1055.98,1318.5 1056.51,1318.5 1057.04,1318.0 1057.57,1319.0 1058.10,1318.5 1058.63,1318.5 1059.16,1318.5 1059.69,1318.5 1060.22,1319.0 1060.75,1318.0 1061.28,1318.5 1061.81,1318.5 1062.34,1318.5 1062.87,1318.5 1063.40,1318.5 1063.93,1318.0 1064.46,1318.5 1064.99,1318.5 1065.52,1318.5 1066.05,1318.5 1066.58,1318.5 1067.10,1318.5 1067.63,1318.5 1068.16,1318.5 1068.69,1318.5 1069.22,1318.5 1069.75,1318.0 1070.28,1318.0 1070.81,1318.5 1071.34,1318.0 1071.87,1318.0 1072.40,1318.5 1072.93,1318.5 1073.46,1318.5 1073.99,1318.5 1074.52,1318.5 1075.05,1318.5 1075.58,1318.5 1076.11,1318.5 1076.64,1319.0 1077.17,1318.5 1077.70,1318.5 1078.23,1318.5 1078.76,1318.5 1079.29,1318.0 1079.82,1318.0 1080.34,1318.5 1080.87,1318.5 1081.40,1318.5 1081.93,1318.5 1082.46,1318.5 1082.99,1318.0 1083.52,1319.0 1084.05,1319.0 1084.58,1318.5 1085.11,1318.5 1085.64,1318.5 1086.17,1318.5 1086.70,1318.5 1087.23,1318.0 1087.76,1318.5 1088.29,1318.0 1088.82,1318.5 1089.35,1318.5 1089.88,1318.5 1090.41,1318.5 1090.94,1319.0 1091.47,1318.5 1092.00,1318.5 1092.53,1318.5 1093.06,1318.5 1093.58,1318.0 1094.11,1318.5 1094.64,1318.0 1095.17,1318.5 1095.70,1318.5 1096.23,1318.5 1096.76,1318.0 1097.29,1318.5 1097.82,1318.5 1098.35,1319.0 1098.88,1318.5 1099.41,1318.5 1099.94,1318.0 1100.47,1318.5 1101.00,1318.5 1101.53,1318.5 1102.06,1319.0 1102.59,1318.5 1103.12,1319.0 1103.65,1318.5 1104.18,1318.5 1104.71,1318.5 1105.24,1318.0 1105.77,1318.5 1106.30,1318.5 1106.82,1318.0 1107.35,1318.5 1107.88,1318.0 1108.41,1318.5 1108.94,1319.0 1109.47,1318.5 1110.00,1318.5 1110.53,1318.5 1111.06,1318.5 1111.59,1318.5 1112.12,1318.5 1112.65,1318.5 1113.18,1318.0 1113.71,1318.5 1114.24,1319.0 1114.77,1319.0 1115.30,1318.5 1115.83,1318.5 1116.36,1318.5 1116.89,1318.5 1117.42,1318.0 1117.95,1319.0 1118.48,1318.5 1119.01,1318.5 1119.54,1319.0 1120.06,1318.5 1120.59,1318.5 1121.12,1318.5 1121.65,1318.5 1122.18,1318.5 1122.71,1318.5 1123.24,1319.0 1123.77,1318.5 1124.30,1318.5 1124.83,1318.0 1125.36,1318.5 1125.89,1318.5 1126.42,1318.5 1126.95,1319.0 1127.48,1318.5 1128.01,1318.5 1128.54,1318.5 1129.07,1318.0 1129.60,1318.5 1130.13,1318.5 1130.66,1319.0 1131.19,1318.5 1131.72,1318.5 1132.25,1318.5 1132.78,1318.5 1133.30,1318.0 1133.83,1319.0 1134.36,1318.5 1134.89,1318.5 1135.42,1318.5 1135.95,1319.0 1136.48,1318.5 1137.01,1318.5 1137.54,1319.0 1138.07,1319.0 1138.60,1318.5 1139.13,1319.0 1139.66,1319.0 1140.19,1318.5 1140.72,1318.0 1141.25,1318.5 1141.78,1319.0 1142.31,1318.5 1142.84,1319.0 1143.37,1318.5 1143.90,1318.5 1144.43,1319.0 1144.96,1318.5 1145.49,1319.0 1146.02,1318.5 1146.54,1318.5 1147.07,1318.5 1147.60,1318.5 1148.13,1318.5 1148.66,1318.5 1149.19,1318.5 1149.72,1319.0 1150.25,1318.5 1150.78,1319.0 1151.31,1318.5 1151.84,1318.5 1152.37,1318.5 1152.90,1318.5 1153.43,1319.0 1153.96,1318.5 1154.49,1319.0 1155.02,1318.5 1155.55,1318.5 1156.08,1318.5 1156.61,1318.0 1157.14,1318.5 1157.67,1318.5 1158.20,1318.5 1158.73,1319.0 1159.26,1318.5 1159.78,1319.0 1160.31,1318.5 1160.84,1318.5 1161.37,1318.5 1161.90,1318.5 1162.43,1319.0 1162.96,1318.0 1163.49,1318.5 1164.02,1318.5 1164.55,1318.5 1165.08,1318.5 1165.61,1319.0 1166.14,1318.5 1166.67,1318.5 1167.20,1319.0 1167.73,1319.0 1168.26,1318.5 1168.79,1318.5 1169.32,1319.0 1169.85,1318.5 1170.38,1319.0 1170.91,1318.5 1171.44,1318.5 1171.97,1319.0 1172.50,1318.5 1173.02,1318.0 1173.55,1319.0 1174.08,1318.5 1174.61,1319.0 1175.14,1318.5 1175.67,1318.5 1176.20,1318.5 1176.73,1318.0 1177.26,1318.5 1177.79,1318.5 1178.32,1318.5 1178.85,1318.5 1179.38,1319.0 1179.91,1318.5 1180.44,1318.5 1180.97,1319.0 1181.50,1319.0 1182.03,1319.0 1182.56,1318.0 1183.09,1318.5 1183.62,1318.5 1184.15,1318.5 1184.68,1318.5 1185.21,1319.0 1185.74,1318.5 1186.26,1318.5 1186.79,1318.5 1187.32,1318.5 1187.85,1319.0 1188.38,1318.5 1188.91,1318.5 1189.44,1319.0 1189.97,1318.5 1190.50,1318.5 1191.03,1318.5 1191.56,1318.5 1192.09,1318.0 1192.62,1318.5 1193.15,1318.5 1193.68,1318.5 1194.21,1318.5 1194.74,1319.0 1195.27,1318.5 1195.80,1318.5 1196.33,1318.0 1196.86,1318.5 1197.39,1318.5 1197.92,1319.0 1198.45,1318.0 1198.98,1318.0 1199.50,1318.5 1200.03,1318.5 1200.56,1318.5 1201.09,1318.5 1201.62,1318.5 1202.15,1318.0 1202.68,1318.0 1203.21,1318.0 1203.74,1318.0 1204.27,1318.5 1204.80,1318.5 1205.33,1318.0 1205.86,1318.5 1206.39,1318.0 1206.92,1318.0 1207.45,1318.5 1207.98,1317.5 1208.51,1317.5 1209.04,1317.5 1209.57,1318.0 1210.10,1318.0 1210.63,1317.5 1211.16,1317.0 1211.69,1317.0 1212.22,1316.5 1212.74,1316.5 1213.27,1316.0 1213.80,1315.5 1214.33,1314.5 1214.86,1314.5 1215.39,1313.5 1215.92,1313.0 1216.45,1312.0 1216.98,1311.5 1217.51,1311.0 1218.04,1310.5 1218.57,1310.0 1219.10,1310.0 1219.63,1310.0 1220.16,1310.0 1220.69,1310.5 1221.22,1311.0 1221.75,1311.5 1222.28,1312.0 1222.81,1313.0 1223.34,1313.5 1223.87,1314.5 1224.40,1314.5 1224.93,1315.5 1225.46,1316.0 1225.98,1316.5 1226.51,1317.0 1227.04,1317.0 1227.57,1317.0 1228.10,1317.0 1228.63,1317.5 1229.16,1318.0 1229.69,1318.0 1230.22,1318.5 1230.75,1318.5 1231.28,1318.0 1231.81,1318.0 1232.34,1318.0 1232.87,1318.5 1233.40,1318.5 1233.93,1318.5 1234.46,1318.5 1234.99,1318.5 1235.52,1318.0 1236.05,1318.5 1236.58,1318.5 1237.11,1318.5 1237.64,1318.0 1238.17,1318.5 1238.70,1318.5 1239.22,1318.5 1239.75,1318.5 1240.28,1318.0 1240.81,1318.5 1241.34,1318.5 1241.87,1318.5 1242.40,1318.0 1242.93,1318.5 1243.46,1318.5 1243.99,1318.5 1244.52,1318.5 1245.05,1318.5 1245.58,1318.5 1246.11,1318.5 1246.64,1319.0 1247.17,1319.0 1247.70,1319.0 1248.23,1318.5 1248.76,1318.5 1249.29,1318.5 1249.82,1318.5 1250.35,1318.5 1250.88,1318.5 1251.41,1318.0 1251.94,1319.0 1252.46,1319.0 1252.99,1319.0 1253.52,1318.5 1254.05,1318.5 1254.58,1319.0 1255.11,1318.5 1255.64,1318.0 1256.17,1319.0 1256.70,1319.0 1257.23,1319.0 1257.76,1318.5 1258.29,1318.5 1258.82,1318.5 1259.35,1319.0 1259.88,1318.5 1260.41,1318.5 1260.94,1319.0 1261.47,1319.0 1262.00,1319.0 1262.53,1318.5 1263.06,1318.5 1263.59,1319.0 1264.12,1319.0 1264.65,1319.0 1265.18,1318.5 1265.70,1318.5 1266.23,1319.5 1266.76,1319.0 1267.29,1319.0 1267.82,1318.5 1268.35,1318.5 1268.88,1319.0 1269.41,1318.5 1269.94,1318.5 1270.47,1318.5 1271.00,1318.5 1271.53,1319.0 1272.06,1318.5 1272.59,1318.5 1273.12,1319.0 1273.65,1319.0 1274.18,1319.0 1274.71,1318.5 1275.24,1319.0 1275.77,1319.0 1276.30,1318.5 1276.83,1318.5 1277.36,1318.5 1277.89,1318.5 1278.42,1319.0 1278.94,1319.0 1279.47,1319.0 1280.00,1319.0 1280.53,1319.0 1281.06,1319.0 1281.59,1318.5 1282.12,1318.5 1282.65,1318.5 1283.18,1318.5 1283.71,1319.0 1284.24,1318.5 1284.77,1319.0 1285.30,1319.0 1285.83,1319.0 1286.36,1318.5 1286.89,1318.5 1287.42,1318.5 1287.95,1319.5 1288.48,1319.0 1289.01,1318.5 1289.54,1319.0 1290.07,1319.0 1290.60,1318.5 1291.13,1319.0 1291.66,1319.0 1292.18,1319.0 1292.71,1318.5 1293.24,1318.5 1293.77,1318.5 1294.30,1319.0 1294.83,1319.0 1295.36,1318.5 1295.89,1319.5 1296.42,1319.0 1296.95,1319.0 1297.48,1318.5 1298.01,1318.5 1298.54,1318.5 1299.07,1319.0 1299.60,1318.5 1300.13,1319.0 1300.66,1318.5 1301.19,1319.0 1301.72,1319.0 1302.25,1319.0 1302.78,1319.0 1303.31,1319.0 1303.84,1319.0 1304.37,1319.0 1304.90,1319.0 1305.42,1319.0 1305.95,1319.0 1306.48,1319.0 1307.01,1318.5 1307.54,1318.5 1308.07,1318.5 1308.60,1319.0 1309.13,1318.5 1309.66,1319.5 1310.19,1319.0 1310.72,1319.5 1311.25,1318.5 1311.78,1319.0 1312.31,1319.0 1312.84,1319.0 1313.37,1319.0 1313.90,1319.0 1314.43,1319.0 1314.96,1319.0 1315.49,1319.0 1316.02,1319.0 1316.55,1319.0 1317.08,1319.0 1317.61,1319.0 1318.14,1319.0 1318.66,1318.5 1319.19,1319.0 1319.72,1319.0 1320.25,1319.0 1320.78,1318.5 1321.31,1319.0 1321.84,1319.0 1322.37,1318.5 1322.90,1319.0 1323.43,1319.0 1323.96,1319.0 1324.49,1319.0 1325.02,1319.0 1325.55,1319.0 1326.08,1319.0 1326.61,1319.5 1327.14,1319.0 1327.67,1319.5 1328.20,1319.0 1328.73,1318.5 1329.26,1319.0 1329.79,1319.0 1330.32,1319.0 1330.85,1319.0 1331.38,1318.5 1331.90,1318.5 1332.43,1319.0 1332.96,1318.5 1333.49,1319.0 1334.02,1318.5 1334.55,1319.0 1335.08,1319.0 1335.61,1318.5 1336.14,1319.0 1336.67,1319.0 1337.20,1319.0 1337.73,1319.0 1338.26,1318.5 1338.79,1319.0 1339.32,1319.5 1339.85,1318.5 1340.38,1319.0 1340.91,1319.0 1341.44,1318.5 1341.97,1318.5 1342.50,1318.5 1343.03,1318.5 1343.56,1319.0 1344.09,1319.0 1344.62,1318.5 1345.14,1319.0 1345.67,1318.5 1346.20,1318.5 1346.73,1319.5 1347.26,1319.0 1347.79,1319.0 1348.32,1319.5 1348.85,1319.0 1349.38,1319.0 1349.91,1319.0 1350.44,1319.0 1350.97,1319.0 1351.50,1319.0 1352.03,1319.0 1352.56,1319.0 1353.09,1318.5 1353.62,1318.5 1354.15,1319.0 1354.68,1319.0 1355.21,1319.0 1355.74,1319.0 1356.27,1319.0 1356.80,1319.0 1357.33,1319.0 1357.86,1318.5 1358.38,1319.0 1358.91,1319.5 1359.44,1319.0 1359.97,1319.0 1360.50,1319.0 1361.03,1319.0 1361.56,1319.5 1362.09,1319.0 1362.62,1319.0 1363.15,1319.0 1363.68,1319.0 1364.21,1319.0 1364.74,1319.0 1365.27,1319.0 1365.80,1318.5 1366.33,1319.0 1366.86,1319.0 1367.39,1318.5 1367.92,1319.0 1368.45,1318.5 1368.98,1319.0 1369.51,1318.5 1370.04,1319.0 1370.57,1319.0 1371.10,1318.5 1371.62,1318.5 1372.15,1319.0 1372.68,1319.0 1373.21,1318.5 1373.74,1318.5 1374.27,1319.0 1374.80,1319.5 1375.33,1319.0 1375.86,1319.0 1376.39,1319.0 1376.92,1319.0 1377.45,1319.0 1377.98,1319.0 1378.51,1319.0 1379.04,1319.5 1379.57,1319.0 1380.10,1319.0 1380.63,1319.0 1381.16,1319.0 1381.69,1318.5 1382.22,1319.0 1382.75,1319.5 1383.28,1319.0 1383.81,1319.0 1384.34,1319.0 1384.86,1319.0 1385.39,1319.0 1385.92,1319.0 1386.45,1319.0 1386.98,1319.0 1387.51,1319.0 1388.04,1319.0 1388.57,1319.0 1389.10,1319.5 1389.63,1319.0 1390.16,1319.0 1390.69,1319.0 1391.22,1319.0 1391.75,1319.0 1392.28,1319.0 1392.81,1319.0 1393.34,1318.5 1393.87,1319.5 1394.40,1319.5 1394.93,1319.0 1395.46,1318.5 1395.99,1319.0 1396.52,1319.0 1397.05,1318.5 1397.58,1319.0 1398.10,1319.0 1398.63,1319.5 1399.16,1319.0 1399.69,1319.0 1400.22,1319.5 1400.75,1319.0 1401.28,1319.0 1401.81,1319.0 1402.34,1319.0 1402.87,1319.0 1403.40,1319.0 1403.93,1319.0 1404.46,1318.5 1404.99,1319.0 1405.52,1319.0 1406.05,1319.5 1406.58,1319.0 1407.11,1319.0 1407.64,1319.0 1408.17,1319.0 1408.70,1318.5 1409.23,1319.0 1409.76,1318.5 1410.29,1318.5 1410.82,1319.0 1411.34,1319.0 1411.87,1319.0 1412.40,1319.0 1412.93,1319.5 1413.46,1319.0 1413.99,1319.0 1414.52,1319.0 1415.05,1319.5 1415.58,1319.5 1416.11,1319.0 1416.64,1319.0 1417.17,1319.0 1417.70,1319.0 1418.23,1319.0 1418.76,1319.0 1419.29,1318.5 1419.82,1319.0 1420.35,1319.0 1420.88,1319.0 1421.41,1319.0 1421.94,1319.0 1422.47,1319.0 1423.00,1318.5 1423.53,1319.0 1424.06,1319.0 1424.58,1319.0 1425.11,1319.0 1425.64,1319.0 1426.17,1319.0 1426.70,1319.0 1427.23,1319.5 1427.76,1319.0 1428.29,1319.0 1428.82,1319.0 1429.35,1319.0 1429.88,1319.0 1430.41,1319.0 1430.94,1319.0 1431.47,1319.0 1432.00,1319.0 1432.53,1319.5 1433.06,1318.5 1433.59,1319.0 1434.12,1319.0 1434.65,1319.0 1435.18,1319.0 1435.71,1318.5 1436.24,1319.0 1436.77,1318.5 1437.30,1319.0 1437.82,1319.0 1438.35,1319.5 1438.88,1319.0 1439.41,1319.0 1439.94,1318.5 1440.47,1319.5 1441.00,1319.0 1441.53,1319.0 1442.06,1319.0 1442.59,1319.0 1443.12,1319.0 1443.65,1318.5 1444.18,1319.0 1444.71,1319.0 1445.24,1319.0 1445.77,1318.5 1446.30,1319.0 1446.83,1319.5 1447.36,1318.5 1447.89,1318.5 1448.42,1319.0 1448.95,1319.0 1449.48,1319.0 1450.01,1319.0 1450.54,1319.0 1451.06,1319.0 1451.59,1319.0 1452.12,1319.0 1452.65,1319.0 1453.18,1318.5 1453.71,1319.0 1454.24,1319.0 1454.77,1319.0 1455.30,1319.0 1455.83,1319.5 1456.36,1318.5 1456.89,1319.0 1457.42,1319.0 1457.95,1319.0 1458.48,1319.5 1459.01,1319.0 1459.54,1319.0 1460.07,1319.0 1460.60,1319.0 1461.13,1319.0 1461.66,1319.0 1462.19,1318.5 1462.72,1318.5 1463.25,1319.0 1463.78,1319.0 1464.30,1318.5 1464.83,1318.5 1465.36,1319.0 1465.89,1319.0 1466.42,1319.0 1466.95,1319.0 1467.48,1319.0 1468.01,1319.0 1468.54,1319.0 1469.07,1319.0 1469.60,1319.5 1470.13,1319.0 1470.66,1319.0 1471.19,1318.5 1471.72,1319.0 1472.25,1318.5 1472.78,1318.5 1473.31,1318.5 1473.84,1318.5 1474.37,1318.5 1474.90,1318.0 1475.43,1318.5 1475.96,1319.0 1476.49,1318.5 1477.02,1318.5 1477.54,1318.0 1478.07,1318.0 1478.60,1318.5 1479.13,1318.5 1479.66,1318.5 1480.19,1318.0 1480.72,1318.5 1481.25,1318.0 1481.78,1318.5 1482.31,1318.5 1482.84,1318.0 1483.37,1318.5 1483.90,1318.0 1484.43,1318.5 1484.96,1318.0 1485.49,1318.0 1486.02,1318.0 1486.55,1318.5 1487.08,1318.5 1487.61,1318.5 1488.14,1318.5 1488.67,1318.5 1489.20,1318.5 1489.73,1318.5 1490.26,1318.5 1490.78,1318.5 1491.31,1318.5 1491.84,1318.5 1492.37,1318.5 1492.90,1319.0 1493.43,1318.5 1493.96,1319.0 1494.49,1319.0 1495.02,1319.0 1495.55,1319.0 1496.08,1319.0 1496.61,1318.5 1497.14,1319.0 1497.67,1319.0 1498.20,1318.5 1498.73,1319.0 1499.26,1319.0 1499.79,1318.5 1500.32,1318.5 1500.85,1319.5 1501.38,1319.0 1501.91,1319.5 1502.44,1319.0 1502.97,1319.0 1503.50,1319.5 1504.02,1319.5 1504.55,1319.0 1505.08,1319.0 1505.61,1319.0 1506.14,1319.0 1506.67,1318.5 1507.20,1319.0 1507.73,1319.0 1508.26,1319.0 1508.79,1319.5 1509.32,1319.0 1509.85,1319.0 1510.38,1318.5 1510.91,1319.0 1511.44,1318.5 1511.97,1319.0 1512.50,1319.0 1513.03,1319.0 1513.56,1319.0 1514.09,1319.0 1514.62,1319.0 1515.15,1319.0 1515.68,1319.0 1516.21,1319.5 1516.74,1319.0 1517.26,1319.0 1517.79,1319.0 1518.32,1318.5 1518.85,1319.0 1519.38,1318.5 1519.91,1319.0 1520.44,1319.0 1520.97,1318.5 1521.50,1318.5 1522.03,1319.0 1522.56,1319.0 1523.09,1319.0 1523.62,1319.0 1524.15,1319.0 1524.68,1319.0 1525.21,1319.0 1525.74,1319.0 1526.27,1319.0 1526.80,1319.0 1527.33,1319.0 1527.86,1319.5 1528.39,1319.0 1528.92,1318.5 1529.45,1319.0 1529.98,1319.0 1530.50,1319.0 1531.03,1319.0 1531.56,1319.0 1532.09,1319.0 1532.62,1319.5 1533.15,1319.0 1533.68,1319.0 1534.21,1319.0 1534.74,1319.0 1535.27,1319.0 1535.80,1319.0 1536.33,1319.0 1536.86,1319.0 1537.39,1319.0 1537.92,1319.0 1538.45,1319.0 1538.98,1319.0 1539.51,1319.0 1540.04,1319.5 1540.57,1319.0 1541.10,1318.5 1541.63,1319.0 1542.16,1319.0 1542.69,1319.5 1543.22,1319.0 1543.74,1319.0 1544.27,1319.5 1544.80,1319.0 1545.33,1318.5 1545.86,1319.0 1546.39,1319.0 1546.92,1318.5 1547.45,1319.0 1547.98,1319.0 1548.51,1319.5 1549.04,1319.0 1549.57,1319.0 1550.10,1319.0 1550.63,1319.0 1551.16,1318.5 1551.69,1319.0 1552.22,1318.5 1552.75,1319.0 1553.28,1319.5 1553.81,1319.0 1554.34,1319.0 1554.87,1319.0 1555.40,1318.5 1555.93,1319.0 1556.46,1319.0 1556.98,1319.0 1557.51,1319.0 1558.04,1319.0 1558.57,1319.0 1559.10,1319.0 1559.63,1319.0 1560.16,1319.0 1560.69,1319.0 1561.22,1319.0 1561.75,1319.0 1562.28,1319.0 1562.81,1318.5 1563.34,1319.0 1563.87,1319.5 1564.40,1319.0 1564.93,1319.0 1565.46,1319.0 1565.99,1319.0 1566.52,1319.0 1567.05,1319.0 1567.58,1319.0 1568.11,1318.5 1568.64,1319.5 1569.17,1319.0 1569.70,1319.0 1570.22,1319.0 1570.75,1319.0 1571.28,1319.0 1571.81,1319.0 1572.34,1319.0 1572.87,1319.0 1573.40,1318.5 1573.93,1319.0 1574.46,1319.5 1574.99,1319.0 1575.52,1319.0 1576.05,1319.0 1576.58,1318.5 1577.11,1319.0 1577.64,1319.0 1578.17,1319.5 1578.70,1319.0 1579.23,1319.0 1579.76,1319.0 1580.29,1319.0 1580.82,1319.5 1581.35,1319.5 1581.88,1319.0 1582.41,1318.5 1582.94,1319.0 1583.46,1319.0 1583.99,1319.0 1584.52,1318.5 1585.05,1319.5 1585.58,1318.5 1586.11,1319.0 1586.64,1319.0 1587.17,1319.0 1587.70,1319.0 1588.23,1318.5 1588.76,1319.0 1589.29,1319.0 1589.82,1319.0 1590.35,1319.0 1590.88,1319.0 1591.41,1318.5 1591.94,1319.0 1592.47,1319.0 1593.00,1319.0 1593.53,1318.5 1594.06,1319.0 1594.59,1319.0 1595.12,1319.0 1595.65,1319.0 1596.18,1319.5 1596.70,1319.5 1597.23,1319.0 1597.76,1318.5 1598.29,1318.5 1598.82,1319.0 1599.35,1318.5 1599.88,1319.0 1600.41,1318.5 1600.94,1319.0 1601.47,1319.0 1602.00,1318.5 1602.53,1319.0 1603.06,1319.0 1603.59,1319.0 1604.12,1319.0 1604.65,1319.0 1605.18,1319.0 1605.71,1319.0 1606.24,1319.0 1606.77,1318.5 1607.30,1319.0 1607.83,1318.5 1608.36,1319.0 1608.89,1318.5 1609.42,1319.0 1609.94,1319.0 1610.47,1318.5 1611.00,1319.0 1611.53,1319.0 1612.06,1319.0 1612.59,1319.0 1613.12,1319.0 1613.65,1319.0 1614.18,1318.5 1614.71,1319.0 1615.24,1319.0 1615.77,1318.5 1616.30,1319.0 1616.83,1319.0 1617.36,1319.0 1617.89,1319.5 1618.42,1319.0 1618.95,1319.0 1619.48,1319.5 1620.01,1319.0 1620.54,1319.0 1621.07,1319.5 1621.60,1319.0 1622.13,1319.0 1622.66,1319.0 1623.18,1319.5 1623.71,1319.5 1624.24,1319.0 1624.77,1319.0 1625.30,1319.0 1625.83,1319.0 1626.36,1319.0 1626.89,1319.0 1627.42,1319.0 1627.95,1319.0 1628.48,1319.0 1629.01,1319.0 1629.54,1319.0 1630.07,1319.0 1630.60,1319.0 1631.13,1319.0 1631.66,1319.5 1632.19,1319.0 1632.72,1319.0 1633.25,1319.0 1633.78,1319.0 1634.31,1319.5 1634.84,1319.0 1635.37,1319.0 1635.90,1319.0 1636.42,1319.0 1636.95,1319.5 1637.48,1319.0 1638.01,1319.0 1638.54,1319.0 1639.07,1319.0 1639.60,1319.0 1640.13,1319.5 1640.66,1319.5 1641.19,1319.0 1641.72,1319.0 1642.25,1319.0 1642.78,1319.0 1643.31,1319.5 1643.84,1318.5 1644.37,1319.0 1644.90,1318.5 1645.43,1319.0 1645.96,1318.5 1646.49,1318.5 1647.02,1319.0 1647.55,1319.0 1648.08,1319.0 1648.61,1318.5 1649.14,1319.0 1649.66,1319.0 1650.19,1319.0 1650.72,1319.0 1651.25,1319.0 1651.78,1319.0 1652.31,1319.0 1652.84,1319.0 1653.37,1319.0 1653.90,1318.5 1654.43,1319.0 1654.96,1319.0 1655.49,1319.0 1656.02,1319.0 1656.55,1319.0 1657.08,1319.0 1657.61,1319.5 1658.14,1319.0 1658.67,1319.0 1659.20,1319.0 1659.73,1319.5 1660.26,1319.0 1660.79,1319.5 1661.32,1319.0 1661.85,1319.0 1662.38,1319.5 1662.90,1319.0 1663.43,1319.0 1663.96,1319.0 1664.49,1319.0 1665.02,1319.5 1665.55,1319.0 1666.08,1319.5 1666.61,1319.0 1667.14,1319.5 1667.67,1319.0 1668.20,1318.5 1668.73,1318.5 1669.26,1319.5 1669.79,1319.0 1670.32,1319.0 1670.85,1319.0 1671.38,1319.5 1671.91,1319.5 1672.44,1319.0 1672.97,1319.0 1673.50,1319.0 1674.03,1319.0 1674.56,1319.0 1675.09,1318.5 1675.62,1319.0 1676.14,1318.5 1676.67,1319.0 1677.20,1319.0 1677.73,1319.5 1678.26,1319.0 1678.79,1319.0 1679.32,1319.0 1679.85,1319.0 1680.38,1319.0 1680.91,1319.0 1681.44,1319.0 1681.97,1319.0 1682.50,1319.0 1683.03,1319.0 1683.56,1319.0 1684.09,1319.0 1684.62,1319.0 1685.15,1319.0 1685.68,1319.0 1686.21,1318.5 1686.74,1318.5 1687.27,1319.0 1687.80,1318.5 1688.33,1319.0 1688.86,1318.5 1689.38,1318.5 1689.91,1319.0 1690.44,1319.5 1690.97,1319.5 1691.50,1319.0 1692.03,1319.0 1692.56,1319.0 1693.09,1319.5 1693.62,1319.0 1694.15,1319.0 1694.68,1319.5 1695.21,1319.5 1695.74,1319.0 1696.27,1319.0 1696.80,1319.0 1697.33,1318.5 1697.86,1319.5 1698.39,1319.0 1698.92,1319.0 1699.45,1319.0 1699.98,1319.0 1700.51,1319.0 1701.04,1319.0 1701.57,1319.0 1702.10,1319.0 1702.62,1319.0 1703.15,1319.0 1703.68,1319.0 1704.21,1319.0 1704.74,1319.0 1705.27,1319.0 1705.80,1318.5 1706.33,1318.5 1706.86,1319.0 1707.39,1319.5 1707.92,1319.0 1708.45,1319.0 1708.98,1319.5 1709.51,1319.0 1710.04,1319.0 1710.57,1319.0 1711.10,1319.5 1711.63,1319.0 1712.16,1319.0 1712.69,1319.0 1713.22,1319.0 1713.75,1318.5 1714.28,1319.0 1714.81,1319.0 1715.34,1319.0 1715.86,1319.0 1716.39,1319.0 1716.92,1319.0 1717.45,1319.5 1717.98,1319.0 1718.51,1319.0 1719.04,1319.0 1719.57,1319.0 1720.10,1319.0 1720.63,1319.5 1721.16,1319.0 1721.69,1319.0 1722.22,1319.0 1722.75,1319.5 1723.28,1319.0 1723.81,1319.0 1724.34,1318.5 1724.87,1319.0 1725.40,1318.5 1725.93,1319.0 1726.46,1318.5 1726.99,1318.5 1727.52,1319.0 1728.05,1319.0 1728.58,1319.0 1729.10,1318.5 1729.63,1319.0 1730.16,1319.0 1730.69,1319.0 1731.22,1319.0 1731.75,1319.0 1732.28,1318.5 1732.81,1319.0 1733.34,1318.5 1733.87,1318.5 1734.40,1318.5 1734.93,1318.5 1735.46,1318.5 1735.99,1318.5 1736.52,1318.5 1737.05,1318.5 1737.58,1318.5 1738.11,1318.0 1738.64,1318.0 1739.17,1318.0 1739.70,1318.5 1740.23,1318.5 1740.76,1318.5 1741.29,1318.0 1741.82,1318.0 1742.34,1318.5 1742.87,1318.5 1743.40,1318.5 1743.93,1318.5 1744.46,1318.5 1744.99,1319.0 1745.52,1318.5 1746.05,1318.5 1746.58,1318.5 1747.11,1318.5 1747.64,1319.5 1748.17,1318.5 1748.70,1319.0 1749.23,1318.5 1749.76,1318.5 1750.29,1318.5 1750.82,1318.5 1751.35,1318.5 1751.88,1318.5 1752.41,1319.0 1752.94,1319.0 1753.47,1319.0 1754.00,1319.0 1754.53,1319.0 1755.06,1319.0 1755.58,1319.0 1756.11,1319.0 1756.64,1319.0 1757.17,1319.0 1757.70,1319.0 1758.23,1319.0 1758.76,1319.0 1759.29,1319.0 1759.82,1319.0 1760.35,1319.0 1760.88,1319.0 1761.41,1319.0 1761.94,1319.5 1762.47,1318.5 1763.00,1319.0 1763.53,1319.0 1764.06,1319.5 1764.59,1318.5 1765.12,1319.0 1765.65,1319.0 1766.18,1319.5 1766.71,1319.0 1767.24,1318.5 1767.77,1319.0 1768.30,1319.0 1768.82,1319.0 1769.35,1319.0 1769.88,1319.0 1770.41,1319.0 1770.94,1319.0 1771.47,1319.0 1772.00,1319.0 1772.53,1319.0 1773.06,1319.0 1773.59,1319.0 1774.12,1319.0 1774.65,1319.5 1775.18,1319.0 1775.71,1319.0 1776.24,1319.0 1776.77,1319.0 1777.30,1319.5 1777.83,1319.5 1778.36,1319.0 1778.89,1319.0 1779.42,1318.5 1779.95,1319.0 1780.48,1319.0 1781.01,1319.0 1781.54,1318.5 1782.06,1319.5 1782.59,1319.5 1783.12,1319.0 1783.65,1319.0 1784.18,1319.0 1784.71,1319.0 1785.24,1319.0 1785.77,1319.0 1786.30,1319.0 1786.83,1318.5 1787.36,1319.0 1787.89,1318.5 1788.42,1319.0 1788.95,1319.0 1789.48,1319.0 1790.01,1319.0 1790.54,1319.0 1791.07,1318.5 1791.60,1319.0 1792.13,1319.0 1792.66,1319.0 1793.19,1319.0 1793.72,1319.0 1794.25,1318.5 1794.78,1319.0 1795.30,1319.0 1795.83,1318.5 1796.36,1319.0 1796.89,1319.0 1797.42,1319.0 1797.95,1319.0 1798.48,1319.0 1799.01,1319.0 1799.54,1319.0 1800.07,1319.0 1800.60,1319.0 1801.13,1319.0 1801.66,1319.0 1802.19,1319.5 1802.72,1318.5 1803.25,1319.0 1803.78,1319.0 1804.31,1319.0 1804.84,1319.0 1805.37,1319.0 1805.90,1319.0 1806.43,1319.0 1806.96,1318.5 1807.49,1319.0 1808.02,1319.0 1808.54,1318.5 1809.07,1319.0 1809.60,1319.0 1810.13,1319.0 1810.66,1318.5 1811.19,1319.0 1811.72,1319.0 1812.25,1319.0 1812.78,1319.0 1813.31,1319.0 1813.84,1319.0 1814.37,1319.5 1814.90,1319.0 1815.43,1318.5 1815.96,1319.0 1816.49,1319.5 1817.02,1319.0 1817.55,1318.5 1818.08,1319.0 1818.61,1319.0 1819.14,1319.0 1819.67,1319.0 1820.20,1319.0 1820.73,1319.5 1821.26,1319.0 1821.78,1319.0 1822.31,1319.0 1822.84,1319.0 1823.37,1319.5 1823.90,1319.0 1824.43,1319.0 1824.96,1319.0 1825.49,1319.5 1826.02,1319.0 1826.55,1319.5 1827.08,1319.0 1827.61,1318.5 1828.14,1319.0 1828.67,1318.5 1829.20,1319.0 1829.73,1319.0 1830.26,1319.0 1830.79,1319.0 1831.32,1318.5 1831.85,1319.0 1832.38,1319.0 1832.91,1319.0 1833.44,1319.0 1833.97,1318.5 1834.50,1319.0 1835.02,1319.0 1835.55,1319.0 1836.08,1319.0 1836.61,1318.5 1837.14,1319.0 1837.67,1319.0 1838.20,1318.5 1838.73,1319.0 1839.26,1319.0 1839.79,1319.0 1840.32,1319.0 1840.85,1319.0 1841.38,1319.0 1841.91,1319.0 1842.44,1318.5 1842.97,1319.0 1843.50,1319.0 1844.03,1319.0 1844.56,1319.0 1845.09,1319.0 1845.62,1319.0 1846.15,1319.5 1846.68,1319.0 1847.21,1319.0 1847.74,1319.0 1848.26,1318.5 1848.79,1318.5 1849.32,1318.5 1849.85,1319.5 1850.38,1319.0 1850.91,1319.0 1851.44,1319.0 1851.97,1319.0 1852.50,1319.0 1853.03,1319.0 1853.56,1319.0 1854.09,1319.0 1854.62,1319.0 1855.15,1318.5 1855.68,1319.0 1856.21,1319.0 1856.74,1319.0 1857.27,1319.0 1857.80,1318.5 1858.33,1318.5 1858.86,1319.0 1859.39,1318.5 1859.92,1319.0 1860.45,1319.0 1860.98,1319.0 1861.50,1318.5 1862.03,1319.0 1862.56,1318.5 1863.09,1319.0 1863.62,1319.0 1864.15,1319.0 1864.68,1319.0 1865.21,1319.0 1865.74,1318.5 1866.27,1319.0 1866.80,1318.5 1867.33,1319.0 1867.86,1319.0 1868.39,1318.5 1868.92,1319.0 1869.45,1318.5 1869.98,1319.0 1870.51,1319.0 1871.04,1319.0 1871.57,1319.0 1872.10,1318.5 1872.63,1319.5 1873.16,1318.5 1873.69,1319.0 1874.22,1319.0 1874.74,1319.0 1875.27,1319.0 1875.80,1319.0 1876.33,1318.5 1876.86,1319.0 1877.39,1318.5 1877.92,1319.0 1878.45,1319.0 1878.98,1319.5 1879.51,1318.5 1880.04,1318.5 1880.57,1319.0 1881.10,1319.0"/>
<rect class="x" x="27.5" y="28.5" width="1986.0" height="1524.0" fill="none" stroke="#000" stroke-width="7"/>
<line class="x" x1="292.3" y1="1519" x2="292.3" y2="1552.5" stroke="#000" stroke-width="7"/>
<line class="x" x1="557.1" y1="1519" x2="557.1" y2="1552.5" stroke="#000" stroke-width="7"/>
<line class="x" x1="821.9" y1="1519" x2="821.9" y2="1552.5" stroke="#000" stroke-width="7"/>
<line class="x" x1="1086.7" y1="1519" x2="1086.7" y2="1552.5" stroke="#000" stroke-width="7"/>
<line class="x" x1="1351.5" y1="1519" x2="1351.5" y2="1552.5" stroke="#000" stroke-width="7"/>
<line class="x" x1="1616.3" y1="1519" x2="1616.3" y2="1552.5" stroke="#000" stroke-width="7"/>
<line class="x" x1="1881.1" y1="1519" x2="1881.1" y2="1552.5" stroke="#000" stroke-width="7"/>
<text class="tk" x="27.5" y="1648">0</text>
<text class="tk" x="292.3" y="1648">10</text>
<text class="tk" x="557.1" y="1648">20</text>
<text class="tk" x="821.9" y="1648">30</text>
<text class="tk" x="1086.7" y="1648">40</text>
<text class="tk" x="1351.5" y="1648">50</text>
<text class="tk" x="1616.3" y="1648">60</text>
<text class="tk" x="1881.1" y="1648">70</text>
<text class="ax" x="1029" y="1761.3">2Theta/°</text>
<line class="x" x1="984" y1="127.5" x2="1170" y2="127.5" stroke="#000" stroke-width="3"/>
<text x="1186.5" y="155">Natural Muscovite</text>
<line class="x" x1="984" y1="227.5" x2="1170" y2="227.5" stroke="#00f" stroke-width="3"/>
<text x="1186.5" y="255">Calcinated Muscovite</text>
<line class="x" x1="984" y1="327.5" x2="1170" y2="327.5" stroke="#f00" stroke-width="3"/>
<text x="1186.5" y="355">Leached Muscovite</text>
<text class="pk" transform="translate(348 157) rotate(-90)">(001)</text>
<text class="pk" transform="translate(530 499.8) rotate(-90)">(002)</text>
<text class="pk" transform="translate(773 162) rotate(-90)">(003)</text>
<text class="pk" transform="translate(1016 584.2) rotate(-90)">(131)</text>
<text class="pk" transform="translate(1259 507.1) rotate(-90)">(005)</text>
<text class="pk" transform="translate(1522 619.1) rotate(-90)">(151)</text>
</svg>
</body>
</html>
